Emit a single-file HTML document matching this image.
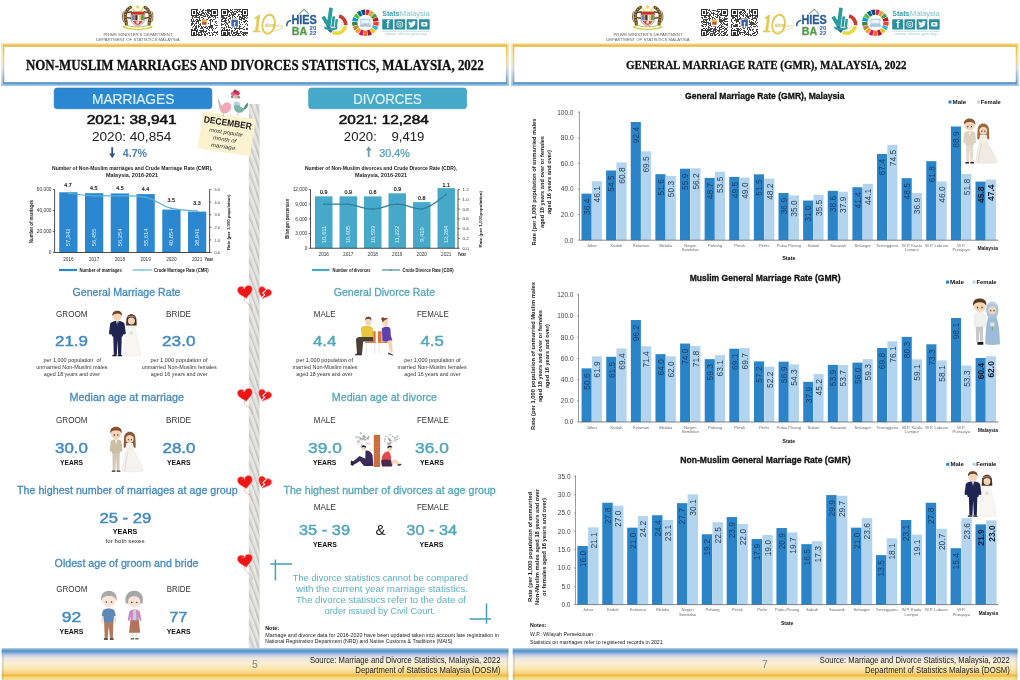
<!DOCTYPE html>
<html lang="en">
<head>
<meta charset="utf-8">
<title>Non-Muslim Marriages and Divorces Statistics, Malaysia, 2022</title>
<style>
html,body{margin:0;padding:0;background:#fff;}
body{width:1020px;height:680px;overflow:hidden;font-family:"Liberation Sans","DejaVu Sans",sans-serif;}
svg{display:block;}
svg text{font-family:"Liberation Sans","DejaVu Sans",sans-serif;white-space:pre;}
svg text.sf{font-family:"Liberation Serif","DejaVu Serif",serif;}
</style>
</head>
<body>
<svg width="1020" height="680" viewBox="0 0 1020 680">
<rect width="1020" height="680" fill="#fff"/>
<g transform="translate(0,0)"><path d="M132.8,6.2 c0.4,3.4 2.2,5 4.9,5 c2.7,0 4.5,-1.6 4.9,-5 c1.2,4.6 -1.2,7.4 -4.9,7.4 c-3.7,0 -6.1,-2.8 -4.9,-7.4z" fill="#EDD460"/><path d="M137.7,4.6 l0.7,1.5 l1.6,0.2 l-1.2,1.1 l0.3,1.6 l-1.4,-0.8 l-1.4,0.8 l0.3,-1.6 l-1.2,-1.1 l1.6,-0.2z" fill="#EDD460"/><path d="M130.4,7.4 C126.6,9.2 124.4,13.8 125.3,18.4 C125.7,20.4 126.6,22.3 126.3,24.2" stroke="#5A3F1E" stroke-width="3.1" fill="none" stroke-linecap="round"/><path d="M130.4,7.4 C126.6,9.2 124.4,13.8 125.3,18.4 C125.7,20.4 126.6,22.3 126.3,24.2" stroke="#D9A43C" stroke-width="1.5" fill="none" stroke-dasharray="1.3 1.5"/><path d="M127.2,12.6 L131.2,11.8 M127,17.6 L131,18.3" stroke="#5A3F1E" stroke-width="1.4" fill="none" stroke-linecap="round"/><path d="M124.3,22.5 C121.8,19.5 122.2,14.5 123.6,11.5" stroke="#5A3F1E" stroke-width="0.8" fill="none"/><g transform="translate(275.4,0) scale(-1,1)"><path d="M130.4,7.4 C126.6,9.2 124.4,13.8 125.3,18.4 C125.7,20.4 126.6,22.3 126.3,24.2" stroke="#5A3F1E" stroke-width="3.1" fill="none" stroke-linecap="round"/><path d="M130.4,7.4 C126.6,9.2 124.4,13.8 125.3,18.4 C125.7,20.4 126.6,22.3 126.3,24.2" stroke="#D9A43C" stroke-width="1.5" fill="none" stroke-dasharray="1.3 1.5"/><path d="M127.2,12.6 L131.2,11.8 M127,17.6 L131,18.3" stroke="#5A3F1E" stroke-width="1.4" fill="none" stroke-linecap="round"/><path d="M124.3,22.5 C121.8,19.5 122.2,14.5 123.6,11.5" stroke="#5A3F1E" stroke-width="0.8" fill="none"/></g><path d="M131,12 h13.4 v7.5 c0,3.4 -3.2,5.6 -6.7,6.5 c-3.5,-0.9 -6.7,-3.1 -6.7,-6.5z" fill="#fff" stroke="#9A2C24" stroke-width="0.5"/><rect x="131" y="12" width="13.4" height="2.7" fill="#C8302A"/><rect x="131.6" y="15.1" width="2.6" height="5.3" fill="#4D8CC0"/><rect x="134.5" y="15.1" width="1.6" height="5.3" fill="#C8302A"/><rect x="136.1" y="15.1" width="1.6" height="5.3" fill="#222"/><rect x="137.7" y="15.1" width="1.5" height="5.3" fill="#F4F4F0"/><rect x="139.2" y="15.1" width="1.6" height="5.3" fill="#E6C23C"/><rect x="141.1" y="15.1" width="2.7" height="5.3" fill="#4A9A50"/><path d="M132.7,20.9 h10 c-1,2.3 -3,3.5 -5,4.1 c-2,-0.6 -4,-1.8 -5,-4.1z" fill="#D9463C"/><circle cx="137.7" cy="22.4" r="1.4" fill="#fff" opacity="0.85"/><path d="M123.8,25.4 C128,29.7 147.4,29.7 151.6,25.4 L152.8,27 C148,31 127.4,31 122.6,27z" fill="#D6CC42"/><path d="M126,24.6 C130,27.6 145.4,27.6 149.4,24.6" fill="none" stroke="#A8BC4A" stroke-width="0.9"/></g><text x="103.5" y="36" font-size="3.9" fill="#666" textLength="69" lengthAdjust="spacingAndGlyphs">PRIME MINISTER'S DEPARTMENT</text>
<text x="96.3" y="40.5" font-size="3.9" fill="#666" textLength="83.2" lengthAdjust="spacingAndGlyphs">DEPARTMENT OF STATISTICS MALAYSIA</text>
<g shape-rendering="crispEdges"><rect x="190.8" y="9.2" width="27.2" height="27.2" fill="#fff" />
<path d="M197.37,9.2h0.94v0.94h-0.94zM200.18,9.2h0.94v0.94h-0.94zM202.99,9.2h0.94v0.94h-0.94zM206.74,9.2h0.94v0.94h-0.94zM207.68,9.2h0.94v0.94h-0.94zM208.62,9.2h0.94v0.94h-0.94zM197.37,10.14h0.94v0.94h-0.94zM202.06,10.14h0.94v0.94h-0.94zM202.99,10.14h0.94v0.94h-0.94zM204.87,10.14h0.94v0.94h-0.94zM205.81,10.14h0.94v0.94h-0.94zM206.74,10.14h0.94v0.94h-0.94zM207.68,10.14h0.94v0.94h-0.94zM208.62,10.14h0.94v0.94h-0.94zM209.56,10.14h0.94v0.94h-0.94zM199.24,11.08h0.94v0.94h-0.94zM201.12,11.08h0.94v0.94h-0.94zM202.06,11.08h0.94v0.94h-0.94zM206.74,11.08h0.94v0.94h-0.94zM207.68,11.08h0.94v0.94h-0.94zM208.62,11.08h0.94v0.94h-0.94zM209.56,11.08h0.94v0.94h-0.94zM197.37,12.01h0.94v0.94h-0.94zM199.24,12.01h0.94v0.94h-0.94zM202.06,12.01h0.94v0.94h-0.94zM202.99,12.01h0.94v0.94h-0.94zM204.87,12.01h0.94v0.94h-0.94zM206.74,12.01h0.94v0.94h-0.94zM207.68,12.01h0.94v0.94h-0.94zM210.5,12.01h0.94v0.94h-0.94zM197.37,12.95h0.94v0.94h-0.94zM198.3,12.95h0.94v0.94h-0.94zM201.12,12.95h0.94v0.94h-0.94zM202.06,12.95h0.94v0.94h-0.94zM202.99,12.95h0.94v0.94h-0.94zM203.93,12.95h0.94v0.94h-0.94zM205.81,12.95h0.94v0.94h-0.94zM207.68,12.95h0.94v0.94h-0.94zM208.62,12.95h0.94v0.94h-0.94zM210.5,12.95h0.94v0.94h-0.94zM198.3,13.89h0.94v0.94h-0.94zM199.24,13.89h0.94v0.94h-0.94zM200.18,13.89h0.94v0.94h-0.94zM201.12,13.89h0.94v0.94h-0.94zM203.93,13.89h0.94v0.94h-0.94zM205.81,13.89h0.94v0.94h-0.94zM206.74,13.89h0.94v0.94h-0.94zM209.56,13.89h0.94v0.94h-0.94zM197.37,14.83h0.94v0.94h-0.94zM198.3,14.83h0.94v0.94h-0.94zM200.18,14.83h0.94v0.94h-0.94zM201.12,14.83h0.94v0.94h-0.94zM202.06,14.83h0.94v0.94h-0.94zM202.99,14.83h0.94v0.94h-0.94zM204.87,14.83h0.94v0.94h-0.94zM206.74,14.83h0.94v0.94h-0.94zM207.68,14.83h0.94v0.94h-0.94zM209.56,14.83h0.94v0.94h-0.94zM191.74,15.77h0.94v0.94h-0.94zM192.68,15.77h0.94v0.94h-0.94zM195.49,15.77h0.94v0.94h-0.94zM196.43,15.77h0.94v0.94h-0.94zM199.24,15.77h0.94v0.94h-0.94zM202.99,15.77h0.94v0.94h-0.94zM203.93,15.77h0.94v0.94h-0.94zM204.87,15.77h0.94v0.94h-0.94zM206.74,15.77h0.94v0.94h-0.94zM208.62,15.77h0.94v0.94h-0.94zM211.43,15.77h0.94v0.94h-0.94zM212.37,15.77h0.94v0.94h-0.94zM214.25,15.77h0.94v0.94h-0.94zM215.19,15.77h0.94v0.94h-0.94zM191.74,16.7h0.94v0.94h-0.94zM193.61,16.7h0.94v0.94h-0.94zM194.55,16.7h0.94v0.94h-0.94zM195.49,16.7h0.94v0.94h-0.94zM196.43,16.7h0.94v0.94h-0.94zM197.37,16.7h0.94v0.94h-0.94zM198.3,16.7h0.94v0.94h-0.94zM199.24,16.7h0.94v0.94h-0.94zM201.12,16.7h0.94v0.94h-0.94zM202.06,16.7h0.94v0.94h-0.94zM207.68,16.7h0.94v0.94h-0.94zM208.62,16.7h0.94v0.94h-0.94zM209.56,16.7h0.94v0.94h-0.94zM213.31,16.7h0.94v0.94h-0.94zM215.19,16.7h0.94v0.94h-0.94zM217.06,16.7h0.94v0.94h-0.94zM191.74,17.64h0.94v0.94h-0.94zM199.24,17.64h0.94v0.94h-0.94zM202.99,17.64h0.94v0.94h-0.94zM207.68,17.64h0.94v0.94h-0.94zM210.5,17.64h0.94v0.94h-0.94zM215.19,17.64h0.94v0.94h-0.94zM190.8,18.58h0.94v0.94h-0.94zM192.68,18.58h0.94v0.94h-0.94zM194.55,18.58h0.94v0.94h-0.94zM196.43,18.58h0.94v0.94h-0.94zM197.37,18.58h0.94v0.94h-0.94zM199.24,18.58h0.94v0.94h-0.94zM202.06,18.58h0.94v0.94h-0.94zM202.99,18.58h0.94v0.94h-0.94zM203.93,18.58h0.94v0.94h-0.94zM205.81,18.58h0.94v0.94h-0.94zM206.74,18.58h0.94v0.94h-0.94zM209.56,18.58h0.94v0.94h-0.94zM211.43,18.58h0.94v0.94h-0.94zM213.31,18.58h0.94v0.94h-0.94zM214.25,18.58h0.94v0.94h-0.94zM190.8,19.52h0.94v0.94h-0.94zM192.68,19.52h0.94v0.94h-0.94zM193.61,19.52h0.94v0.94h-0.94zM194.55,19.52h0.94v0.94h-0.94zM199.24,19.52h0.94v0.94h-0.94zM200.18,19.52h0.94v0.94h-0.94zM207.68,19.52h0.94v0.94h-0.94zM208.62,19.52h0.94v0.94h-0.94zM209.56,19.52h0.94v0.94h-0.94zM210.5,19.52h0.94v0.94h-0.94zM212.37,19.52h0.94v0.94h-0.94zM213.31,19.52h0.94v0.94h-0.94zM216.12,19.52h0.94v0.94h-0.94zM217.06,19.52h0.94v0.94h-0.94zM190.8,20.46h0.94v0.94h-0.94zM192.68,20.46h0.94v0.94h-0.94zM195.49,20.46h0.94v0.94h-0.94zM197.37,20.46h0.94v0.94h-0.94zM198.3,20.46h0.94v0.94h-0.94zM199.24,20.46h0.94v0.94h-0.94zM200.18,20.46h0.94v0.94h-0.94zM208.62,20.46h0.94v0.94h-0.94zM209.56,20.46h0.94v0.94h-0.94zM210.5,20.46h0.94v0.94h-0.94zM212.37,20.46h0.94v0.94h-0.94zM190.8,21.39h0.94v0.94h-0.94zM191.74,21.39h0.94v0.94h-0.94zM192.68,21.39h0.94v0.94h-0.94zM193.61,21.39h0.94v0.94h-0.94zM194.55,21.39h0.94v0.94h-0.94zM196.43,21.39h0.94v0.94h-0.94zM197.37,21.39h0.94v0.94h-0.94zM198.3,21.39h0.94v0.94h-0.94zM209.56,21.39h0.94v0.94h-0.94zM212.37,21.39h0.94v0.94h-0.94zM215.19,21.39h0.94v0.94h-0.94zM216.12,21.39h0.94v0.94h-0.94zM191.74,22.33h0.94v0.94h-0.94zM196.43,22.33h0.94v0.94h-0.94zM198.3,22.33h0.94v0.94h-0.94zM209.56,22.33h0.94v0.94h-0.94zM215.19,22.33h0.94v0.94h-0.94zM190.8,23.27h0.94v0.94h-0.94zM191.74,23.27h0.94v0.94h-0.94zM192.68,23.27h0.94v0.94h-0.94zM195.49,23.27h0.94v0.94h-0.94zM196.43,23.27h0.94v0.94h-0.94zM198.3,23.27h0.94v0.94h-0.94zM200.18,23.27h0.94v0.94h-0.94zM207.68,23.27h0.94v0.94h-0.94zM209.56,23.27h0.94v0.94h-0.94zM210.5,23.27h0.94v0.94h-0.94zM216.12,23.27h0.94v0.94h-0.94zM190.8,24.21h0.94v0.94h-0.94zM191.74,24.21h0.94v0.94h-0.94zM193.61,24.21h0.94v0.94h-0.94zM199.24,24.21h0.94v0.94h-0.94zM200.18,24.21h0.94v0.94h-0.94zM209.56,24.21h0.94v0.94h-0.94zM214.25,24.21h0.94v0.94h-0.94zM190.8,25.14h0.94v0.94h-0.94zM193.61,25.14h0.94v0.94h-0.94zM196.43,25.14h0.94v0.94h-0.94zM198.3,25.14h0.94v0.94h-0.94zM200.18,25.14h0.94v0.94h-0.94zM209.56,25.14h0.94v0.94h-0.94zM210.5,25.14h0.94v0.94h-0.94zM211.43,25.14h0.94v0.94h-0.94zM212.37,25.14h0.94v0.94h-0.94zM215.19,25.14h0.94v0.94h-0.94zM216.12,25.14h0.94v0.94h-0.94zM217.06,25.14h0.94v0.94h-0.94zM192.68,26.08h0.94v0.94h-0.94zM194.55,26.08h0.94v0.94h-0.94zM195.49,26.08h0.94v0.94h-0.94zM196.43,26.08h0.94v0.94h-0.94zM198.3,26.08h0.94v0.94h-0.94zM199.24,26.08h0.94v0.94h-0.94zM201.12,26.08h0.94v0.94h-0.94zM202.99,26.08h0.94v0.94h-0.94zM204.87,26.08h0.94v0.94h-0.94zM205.81,26.08h0.94v0.94h-0.94zM207.68,26.08h0.94v0.94h-0.94zM208.62,26.08h0.94v0.94h-0.94zM209.56,26.08h0.94v0.94h-0.94zM211.43,26.08h0.94v0.94h-0.94zM212.37,26.08h0.94v0.94h-0.94zM191.74,27.02h0.94v0.94h-0.94zM195.49,27.02h0.94v0.94h-0.94zM196.43,27.02h0.94v0.94h-0.94zM198.3,27.02h0.94v0.94h-0.94zM201.12,27.02h0.94v0.94h-0.94zM202.06,27.02h0.94v0.94h-0.94zM203.93,27.02h0.94v0.94h-0.94zM204.87,27.02h0.94v0.94h-0.94zM206.74,27.02h0.94v0.94h-0.94zM208.62,27.02h0.94v0.94h-0.94zM209.56,27.02h0.94v0.94h-0.94zM211.43,27.02h0.94v0.94h-0.94zM212.37,27.02h0.94v0.94h-0.94zM216.12,27.02h0.94v0.94h-0.94zM193.61,27.96h0.94v0.94h-0.94zM194.55,27.96h0.94v0.94h-0.94zM195.49,27.96h0.94v0.94h-0.94zM196.43,27.96h0.94v0.94h-0.94zM200.18,27.96h0.94v0.94h-0.94zM201.12,27.96h0.94v0.94h-0.94zM202.06,27.96h0.94v0.94h-0.94zM205.81,27.96h0.94v0.94h-0.94zM206.74,27.96h0.94v0.94h-0.94zM208.62,27.96h0.94v0.94h-0.94zM210.5,27.96h0.94v0.94h-0.94zM211.43,27.96h0.94v0.94h-0.94zM213.31,27.96h0.94v0.94h-0.94zM215.19,27.96h0.94v0.94h-0.94zM190.8,28.9h0.94v0.94h-0.94zM191.74,28.9h0.94v0.94h-0.94zM193.61,28.9h0.94v0.94h-0.94zM194.55,28.9h0.94v0.94h-0.94zM195.49,28.9h0.94v0.94h-0.94zM197.37,28.9h0.94v0.94h-0.94zM202.99,28.9h0.94v0.94h-0.94zM207.68,28.9h0.94v0.94h-0.94zM212.37,28.9h0.94v0.94h-0.94zM197.37,29.83h0.94v0.94h-0.94zM199.24,29.83h0.94v0.94h-0.94zM200.18,29.83h0.94v0.94h-0.94zM201.12,29.83h0.94v0.94h-0.94zM202.06,29.83h0.94v0.94h-0.94zM202.99,29.83h0.94v0.94h-0.94zM205.81,29.83h0.94v0.94h-0.94zM208.62,29.83h0.94v0.94h-0.94zM212.37,29.83h0.94v0.94h-0.94zM197.37,30.77h0.94v0.94h-0.94zM200.18,30.77h0.94v0.94h-0.94zM201.12,30.77h0.94v0.94h-0.94zM202.06,30.77h0.94v0.94h-0.94zM202.99,30.77h0.94v0.94h-0.94zM203.93,30.77h0.94v0.94h-0.94zM204.87,30.77h0.94v0.94h-0.94zM205.81,30.77h0.94v0.94h-0.94zM214.25,30.77h0.94v0.94h-0.94zM217.06,30.77h0.94v0.94h-0.94zM198.3,31.71h0.94v0.94h-0.94zM199.24,31.71h0.94v0.94h-0.94zM200.18,31.71h0.94v0.94h-0.94zM201.12,31.71h0.94v0.94h-0.94zM202.99,31.71h0.94v0.94h-0.94zM204.87,31.71h0.94v0.94h-0.94zM207.68,31.71h0.94v0.94h-0.94zM208.62,31.71h0.94v0.94h-0.94zM211.43,31.71h0.94v0.94h-0.94zM213.31,31.71h0.94v0.94h-0.94zM214.25,31.71h0.94v0.94h-0.94zM215.19,31.71h0.94v0.94h-0.94zM216.12,31.71h0.94v0.94h-0.94zM217.06,31.71h0.94v0.94h-0.94zM198.3,32.65h0.94v0.94h-0.94zM201.12,32.65h0.94v0.94h-0.94zM203.93,32.65h0.94v0.94h-0.94zM205.81,32.65h0.94v0.94h-0.94zM206.74,32.65h0.94v0.94h-0.94zM208.62,32.65h0.94v0.94h-0.94zM212.37,32.65h0.94v0.94h-0.94zM216.12,32.65h0.94v0.94h-0.94zM197.37,33.59h0.94v0.94h-0.94zM198.3,33.59h0.94v0.94h-0.94zM199.24,33.59h0.94v0.94h-0.94zM201.12,33.59h0.94v0.94h-0.94zM202.06,33.59h0.94v0.94h-0.94zM203.93,33.59h0.94v0.94h-0.94zM204.87,33.59h0.94v0.94h-0.94zM206.74,33.59h0.94v0.94h-0.94zM212.37,33.59h0.94v0.94h-0.94zM213.31,33.59h0.94v0.94h-0.94zM217.06,33.59h0.94v0.94h-0.94zM197.37,34.52h0.94v0.94h-0.94zM202.99,34.52h0.94v0.94h-0.94zM203.93,34.52h0.94v0.94h-0.94zM207.68,34.52h0.94v0.94h-0.94zM208.62,34.52h0.94v0.94h-0.94zM209.56,34.52h0.94v0.94h-0.94zM210.5,34.52h0.94v0.94h-0.94zM212.37,34.52h0.94v0.94h-0.94zM214.25,34.52h0.94v0.94h-0.94zM215.19,34.52h0.94v0.94h-0.94zM198.3,35.46h0.94v0.94h-0.94zM199.24,35.46h0.94v0.94h-0.94zM200.18,35.46h0.94v0.94h-0.94zM201.12,35.46h0.94v0.94h-0.94zM203.93,35.46h0.94v0.94h-0.94zM204.87,35.46h0.94v0.94h-0.94zM208.62,35.46h0.94v0.94h-0.94zM209.56,35.46h0.94v0.94h-0.94zM210.5,35.46h0.94v0.94h-0.94zM212.37,35.46h0.94v0.94h-0.94zM215.19,35.46h0.94v0.94h-0.94z" fill="#444"/><rect x="190.8" y="9.2" width="6.57" height="6.57" fill="#333" />
<rect x="191.74" y="10.14" width="4.69" height="4.69" fill="#fff" />
<rect x="192.68" y="11.08" width="2.81" height="2.81" fill="#333" />
<rect x="211.43" y="9.2" width="6.57" height="6.57" fill="#333" />
<rect x="212.37" y="10.14" width="4.69" height="4.69" fill="#fff" />
<rect x="213.31" y="11.08" width="2.81" height="2.81" fill="#333" />
<rect x="190.8" y="29.83" width="6.57" height="6.57" fill="#333" />
<rect x="191.74" y="30.77" width="4.69" height="4.69" fill="#fff" />
<rect x="192.68" y="31.71" width="2.81" height="2.81" fill="#333" />
</g><g shape-rendering="crispEdges"><rect x="221" y="9.2" width="27.2" height="27.2" fill="#fff" />
<path d="M230.38,9.2h0.94v0.94h-0.94zM232.26,9.2h0.94v0.94h-0.94zM234.13,9.2h0.94v0.94h-0.94zM235.07,9.2h0.94v0.94h-0.94zM236.01,9.2h0.94v0.94h-0.94zM236.94,9.2h0.94v0.94h-0.94zM237.88,9.2h0.94v0.94h-0.94zM238.82,9.2h0.94v0.94h-0.94zM239.76,9.2h0.94v0.94h-0.94zM227.57,10.14h0.94v0.94h-0.94zM230.38,10.14h0.94v0.94h-0.94zM231.32,10.14h0.94v0.94h-0.94zM236.94,10.14h0.94v0.94h-0.94zM238.82,10.14h0.94v0.94h-0.94zM227.57,11.08h0.94v0.94h-0.94zM228.5,11.08h0.94v0.94h-0.94zM229.44,11.08h0.94v0.94h-0.94zM232.26,11.08h0.94v0.94h-0.94zM234.13,11.08h0.94v0.94h-0.94zM235.07,11.08h0.94v0.94h-0.94zM236.01,11.08h0.94v0.94h-0.94zM237.88,11.08h0.94v0.94h-0.94zM238.82,11.08h0.94v0.94h-0.94zM239.76,11.08h0.94v0.94h-0.94zM240.7,11.08h0.94v0.94h-0.94zM227.57,12.01h0.94v0.94h-0.94zM230.38,12.01h0.94v0.94h-0.94zM231.32,12.01h0.94v0.94h-0.94zM232.26,12.01h0.94v0.94h-0.94zM233.19,12.01h0.94v0.94h-0.94zM236.01,12.01h0.94v0.94h-0.94zM236.94,12.01h0.94v0.94h-0.94zM240.7,12.01h0.94v0.94h-0.94zM231.32,12.95h0.94v0.94h-0.94zM233.19,12.95h0.94v0.94h-0.94zM234.13,12.95h0.94v0.94h-0.94zM235.07,12.95h0.94v0.94h-0.94zM229.44,13.89h0.94v0.94h-0.94zM231.32,13.89h0.94v0.94h-0.94zM232.26,13.89h0.94v0.94h-0.94zM233.19,13.89h0.94v0.94h-0.94zM234.13,13.89h0.94v0.94h-0.94zM235.07,13.89h0.94v0.94h-0.94zM237.88,13.89h0.94v0.94h-0.94zM238.82,13.89h0.94v0.94h-0.94zM240.7,13.89h0.94v0.94h-0.94zM229.44,14.83h0.94v0.94h-0.94zM230.38,14.83h0.94v0.94h-0.94zM232.26,14.83h0.94v0.94h-0.94zM233.19,14.83h0.94v0.94h-0.94zM237.88,14.83h0.94v0.94h-0.94zM221,15.77h0.94v0.94h-0.94zM221.94,15.77h0.94v0.94h-0.94zM222.88,15.77h0.94v0.94h-0.94zM227.57,15.77h0.94v0.94h-0.94zM229.44,15.77h0.94v0.94h-0.94zM232.26,15.77h0.94v0.94h-0.94zM234.13,15.77h0.94v0.94h-0.94zM236.94,15.77h0.94v0.94h-0.94zM238.82,15.77h0.94v0.94h-0.94zM239.76,15.77h0.94v0.94h-0.94zM241.63,15.77h0.94v0.94h-0.94zM242.57,15.77h0.94v0.94h-0.94zM244.45,15.77h0.94v0.94h-0.94zM246.32,15.77h0.94v0.94h-0.94zM221,16.7h0.94v0.94h-0.94zM221.94,16.7h0.94v0.94h-0.94zM222.88,16.7h0.94v0.94h-0.94zM223.81,16.7h0.94v0.94h-0.94zM225.69,16.7h0.94v0.94h-0.94zM230.38,16.7h0.94v0.94h-0.94zM232.26,16.7h0.94v0.94h-0.94zM235.07,16.7h0.94v0.94h-0.94zM238.82,16.7h0.94v0.94h-0.94zM239.76,16.7h0.94v0.94h-0.94zM240.7,16.7h0.94v0.94h-0.94zM241.63,16.7h0.94v0.94h-0.94zM243.51,16.7h0.94v0.94h-0.94zM244.45,16.7h0.94v0.94h-0.94zM245.39,16.7h0.94v0.94h-0.94zM247.26,16.7h0.94v0.94h-0.94zM221.94,17.64h0.94v0.94h-0.94zM222.88,17.64h0.94v0.94h-0.94zM223.81,17.64h0.94v0.94h-0.94zM224.75,17.64h0.94v0.94h-0.94zM225.69,17.64h0.94v0.94h-0.94zM228.5,17.64h0.94v0.94h-0.94zM229.44,17.64h0.94v0.94h-0.94zM230.38,17.64h0.94v0.94h-0.94zM232.26,17.64h0.94v0.94h-0.94zM234.13,17.64h0.94v0.94h-0.94zM236.01,17.64h0.94v0.94h-0.94zM238.82,17.64h0.94v0.94h-0.94zM240.7,17.64h0.94v0.94h-0.94zM241.63,17.64h0.94v0.94h-0.94zM242.57,17.64h0.94v0.94h-0.94zM244.45,17.64h0.94v0.94h-0.94zM246.32,17.64h0.94v0.94h-0.94zM221,18.58h0.94v0.94h-0.94zM221.94,18.58h0.94v0.94h-0.94zM224.75,18.58h0.94v0.94h-0.94zM227.57,18.58h0.94v0.94h-0.94zM228.5,18.58h0.94v0.94h-0.94zM230.38,18.58h0.94v0.94h-0.94zM232.26,18.58h0.94v0.94h-0.94zM238.82,18.58h0.94v0.94h-0.94zM239.76,18.58h0.94v0.94h-0.94zM240.7,18.58h0.94v0.94h-0.94zM242.57,18.58h0.94v0.94h-0.94zM243.51,18.58h0.94v0.94h-0.94zM244.45,18.58h0.94v0.94h-0.94zM221,19.52h0.94v0.94h-0.94zM221.94,19.52h0.94v0.94h-0.94zM225.69,19.52h0.94v0.94h-0.94zM229.44,19.52h0.94v0.94h-0.94zM230.38,19.52h0.94v0.94h-0.94zM239.76,19.52h0.94v0.94h-0.94zM240.7,19.52h0.94v0.94h-0.94zM244.45,19.52h0.94v0.94h-0.94zM245.39,19.52h0.94v0.94h-0.94zM246.32,19.52h0.94v0.94h-0.94zM247.26,19.52h0.94v0.94h-0.94zM221,20.46h0.94v0.94h-0.94zM223.81,20.46h0.94v0.94h-0.94zM224.75,20.46h0.94v0.94h-0.94zM225.69,20.46h0.94v0.94h-0.94zM227.57,20.46h0.94v0.94h-0.94zM228.5,20.46h0.94v0.94h-0.94zM240.7,20.46h0.94v0.94h-0.94zM245.39,20.46h0.94v0.94h-0.94zM246.32,20.46h0.94v0.94h-0.94zM221,21.39h0.94v0.94h-0.94zM221.94,21.39h0.94v0.94h-0.94zM222.88,21.39h0.94v0.94h-0.94zM223.81,21.39h0.94v0.94h-0.94zM224.75,21.39h0.94v0.94h-0.94zM229.44,21.39h0.94v0.94h-0.94zM230.38,21.39h0.94v0.94h-0.94zM238.82,21.39h0.94v0.94h-0.94zM242.57,21.39h0.94v0.94h-0.94zM243.51,21.39h0.94v0.94h-0.94zM244.45,21.39h0.94v0.94h-0.94zM245.39,21.39h0.94v0.94h-0.94zM247.26,21.39h0.94v0.94h-0.94zM224.75,22.33h0.94v0.94h-0.94zM225.69,22.33h0.94v0.94h-0.94zM227.57,22.33h0.94v0.94h-0.94zM228.5,22.33h0.94v0.94h-0.94zM229.44,22.33h0.94v0.94h-0.94zM238.82,22.33h0.94v0.94h-0.94zM240.7,22.33h0.94v0.94h-0.94zM244.45,22.33h0.94v0.94h-0.94zM221,23.27h0.94v0.94h-0.94zM223.81,23.27h0.94v0.94h-0.94zM225.69,23.27h0.94v0.94h-0.94zM226.63,23.27h0.94v0.94h-0.94zM238.82,23.27h0.94v0.94h-0.94zM243.51,23.27h0.94v0.94h-0.94zM246.32,23.27h0.94v0.94h-0.94zM221,24.21h0.94v0.94h-0.94zM221.94,24.21h0.94v0.94h-0.94zM222.88,24.21h0.94v0.94h-0.94zM224.75,24.21h0.94v0.94h-0.94zM226.63,24.21h0.94v0.94h-0.94zM239.76,24.21h0.94v0.94h-0.94zM241.63,24.21h0.94v0.94h-0.94zM245.39,24.21h0.94v0.94h-0.94zM247.26,24.21h0.94v0.94h-0.94zM221,25.14h0.94v0.94h-0.94zM224.75,25.14h0.94v0.94h-0.94zM227.57,25.14h0.94v0.94h-0.94zM228.5,25.14h0.94v0.94h-0.94zM238.82,25.14h0.94v0.94h-0.94zM247.26,25.14h0.94v0.94h-0.94zM225.69,26.08h0.94v0.94h-0.94zM227.57,26.08h0.94v0.94h-0.94zM228.5,26.08h0.94v0.94h-0.94zM232.26,26.08h0.94v0.94h-0.94zM233.19,26.08h0.94v0.94h-0.94zM234.13,26.08h0.94v0.94h-0.94zM236.01,26.08h0.94v0.94h-0.94zM236.94,26.08h0.94v0.94h-0.94zM238.82,26.08h0.94v0.94h-0.94zM239.76,26.08h0.94v0.94h-0.94zM244.45,26.08h0.94v0.94h-0.94zM221,27.02h0.94v0.94h-0.94zM221.94,27.02h0.94v0.94h-0.94zM223.81,27.02h0.94v0.94h-0.94zM225.69,27.02h0.94v0.94h-0.94zM227.57,27.02h0.94v0.94h-0.94zM228.5,27.02h0.94v0.94h-0.94zM229.44,27.02h0.94v0.94h-0.94zM230.38,27.02h0.94v0.94h-0.94zM232.26,27.02h0.94v0.94h-0.94zM234.13,27.02h0.94v0.94h-0.94zM236.01,27.02h0.94v0.94h-0.94zM238.82,27.02h0.94v0.94h-0.94zM242.57,27.02h0.94v0.94h-0.94zM222.88,27.96h0.94v0.94h-0.94zM223.81,27.96h0.94v0.94h-0.94zM231.32,27.96h0.94v0.94h-0.94zM234.13,27.96h0.94v0.94h-0.94zM235.07,27.96h0.94v0.94h-0.94zM236.01,27.96h0.94v0.94h-0.94zM236.94,27.96h0.94v0.94h-0.94zM237.88,27.96h0.94v0.94h-0.94zM238.82,27.96h0.94v0.94h-0.94zM239.76,27.96h0.94v0.94h-0.94zM240.7,27.96h0.94v0.94h-0.94zM241.63,27.96h0.94v0.94h-0.94zM246.32,27.96h0.94v0.94h-0.94zM247.26,27.96h0.94v0.94h-0.94zM221.94,28.9h0.94v0.94h-0.94zM223.81,28.9h0.94v0.94h-0.94zM225.69,28.9h0.94v0.94h-0.94zM226.63,28.9h0.94v0.94h-0.94zM229.44,28.9h0.94v0.94h-0.94zM235.07,28.9h0.94v0.94h-0.94zM238.82,28.9h0.94v0.94h-0.94zM242.57,28.9h0.94v0.94h-0.94zM243.51,28.9h0.94v0.94h-0.94zM244.45,28.9h0.94v0.94h-0.94zM246.32,28.9h0.94v0.94h-0.94zM247.26,28.9h0.94v0.94h-0.94zM227.57,29.83h0.94v0.94h-0.94zM228.5,29.83h0.94v0.94h-0.94zM229.44,29.83h0.94v0.94h-0.94zM231.32,29.83h0.94v0.94h-0.94zM232.26,29.83h0.94v0.94h-0.94zM234.13,29.83h0.94v0.94h-0.94zM236.94,29.83h0.94v0.94h-0.94zM243.51,29.83h0.94v0.94h-0.94zM231.32,30.77h0.94v0.94h-0.94zM232.26,30.77h0.94v0.94h-0.94zM236.01,30.77h0.94v0.94h-0.94zM236.94,30.77h0.94v0.94h-0.94zM239.76,30.77h0.94v0.94h-0.94zM240.7,30.77h0.94v0.94h-0.94zM243.51,30.77h0.94v0.94h-0.94zM227.57,31.71h0.94v0.94h-0.94zM229.44,31.71h0.94v0.94h-0.94zM231.32,31.71h0.94v0.94h-0.94zM233.19,31.71h0.94v0.94h-0.94zM234.13,31.71h0.94v0.94h-0.94zM235.07,31.71h0.94v0.94h-0.94zM236.01,31.71h0.94v0.94h-0.94zM236.94,31.71h0.94v0.94h-0.94zM239.76,31.71h0.94v0.94h-0.94zM241.63,31.71h0.94v0.94h-0.94zM242.57,31.71h0.94v0.94h-0.94zM244.45,31.71h0.94v0.94h-0.94zM245.39,31.71h0.94v0.94h-0.94zM246.32,31.71h0.94v0.94h-0.94zM247.26,31.71h0.94v0.94h-0.94zM227.57,32.65h0.94v0.94h-0.94zM229.44,32.65h0.94v0.94h-0.94zM231.32,32.65h0.94v0.94h-0.94zM233.19,32.65h0.94v0.94h-0.94zM234.13,32.65h0.94v0.94h-0.94zM236.01,32.65h0.94v0.94h-0.94zM236.94,32.65h0.94v0.94h-0.94zM237.88,32.65h0.94v0.94h-0.94zM238.82,32.65h0.94v0.94h-0.94zM240.7,32.65h0.94v0.94h-0.94zM242.57,32.65h0.94v0.94h-0.94zM244.45,32.65h0.94v0.94h-0.94zM245.39,32.65h0.94v0.94h-0.94zM246.32,32.65h0.94v0.94h-0.94zM247.26,32.65h0.94v0.94h-0.94zM227.57,33.59h0.94v0.94h-0.94zM228.5,33.59h0.94v0.94h-0.94zM229.44,33.59h0.94v0.94h-0.94zM232.26,33.59h0.94v0.94h-0.94zM235.07,33.59h0.94v0.94h-0.94zM236.01,33.59h0.94v0.94h-0.94zM237.88,33.59h0.94v0.94h-0.94zM241.63,33.59h0.94v0.94h-0.94zM242.57,33.59h0.94v0.94h-0.94zM243.51,33.59h0.94v0.94h-0.94zM245.39,33.59h0.94v0.94h-0.94zM232.26,34.52h0.94v0.94h-0.94zM233.19,34.52h0.94v0.94h-0.94zM236.94,34.52h0.94v0.94h-0.94zM239.76,34.52h0.94v0.94h-0.94zM241.63,34.52h0.94v0.94h-0.94zM242.57,34.52h0.94v0.94h-0.94zM244.45,34.52h0.94v0.94h-0.94zM246.32,34.52h0.94v0.94h-0.94zM229.44,35.46h0.94v0.94h-0.94zM230.38,35.46h0.94v0.94h-0.94zM232.26,35.46h0.94v0.94h-0.94zM233.19,35.46h0.94v0.94h-0.94zM234.13,35.46h0.94v0.94h-0.94zM235.07,35.46h0.94v0.94h-0.94zM236.94,35.46h0.94v0.94h-0.94zM237.88,35.46h0.94v0.94h-0.94zM238.82,35.46h0.94v0.94h-0.94zM239.76,35.46h0.94v0.94h-0.94zM242.57,35.46h0.94v0.94h-0.94zM244.45,35.46h0.94v0.94h-0.94zM246.32,35.46h0.94v0.94h-0.94z" fill="#444"/><rect x="221" y="9.2" width="6.57" height="6.57" fill="#333" />
<rect x="221.94" y="10.14" width="4.69" height="4.69" fill="#fff" />
<rect x="222.88" y="11.08" width="2.81" height="2.81" fill="#333" />
<rect x="241.63" y="9.2" width="6.57" height="6.57" fill="#333" />
<rect x="242.57" y="10.14" width="4.69" height="4.69" fill="#fff" />
<rect x="243.51" y="11.08" width="2.81" height="2.81" fill="#333" />
<rect x="221" y="29.83" width="6.57" height="6.57" fill="#333" />
<rect x="221.94" y="30.77" width="4.69" height="4.69" fill="#fff" />
<rect x="222.88" y="31.71" width="2.81" height="2.81" fill="#333" />
</g><circle cx="204.4" cy="22.8" r="3.6" fill="#fff"/><path d="M201.6,22 a2.8,2.8 0 0 1 5.6,0z" fill="#E8B83A"/><rect x="202.2" y="22" width="4.4" height="2.8" fill="#C85040"/><rect x="231.3" y="19.6" width="6.6" height="6.6" fill="#3F66A8" rx="0.8" />
<rect x="230.6" y="18.9" width="8" height="8" fill="none" rx="1" stroke="#fff" stroke-width="0.9"/>
<text x="234.6" y="25.5" font-size="6.2" fill="#fff" font-weight="bold" text-anchor="middle">f</text>
<text x="252.6" y="31.6" font-size="26" fill="#E2CA5C" font-weight="bold" textLength="9.6" lengthAdjust="spacingAndGlyphs" class="sf" font-style="italic" stroke="#E2CA5C" stroke-width="0.4">1</text>
<ellipse cx="268.6" cy="24.2" rx="6.2" ry="9.6" fill="none" stroke="#E2CA5C" stroke-width="1.9" transform="rotate(10 268.6 24.2)"/><text x="264.8" y="26.8" font-size="4.6" fill="#D6BE50" font-weight="bold" textLength="10.4" lengthAdjust="spacingAndGlyphs">ulang</text>
<text x="275.6" y="26.8" font-size="4" fill="#DCC866" textLength="7.8" lengthAdjust="spacingAndGlyphs">tahun</text>
<path d="M262,31.6 c7,1.4 14,-0.5 21,-4" fill="none" stroke="#E2CA5C" stroke-width="0.7" opacity="0.8"/><path d="M299.5,13.8 l4.6,-4.6 l4.6,4.6" fill="none" stroke="#7D9F7C" stroke-width="1.1"/><path d="M286.8,26.2 c-0.4,-3.2 1.6,-5.4 4.4,-6" fill="none" stroke="#2F6A80" stroke-width="1.6"/><text x="291.4" y="24.4" font-size="11.9" fill="#2C5C96" font-weight="bold" textLength="25.4" lengthAdjust="spacingAndGlyphs" stroke="#2C5C96" stroke-width="0.35">HIES</text>
<text x="291.8" y="34.6" font-size="10.8" fill="#4F9A48" font-weight="bold" textLength="15.5" lengthAdjust="spacingAndGlyphs" stroke="#4F9A48" stroke-width="0.3">BA</text>
<text x="309.6" y="30.4" font-size="5.2" fill="#2C5C96" font-weight="bold" textLength="6.8" lengthAdjust="spacingAndGlyphs">20</text>
<text x="309.6" y="35" font-size="5.2" fill="#2C5C96" font-weight="bold" textLength="6.8" lengthAdjust="spacingAndGlyphs">22</text>
<path d="M339.08,15.9 A8.8,8.8 0 0 1 345.57,25.17" fill="none" stroke="#C83C32" stroke-width="3.6"/><path d="M345.41,26.23 A8.8,8.8 0 0 1 332.67,32.17" fill="none" stroke="#E6DA3C" stroke-width="3.6"/><path d="M331.88,31.7 A8.8,8.8 0 0 1 328.82,20.68" fill="none" stroke="#2F5FA8" stroke-width="3.4"/><path d="M340.78,21.06 A5.2,5.2 0 0 1 338.58,29.29" fill="none" stroke="#F0ECD8" stroke-width="1.4"/><path d="M321.4,17.6 l3.2,-1.8 l4.2,6.6 l-2.2,3.8z" fill="#2B9C9C"/><path d="M326.6,26.4 l2.6,-18.8 l3.6,0.5 l-2.4,19.3z" fill="#2B9C9C"/><path d="M331.2,26.8 l1.3,-10.6 l2.6,0.3 l-1.3,10.6z M334.6,27 l1,-8 l2.4,0.3 l-1,8z" fill="#2B9C9C"/><path d="M324.5,26 c1,2.4 8,3 13.2,0.8 l-0.4,2.2 c-4,2 -10.5,1.6 -13.2,-0.8z" fill="#2B9C9C"/><path d="M365.7,12.1 A10.6,10.6 0 0 1 368.95,12.71" fill="none" stroke="#E5243B" stroke-width="5.4"/><path d="M369.5,12.93 A10.6,10.6 0 0 1 372.32,14.67" fill="none" stroke="#DDA63A" stroke-width="5.4"/><path d="M372.76,15.07 A10.6,10.6 0 0 1 374.75,17.71" fill="none" stroke="#4C9F38" stroke-width="5.4"/><path d="M375.02,18.24 A10.6,10.6 0 0 1 375.92,21.43" fill="none" stroke="#C5192D" stroke-width="5.4"/><path d="M375.98,22.02 A10.6,10.6 0 0 1 375.67,25.32" fill="none" stroke="#FF3A21" stroke-width="5.4"/><path d="M375.51,25.88 A10.6,10.6 0 0 1 374.03,28.85" fill="none" stroke="#26BDE2" stroke-width="5.4"/><path d="M373.68,29.32 A10.6,10.6 0 0 1 371.23,31.55" fill="none" stroke="#FCC30B" stroke-width="5.4"/><path d="M370.73,31.86 A10.6,10.6 0 0 1 367.64,33.06" fill="none" stroke="#A21942" stroke-width="5.4"/><path d="M367.06,33.17 A10.6,10.6 0 0 1 363.74,33.17" fill="none" stroke="#FD6925" stroke-width="5.4"/><path d="M363.16,33.06 A10.6,10.6 0 0 1 360.07,31.86" fill="none" stroke="#DD1367" stroke-width="5.4"/><path d="M359.57,31.55 A10.6,10.6 0 0 1 357.12,29.32" fill="none" stroke="#FD9D24" stroke-width="5.4"/><path d="M356.77,28.85 A10.6,10.6 0 0 1 355.29,25.88" fill="none" stroke="#BF8B2E" stroke-width="5.4"/><path d="M355.13,25.32 A10.6,10.6 0 0 1 354.82,22.02" fill="none" stroke="#3F7E44" stroke-width="5.4"/><path d="M354.88,21.43 A10.6,10.6 0 0 1 355.78,18.24" fill="none" stroke="#0A97D9" stroke-width="5.4"/><path d="M356.05,17.71 A10.6,10.6 0 0 1 358.04,15.07" fill="none" stroke="#56C02B" stroke-width="5.4"/><path d="M358.48,14.67 A10.6,10.6 0 0 1 361.3,12.93" fill="none" stroke="#00689D" stroke-width="5.4"/><path d="M361.85,12.71 A10.6,10.6 0 0 1 365.1,12.1" fill="none" stroke="#19486A" stroke-width="5.4"/><rect x="360.4" y="18.8" width="10" height="6.4" fill="#A9CCE4" rx="0.6" />
<rect x="361.4" y="19.8" width="8" height="3.6" fill="#EEF5FA" />
<rect x="359.8" y="25.4" width="11.2" height="1.1" fill="#7FA6C8" />
<text x="382.3" y="15.8" font-size="6.6" fill="#3D9BA6" font-weight="bold" textLength="17.2" lengthAdjust="spacingAndGlyphs">Stats</text>
<text x="399.8" y="15.8" font-size="6.6" fill="#7FC0C6" textLength="30" lengthAdjust="spacingAndGlyphs">Malaysia</text>
<rect x="382.2" y="19.2" width="10.8" height="10.2" fill="#2F8E9C" rx="0.5" />
<rect x="394.4" y="19.2" width="10.8" height="10.2" fill="#2F8E9C" rx="0.5" />
<rect x="406.6" y="19.2" width="10.8" height="10.2" fill="#2F8E9C" rx="0.5" />
<rect x="418.9" y="19.2" width="10.8" height="10.2" fill="#2F8E9C" rx="0.5" />
<text x="387.8" y="28" font-size="10" fill="#E8F4F6" font-weight="bold" text-anchor="middle">f</text>
<rect x="397" y="21.5" width="5.6" height="5.6" rx="1.5" fill="none" stroke="#E8F4F6" stroke-width="0.9"/><circle cx="399.8" cy="24.3" r="1.3" fill="none" stroke="#E8F4F6" stroke-width="0.8"/><path d="M408.6,27.2 c4.5,1.2 7,-2 6.6,-4.8 l0.9,-1 l-1.1,0.2 c-0.9,-1.3 -3,-0.8 -2.9,1 c-1.5,0 -2.6,-0.8 -3.4,-1.7 c-0.5,1.2 0,2.2 0.7,2.8 l-0.9,-0.2 c0.1,1.1 0.8,1.8 1.7,2.1 c-0.5,0.9 -1,1.3 -1.6,1.6z" fill="#E8F4F6"/><rect x="421.2" y="21.9" width="6.2" height="4.7" rx="1.2" fill="#E8F4F6"/><path d="M423.5,23 l2.2,1.25 l-2.2,1.25z" fill="#2F8E9C"/><line x1="382.2" y1="31.3" x2="429.8" y2="31.3" stroke="#8EC4CA" stroke-width="0.5" />
<text x="385" y="35" font-size="3.7" fill="#9CCBD0" textLength="42" lengthAdjust="spacingAndGlyphs" font-style="italic">www. dosm.gov.my</text>
<g transform="translate(510,0)"><path d="M132.8,6.2 c0.4,3.4 2.2,5 4.9,5 c2.7,0 4.5,-1.6 4.9,-5 c1.2,4.6 -1.2,7.4 -4.9,7.4 c-3.7,0 -6.1,-2.8 -4.9,-7.4z" fill="#EDD460"/><path d="M137.7,4.6 l0.7,1.5 l1.6,0.2 l-1.2,1.1 l0.3,1.6 l-1.4,-0.8 l-1.4,0.8 l0.3,-1.6 l-1.2,-1.1 l1.6,-0.2z" fill="#EDD460"/><path d="M130.4,7.4 C126.6,9.2 124.4,13.8 125.3,18.4 C125.7,20.4 126.6,22.3 126.3,24.2" stroke="#5A3F1E" stroke-width="3.1" fill="none" stroke-linecap="round"/><path d="M130.4,7.4 C126.6,9.2 124.4,13.8 125.3,18.4 C125.7,20.4 126.6,22.3 126.3,24.2" stroke="#D9A43C" stroke-width="1.5" fill="none" stroke-dasharray="1.3 1.5"/><path d="M127.2,12.6 L131.2,11.8 M127,17.6 L131,18.3" stroke="#5A3F1E" stroke-width="1.4" fill="none" stroke-linecap="round"/><path d="M124.3,22.5 C121.8,19.5 122.2,14.5 123.6,11.5" stroke="#5A3F1E" stroke-width="0.8" fill="none"/><g transform="translate(275.4,0) scale(-1,1)"><path d="M130.4,7.4 C126.6,9.2 124.4,13.8 125.3,18.4 C125.7,20.4 126.6,22.3 126.3,24.2" stroke="#5A3F1E" stroke-width="3.1" fill="none" stroke-linecap="round"/><path d="M130.4,7.4 C126.6,9.2 124.4,13.8 125.3,18.4 C125.7,20.4 126.6,22.3 126.3,24.2" stroke="#D9A43C" stroke-width="1.5" fill="none" stroke-dasharray="1.3 1.5"/><path d="M127.2,12.6 L131.2,11.8 M127,17.6 L131,18.3" stroke="#5A3F1E" stroke-width="1.4" fill="none" stroke-linecap="round"/><path d="M124.3,22.5 C121.8,19.5 122.2,14.5 123.6,11.5" stroke="#5A3F1E" stroke-width="0.8" fill="none"/></g><path d="M131,12 h13.4 v7.5 c0,3.4 -3.2,5.6 -6.7,6.5 c-3.5,-0.9 -6.7,-3.1 -6.7,-6.5z" fill="#fff" stroke="#9A2C24" stroke-width="0.5"/><rect x="131" y="12" width="13.4" height="2.7" fill="#C8302A"/><rect x="131.6" y="15.1" width="2.6" height="5.3" fill="#4D8CC0"/><rect x="134.5" y="15.1" width="1.6" height="5.3" fill="#C8302A"/><rect x="136.1" y="15.1" width="1.6" height="5.3" fill="#222"/><rect x="137.7" y="15.1" width="1.5" height="5.3" fill="#F4F4F0"/><rect x="139.2" y="15.1" width="1.6" height="5.3" fill="#E6C23C"/><rect x="141.1" y="15.1" width="2.7" height="5.3" fill="#4A9A50"/><path d="M132.7,20.9 h10 c-1,2.3 -3,3.5 -5,4.1 c-2,-0.6 -4,-1.8 -5,-4.1z" fill="#D9463C"/><circle cx="137.7" cy="22.4" r="1.4" fill="#fff" opacity="0.85"/><path d="M123.8,25.4 C128,29.7 147.4,29.7 151.6,25.4 L152.8,27 C148,31 127.4,31 122.6,27z" fill="#D6CC42"/><path d="M126,24.6 C130,27.6 145.4,27.6 149.4,24.6" fill="none" stroke="#A8BC4A" stroke-width="0.9"/></g><text x="613.5" y="36" font-size="3.9" fill="#666" textLength="69" lengthAdjust="spacingAndGlyphs">PRIME MINISTER'S DEPARTMENT</text>
<text x="606.3" y="40.5" font-size="3.9" fill="#666" textLength="83.2" lengthAdjust="spacingAndGlyphs">DEPARTMENT OF STATISTICS MALAYSIA</text>
<g shape-rendering="crispEdges"><rect x="700.8" y="9.2" width="27.2" height="27.2" fill="#fff" />
<path d="M707.37,9.2h0.94v0.94h-0.94zM709.24,9.2h0.94v0.94h-0.94zM716.74,9.2h0.94v0.94h-0.94zM717.68,9.2h0.94v0.94h-0.94zM718.62,9.2h0.94v0.94h-0.94zM719.56,9.2h0.94v0.94h-0.94zM720.5,9.2h0.94v0.94h-0.94zM708.3,10.14h0.94v0.94h-0.94zM709.24,10.14h0.94v0.94h-0.94zM712.06,10.14h0.94v0.94h-0.94zM712.99,10.14h0.94v0.94h-0.94zM713.93,10.14h0.94v0.94h-0.94zM714.87,10.14h0.94v0.94h-0.94zM716.74,10.14h0.94v0.94h-0.94zM720.5,10.14h0.94v0.94h-0.94zM710.18,11.08h0.94v0.94h-0.94zM715.81,11.08h0.94v0.94h-0.94zM716.74,11.08h0.94v0.94h-0.94zM717.68,11.08h0.94v0.94h-0.94zM718.62,11.08h0.94v0.94h-0.94zM707.37,12.01h0.94v0.94h-0.94zM708.3,12.01h0.94v0.94h-0.94zM711.12,12.01h0.94v0.94h-0.94zM712.99,12.01h0.94v0.94h-0.94zM717.68,12.01h0.94v0.94h-0.94zM707.37,12.95h0.94v0.94h-0.94zM709.24,12.95h0.94v0.94h-0.94zM711.12,12.95h0.94v0.94h-0.94zM712.06,12.95h0.94v0.94h-0.94zM712.99,12.95h0.94v0.94h-0.94zM713.93,12.95h0.94v0.94h-0.94zM716.74,12.95h0.94v0.94h-0.94zM719.56,12.95h0.94v0.94h-0.94zM709.24,13.89h0.94v0.94h-0.94zM710.18,13.89h0.94v0.94h-0.94zM712.99,13.89h0.94v0.94h-0.94zM714.87,13.89h0.94v0.94h-0.94zM715.81,13.89h0.94v0.94h-0.94zM716.74,13.89h0.94v0.94h-0.94zM718.62,13.89h0.94v0.94h-0.94zM719.56,13.89h0.94v0.94h-0.94zM707.37,14.83h0.94v0.94h-0.94zM708.3,14.83h0.94v0.94h-0.94zM709.24,14.83h0.94v0.94h-0.94zM710.18,14.83h0.94v0.94h-0.94zM712.99,14.83h0.94v0.94h-0.94zM716.74,14.83h0.94v0.94h-0.94zM717.68,14.83h0.94v0.94h-0.94zM719.56,14.83h0.94v0.94h-0.94zM720.5,14.83h0.94v0.94h-0.94zM703.61,15.77h0.94v0.94h-0.94zM705.49,15.77h0.94v0.94h-0.94zM708.3,15.77h0.94v0.94h-0.94zM709.24,15.77h0.94v0.94h-0.94zM711.12,15.77h0.94v0.94h-0.94zM714.87,15.77h0.94v0.94h-0.94zM716.74,15.77h0.94v0.94h-0.94zM718.62,15.77h0.94v0.94h-0.94zM725.19,15.77h0.94v0.94h-0.94zM726.12,15.77h0.94v0.94h-0.94zM700.8,16.7h0.94v0.94h-0.94zM701.74,16.7h0.94v0.94h-0.94zM703.61,16.7h0.94v0.94h-0.94zM704.55,16.7h0.94v0.94h-0.94zM705.49,16.7h0.94v0.94h-0.94zM706.43,16.7h0.94v0.94h-0.94zM709.24,16.7h0.94v0.94h-0.94zM712.06,16.7h0.94v0.94h-0.94zM712.99,16.7h0.94v0.94h-0.94zM715.81,16.7h0.94v0.94h-0.94zM716.74,16.7h0.94v0.94h-0.94zM718.62,16.7h0.94v0.94h-0.94zM719.56,16.7h0.94v0.94h-0.94zM720.5,16.7h0.94v0.94h-0.94zM724.25,16.7h0.94v0.94h-0.94zM701.74,17.64h0.94v0.94h-0.94zM704.55,17.64h0.94v0.94h-0.94zM708.3,17.64h0.94v0.94h-0.94zM709.24,17.64h0.94v0.94h-0.94zM710.18,17.64h0.94v0.94h-0.94zM712.06,17.64h0.94v0.94h-0.94zM713.93,17.64h0.94v0.94h-0.94zM718.62,17.64h0.94v0.94h-0.94zM722.37,17.64h0.94v0.94h-0.94zM724.25,17.64h0.94v0.94h-0.94zM725.19,17.64h0.94v0.94h-0.94zM726.12,17.64h0.94v0.94h-0.94zM727.06,17.64h0.94v0.94h-0.94zM702.68,18.58h0.94v0.94h-0.94zM703.61,18.58h0.94v0.94h-0.94zM704.55,18.58h0.94v0.94h-0.94zM705.49,18.58h0.94v0.94h-0.94zM706.43,18.58h0.94v0.94h-0.94zM707.37,18.58h0.94v0.94h-0.94zM709.24,18.58h0.94v0.94h-0.94zM712.06,18.58h0.94v0.94h-0.94zM713.93,18.58h0.94v0.94h-0.94zM714.87,18.58h0.94v0.94h-0.94zM718.62,18.58h0.94v0.94h-0.94zM719.56,18.58h0.94v0.94h-0.94zM721.43,18.58h0.94v0.94h-0.94zM723.31,18.58h0.94v0.94h-0.94zM724.25,18.58h0.94v0.94h-0.94zM725.19,18.58h0.94v0.94h-0.94zM726.12,18.58h0.94v0.94h-0.94zM700.8,19.52h0.94v0.94h-0.94zM701.74,19.52h0.94v0.94h-0.94zM703.61,19.52h0.94v0.94h-0.94zM708.3,19.52h0.94v0.94h-0.94zM709.24,19.52h0.94v0.94h-0.94zM710.18,19.52h0.94v0.94h-0.94zM717.68,19.52h0.94v0.94h-0.94zM718.62,19.52h0.94v0.94h-0.94zM719.56,19.52h0.94v0.94h-0.94zM722.37,19.52h0.94v0.94h-0.94zM726.12,19.52h0.94v0.94h-0.94zM727.06,19.52h0.94v0.94h-0.94zM702.68,20.46h0.94v0.94h-0.94zM705.49,20.46h0.94v0.94h-0.94zM706.43,20.46h0.94v0.94h-0.94zM709.24,20.46h0.94v0.94h-0.94zM718.62,20.46h0.94v0.94h-0.94zM719.56,20.46h0.94v0.94h-0.94zM721.43,20.46h0.94v0.94h-0.94zM722.37,20.46h0.94v0.94h-0.94zM723.31,20.46h0.94v0.94h-0.94zM724.25,20.46h0.94v0.94h-0.94zM700.8,21.39h0.94v0.94h-0.94zM701.74,21.39h0.94v0.94h-0.94zM702.68,21.39h0.94v0.94h-0.94zM703.61,21.39h0.94v0.94h-0.94zM706.43,21.39h0.94v0.94h-0.94zM718.62,21.39h0.94v0.94h-0.94zM719.56,21.39h0.94v0.94h-0.94zM721.43,21.39h0.94v0.94h-0.94zM722.37,21.39h0.94v0.94h-0.94zM724.25,21.39h0.94v0.94h-0.94zM725.19,21.39h0.94v0.94h-0.94zM726.12,21.39h0.94v0.94h-0.94zM727.06,21.39h0.94v0.94h-0.94zM700.8,22.33h0.94v0.94h-0.94zM702.68,22.33h0.94v0.94h-0.94zM703.61,22.33h0.94v0.94h-0.94zM704.55,22.33h0.94v0.94h-0.94zM705.49,22.33h0.94v0.94h-0.94zM706.43,22.33h0.94v0.94h-0.94zM707.37,22.33h0.94v0.94h-0.94zM708.3,22.33h0.94v0.94h-0.94zM710.18,22.33h0.94v0.94h-0.94zM719.56,22.33h0.94v0.94h-0.94zM721.43,22.33h0.94v0.94h-0.94zM723.31,22.33h0.94v0.94h-0.94zM701.74,23.27h0.94v0.94h-0.94zM706.43,23.27h0.94v0.94h-0.94zM708.3,23.27h0.94v0.94h-0.94zM709.24,23.27h0.94v0.94h-0.94zM710.18,23.27h0.94v0.94h-0.94zM720.5,23.27h0.94v0.94h-0.94zM721.43,23.27h0.94v0.94h-0.94zM723.31,23.27h0.94v0.94h-0.94zM724.25,23.27h0.94v0.94h-0.94zM727.06,23.27h0.94v0.94h-0.94zM702.68,24.21h0.94v0.94h-0.94zM703.61,24.21h0.94v0.94h-0.94zM705.49,24.21h0.94v0.94h-0.94zM706.43,24.21h0.94v0.94h-0.94zM708.3,24.21h0.94v0.94h-0.94zM710.18,24.21h0.94v0.94h-0.94zM719.56,24.21h0.94v0.94h-0.94zM722.37,24.21h0.94v0.94h-0.94zM724.25,24.21h0.94v0.94h-0.94zM725.19,24.21h0.94v0.94h-0.94zM726.12,24.21h0.94v0.94h-0.94zM727.06,24.21h0.94v0.94h-0.94zM700.8,25.14h0.94v0.94h-0.94zM701.74,25.14h0.94v0.94h-0.94zM704.55,25.14h0.94v0.94h-0.94zM706.43,25.14h0.94v0.94h-0.94zM709.24,25.14h0.94v0.94h-0.94zM710.18,25.14h0.94v0.94h-0.94zM718.62,25.14h0.94v0.94h-0.94zM721.43,25.14h0.94v0.94h-0.94zM726.12,25.14h0.94v0.94h-0.94zM727.06,25.14h0.94v0.94h-0.94zM701.74,26.08h0.94v0.94h-0.94zM702.68,26.08h0.94v0.94h-0.94zM704.55,26.08h0.94v0.94h-0.94zM705.49,26.08h0.94v0.94h-0.94zM708.3,26.08h0.94v0.94h-0.94zM711.12,26.08h0.94v0.94h-0.94zM712.99,26.08h0.94v0.94h-0.94zM713.93,26.08h0.94v0.94h-0.94zM714.87,26.08h0.94v0.94h-0.94zM717.68,26.08h0.94v0.94h-0.94zM720.5,26.08h0.94v0.94h-0.94zM721.43,26.08h0.94v0.94h-0.94zM722.37,26.08h0.94v0.94h-0.94zM723.31,26.08h0.94v0.94h-0.94zM704.55,27.02h0.94v0.94h-0.94zM708.3,27.02h0.94v0.94h-0.94zM709.24,27.02h0.94v0.94h-0.94zM714.87,27.02h0.94v0.94h-0.94zM716.74,27.02h0.94v0.94h-0.94zM718.62,27.02h0.94v0.94h-0.94zM719.56,27.02h0.94v0.94h-0.94zM720.5,27.02h0.94v0.94h-0.94zM721.43,27.02h0.94v0.94h-0.94zM724.25,27.02h0.94v0.94h-0.94zM727.06,27.02h0.94v0.94h-0.94zM702.68,27.96h0.94v0.94h-0.94zM703.61,27.96h0.94v0.94h-0.94zM706.43,27.96h0.94v0.94h-0.94zM708.3,27.96h0.94v0.94h-0.94zM710.18,27.96h0.94v0.94h-0.94zM711.12,27.96h0.94v0.94h-0.94zM712.06,27.96h0.94v0.94h-0.94zM713.93,27.96h0.94v0.94h-0.94zM714.87,27.96h0.94v0.94h-0.94zM718.62,27.96h0.94v0.94h-0.94zM722.37,27.96h0.94v0.94h-0.94zM723.31,27.96h0.94v0.94h-0.94zM725.19,27.96h0.94v0.94h-0.94zM726.12,27.96h0.94v0.94h-0.94zM700.8,28.9h0.94v0.94h-0.94zM701.74,28.9h0.94v0.94h-0.94zM705.49,28.9h0.94v0.94h-0.94zM707.37,28.9h0.94v0.94h-0.94zM708.3,28.9h0.94v0.94h-0.94zM709.24,28.9h0.94v0.94h-0.94zM710.18,28.9h0.94v0.94h-0.94zM711.12,28.9h0.94v0.94h-0.94zM712.99,28.9h0.94v0.94h-0.94zM713.93,28.9h0.94v0.94h-0.94zM714.87,28.9h0.94v0.94h-0.94zM715.81,28.9h0.94v0.94h-0.94zM718.62,28.9h0.94v0.94h-0.94zM719.56,28.9h0.94v0.94h-0.94zM720.5,28.9h0.94v0.94h-0.94zM721.43,28.9h0.94v0.94h-0.94zM724.25,28.9h0.94v0.94h-0.94zM725.19,28.9h0.94v0.94h-0.94zM726.12,28.9h0.94v0.94h-0.94zM707.37,29.83h0.94v0.94h-0.94zM708.3,29.83h0.94v0.94h-0.94zM709.24,29.83h0.94v0.94h-0.94zM710.18,29.83h0.94v0.94h-0.94zM712.99,29.83h0.94v0.94h-0.94zM713.93,29.83h0.94v0.94h-0.94zM714.87,29.83h0.94v0.94h-0.94zM716.74,29.83h0.94v0.94h-0.94zM717.68,29.83h0.94v0.94h-0.94zM718.62,29.83h0.94v0.94h-0.94zM724.25,29.83h0.94v0.94h-0.94zM727.06,29.83h0.94v0.94h-0.94zM707.37,30.77h0.94v0.94h-0.94zM708.3,30.77h0.94v0.94h-0.94zM710.18,30.77h0.94v0.94h-0.94zM711.12,30.77h0.94v0.94h-0.94zM712.06,30.77h0.94v0.94h-0.94zM712.99,30.77h0.94v0.94h-0.94zM714.87,30.77h0.94v0.94h-0.94zM715.81,30.77h0.94v0.94h-0.94zM717.68,30.77h0.94v0.94h-0.94zM718.62,30.77h0.94v0.94h-0.94zM720.5,30.77h0.94v0.94h-0.94zM721.43,30.77h0.94v0.94h-0.94zM722.37,30.77h0.94v0.94h-0.94zM723.31,30.77h0.94v0.94h-0.94zM726.12,30.77h0.94v0.94h-0.94zM707.37,31.71h0.94v0.94h-0.94zM709.24,31.71h0.94v0.94h-0.94zM712.99,31.71h0.94v0.94h-0.94zM713.93,31.71h0.94v0.94h-0.94zM714.87,31.71h0.94v0.94h-0.94zM718.62,31.71h0.94v0.94h-0.94zM720.5,31.71h0.94v0.94h-0.94zM721.43,31.71h0.94v0.94h-0.94zM724.25,31.71h0.94v0.94h-0.94zM725.19,31.71h0.94v0.94h-0.94zM726.12,31.71h0.94v0.94h-0.94zM708.3,32.65h0.94v0.94h-0.94zM710.18,32.65h0.94v0.94h-0.94zM711.12,32.65h0.94v0.94h-0.94zM712.06,32.65h0.94v0.94h-0.94zM712.99,32.65h0.94v0.94h-0.94zM713.93,32.65h0.94v0.94h-0.94zM716.74,32.65h0.94v0.94h-0.94zM717.68,32.65h0.94v0.94h-0.94zM719.56,32.65h0.94v0.94h-0.94zM723.31,32.65h0.94v0.94h-0.94zM724.25,32.65h0.94v0.94h-0.94zM725.19,32.65h0.94v0.94h-0.94zM707.37,33.59h0.94v0.94h-0.94zM708.3,33.59h0.94v0.94h-0.94zM710.18,33.59h0.94v0.94h-0.94zM712.06,33.59h0.94v0.94h-0.94zM713.93,33.59h0.94v0.94h-0.94zM714.87,33.59h0.94v0.94h-0.94zM715.81,33.59h0.94v0.94h-0.94zM718.62,33.59h0.94v0.94h-0.94zM720.5,33.59h0.94v0.94h-0.94zM721.43,33.59h0.94v0.94h-0.94zM724.25,33.59h0.94v0.94h-0.94zM725.19,33.59h0.94v0.94h-0.94zM727.06,33.59h0.94v0.94h-0.94zM707.37,34.52h0.94v0.94h-0.94zM712.06,34.52h0.94v0.94h-0.94zM716.74,34.52h0.94v0.94h-0.94zM717.68,34.52h0.94v0.94h-0.94zM719.56,34.52h0.94v0.94h-0.94zM720.5,34.52h0.94v0.94h-0.94zM721.43,34.52h0.94v0.94h-0.94zM723.31,34.52h0.94v0.94h-0.94zM710.18,35.46h0.94v0.94h-0.94zM711.12,35.46h0.94v0.94h-0.94zM712.06,35.46h0.94v0.94h-0.94zM713.93,35.46h0.94v0.94h-0.94zM714.87,35.46h0.94v0.94h-0.94zM717.68,35.46h0.94v0.94h-0.94zM718.62,35.46h0.94v0.94h-0.94zM721.43,35.46h0.94v0.94h-0.94zM722.37,35.46h0.94v0.94h-0.94zM723.31,35.46h0.94v0.94h-0.94zM724.25,35.46h0.94v0.94h-0.94zM726.12,35.46h0.94v0.94h-0.94zM727.06,35.46h0.94v0.94h-0.94z" fill="#444"/><rect x="700.8" y="9.2" width="6.57" height="6.57" fill="#333" />
<rect x="701.74" y="10.14" width="4.69" height="4.69" fill="#fff" />
<rect x="702.68" y="11.08" width="2.81" height="2.81" fill="#333" />
<rect x="721.43" y="9.2" width="6.57" height="6.57" fill="#333" />
<rect x="722.37" y="10.14" width="4.69" height="4.69" fill="#fff" />
<rect x="723.31" y="11.08" width="2.81" height="2.81" fill="#333" />
<rect x="700.8" y="29.83" width="6.57" height="6.57" fill="#333" />
<rect x="701.74" y="30.77" width="4.69" height="4.69" fill="#fff" />
<rect x="702.68" y="31.71" width="2.81" height="2.81" fill="#333" />
</g><g shape-rendering="crispEdges"><rect x="731" y="9.2" width="27.2" height="27.2" fill="#fff" />
<path d="M737.57,9.2h0.94v0.94h-0.94zM739.44,9.2h0.94v0.94h-0.94zM740.38,9.2h0.94v0.94h-0.94zM741.32,9.2h0.94v0.94h-0.94zM742.26,9.2h0.94v0.94h-0.94zM743.19,9.2h0.94v0.94h-0.94zM744.13,9.2h0.94v0.94h-0.94zM746.94,9.2h0.94v0.94h-0.94zM748.82,9.2h0.94v0.94h-0.94zM750.7,9.2h0.94v0.94h-0.94zM738.5,10.14h0.94v0.94h-0.94zM742.26,10.14h0.94v0.94h-0.94zM743.19,10.14h0.94v0.94h-0.94zM744.13,10.14h0.94v0.94h-0.94zM748.82,10.14h0.94v0.94h-0.94zM750.7,10.14h0.94v0.94h-0.94zM738.5,11.08h0.94v0.94h-0.94zM740.38,11.08h0.94v0.94h-0.94zM741.32,11.08h0.94v0.94h-0.94zM744.13,11.08h0.94v0.94h-0.94zM745.07,11.08h0.94v0.94h-0.94zM748.82,11.08h0.94v0.94h-0.94zM749.76,11.08h0.94v0.94h-0.94zM750.7,11.08h0.94v0.94h-0.94zM738.5,12.01h0.94v0.94h-0.94zM739.44,12.01h0.94v0.94h-0.94zM740.38,12.01h0.94v0.94h-0.94zM741.32,12.01h0.94v0.94h-0.94zM743.19,12.01h0.94v0.94h-0.94zM745.07,12.01h0.94v0.94h-0.94zM748.82,12.01h0.94v0.94h-0.94zM750.7,12.01h0.94v0.94h-0.94zM739.44,12.95h0.94v0.94h-0.94zM740.38,12.95h0.94v0.94h-0.94zM742.26,12.95h0.94v0.94h-0.94zM744.13,12.95h0.94v0.94h-0.94zM746.94,12.95h0.94v0.94h-0.94zM748.82,12.95h0.94v0.94h-0.94zM738.5,13.89h0.94v0.94h-0.94zM740.38,13.89h0.94v0.94h-0.94zM741.32,13.89h0.94v0.94h-0.94zM743.19,13.89h0.94v0.94h-0.94zM745.07,13.89h0.94v0.94h-0.94zM746.94,13.89h0.94v0.94h-0.94zM749.76,13.89h0.94v0.94h-0.94zM739.44,14.83h0.94v0.94h-0.94zM742.26,14.83h0.94v0.94h-0.94zM743.19,14.83h0.94v0.94h-0.94zM745.07,14.83h0.94v0.94h-0.94zM746.01,14.83h0.94v0.94h-0.94zM746.94,14.83h0.94v0.94h-0.94zM748.82,14.83h0.94v0.94h-0.94zM749.76,14.83h0.94v0.94h-0.94zM750.7,14.83h0.94v0.94h-0.94zM731,15.77h0.94v0.94h-0.94zM731.94,15.77h0.94v0.94h-0.94zM732.88,15.77h0.94v0.94h-0.94zM734.75,15.77h0.94v0.94h-0.94zM735.69,15.77h0.94v0.94h-0.94zM736.63,15.77h0.94v0.94h-0.94zM739.44,15.77h0.94v0.94h-0.94zM743.19,15.77h0.94v0.94h-0.94zM746.01,15.77h0.94v0.94h-0.94zM746.94,15.77h0.94v0.94h-0.94zM747.88,15.77h0.94v0.94h-0.94zM748.82,15.77h0.94v0.94h-0.94zM749.76,15.77h0.94v0.94h-0.94zM751.63,15.77h0.94v0.94h-0.94zM755.39,15.77h0.94v0.94h-0.94zM756.32,15.77h0.94v0.94h-0.94zM757.26,15.77h0.94v0.94h-0.94zM731.94,16.7h0.94v0.94h-0.94zM732.88,16.7h0.94v0.94h-0.94zM733.81,16.7h0.94v0.94h-0.94zM736.63,16.7h0.94v0.94h-0.94zM740.38,16.7h0.94v0.94h-0.94zM745.07,16.7h0.94v0.94h-0.94zM746.94,16.7h0.94v0.94h-0.94zM747.88,16.7h0.94v0.94h-0.94zM751.63,16.7h0.94v0.94h-0.94zM753.51,16.7h0.94v0.94h-0.94zM754.45,16.7h0.94v0.94h-0.94zM755.39,16.7h0.94v0.94h-0.94zM757.26,16.7h0.94v0.94h-0.94zM731.94,17.64h0.94v0.94h-0.94zM732.88,17.64h0.94v0.94h-0.94zM734.75,17.64h0.94v0.94h-0.94zM736.63,17.64h0.94v0.94h-0.94zM739.44,17.64h0.94v0.94h-0.94zM740.38,17.64h0.94v0.94h-0.94zM741.32,17.64h0.94v0.94h-0.94zM742.26,17.64h0.94v0.94h-0.94zM743.19,17.64h0.94v0.94h-0.94zM744.13,17.64h0.94v0.94h-0.94zM745.07,17.64h0.94v0.94h-0.94zM746.01,17.64h0.94v0.94h-0.94zM747.88,17.64h0.94v0.94h-0.94zM748.82,17.64h0.94v0.94h-0.94zM751.63,17.64h0.94v0.94h-0.94zM752.57,17.64h0.94v0.94h-0.94zM753.51,17.64h0.94v0.94h-0.94zM754.45,17.64h0.94v0.94h-0.94zM755.39,17.64h0.94v0.94h-0.94zM756.32,17.64h0.94v0.94h-0.94zM731,18.58h0.94v0.94h-0.94zM734.75,18.58h0.94v0.94h-0.94zM735.69,18.58h0.94v0.94h-0.94zM736.63,18.58h0.94v0.94h-0.94zM737.57,18.58h0.94v0.94h-0.94zM739.44,18.58h0.94v0.94h-0.94zM740.38,18.58h0.94v0.94h-0.94zM741.32,18.58h0.94v0.94h-0.94zM744.13,18.58h0.94v0.94h-0.94zM745.07,18.58h0.94v0.94h-0.94zM746.01,18.58h0.94v0.94h-0.94zM746.94,18.58h0.94v0.94h-0.94zM750.7,18.58h0.94v0.94h-0.94zM751.63,18.58h0.94v0.94h-0.94zM753.51,18.58h0.94v0.94h-0.94zM756.32,18.58h0.94v0.94h-0.94zM731.94,19.52h0.94v0.94h-0.94zM732.88,19.52h0.94v0.94h-0.94zM733.81,19.52h0.94v0.94h-0.94zM735.69,19.52h0.94v0.94h-0.94zM736.63,19.52h0.94v0.94h-0.94zM739.44,19.52h0.94v0.94h-0.94zM747.88,19.52h0.94v0.94h-0.94zM748.82,19.52h0.94v0.94h-0.94zM750.7,19.52h0.94v0.94h-0.94zM753.51,19.52h0.94v0.94h-0.94zM755.39,19.52h0.94v0.94h-0.94zM731,20.46h0.94v0.94h-0.94zM733.81,20.46h0.94v0.94h-0.94zM734.75,20.46h0.94v0.94h-0.94zM735.69,20.46h0.94v0.94h-0.94zM736.63,20.46h0.94v0.94h-0.94zM737.57,20.46h0.94v0.94h-0.94zM740.38,20.46h0.94v0.94h-0.94zM748.82,20.46h0.94v0.94h-0.94zM752.57,20.46h0.94v0.94h-0.94zM756.32,20.46h0.94v0.94h-0.94zM731,21.39h0.94v0.94h-0.94zM735.69,21.39h0.94v0.94h-0.94zM736.63,21.39h0.94v0.94h-0.94zM737.57,21.39h0.94v0.94h-0.94zM738.5,21.39h0.94v0.94h-0.94zM740.38,21.39h0.94v0.94h-0.94zM747.88,21.39h0.94v0.94h-0.94zM748.82,21.39h0.94v0.94h-0.94zM750.7,21.39h0.94v0.94h-0.94zM753.51,21.39h0.94v0.94h-0.94zM755.39,21.39h0.94v0.94h-0.94zM731.94,22.33h0.94v0.94h-0.94zM735.69,22.33h0.94v0.94h-0.94zM738.5,22.33h0.94v0.94h-0.94zM739.44,22.33h0.94v0.94h-0.94zM740.38,22.33h0.94v0.94h-0.94zM748.82,22.33h0.94v0.94h-0.94zM749.76,22.33h0.94v0.94h-0.94zM750.7,22.33h0.94v0.94h-0.94zM751.63,22.33h0.94v0.94h-0.94zM752.57,22.33h0.94v0.94h-0.94zM753.51,22.33h0.94v0.94h-0.94zM755.39,22.33h0.94v0.94h-0.94zM757.26,22.33h0.94v0.94h-0.94zM732.88,23.27h0.94v0.94h-0.94zM739.44,23.27h0.94v0.94h-0.94zM740.38,23.27h0.94v0.94h-0.94zM749.76,23.27h0.94v0.94h-0.94zM750.7,23.27h0.94v0.94h-0.94zM751.63,23.27h0.94v0.94h-0.94zM752.57,23.27h0.94v0.94h-0.94zM754.45,23.27h0.94v0.94h-0.94zM756.32,23.27h0.94v0.94h-0.94zM731,24.21h0.94v0.94h-0.94zM731.94,24.21h0.94v0.94h-0.94zM734.75,24.21h0.94v0.94h-0.94zM735.69,24.21h0.94v0.94h-0.94zM736.63,24.21h0.94v0.94h-0.94zM738.5,24.21h0.94v0.94h-0.94zM740.38,24.21h0.94v0.94h-0.94zM747.88,24.21h0.94v0.94h-0.94zM748.82,24.21h0.94v0.94h-0.94zM749.76,24.21h0.94v0.94h-0.94zM750.7,24.21h0.94v0.94h-0.94zM751.63,24.21h0.94v0.94h-0.94zM752.57,24.21h0.94v0.94h-0.94zM754.45,24.21h0.94v0.94h-0.94zM755.39,24.21h0.94v0.94h-0.94zM731,25.14h0.94v0.94h-0.94zM732.88,25.14h0.94v0.94h-0.94zM733.81,25.14h0.94v0.94h-0.94zM734.75,25.14h0.94v0.94h-0.94zM735.69,25.14h0.94v0.94h-0.94zM736.63,25.14h0.94v0.94h-0.94zM738.5,25.14h0.94v0.94h-0.94zM740.38,25.14h0.94v0.94h-0.94zM750.7,25.14h0.94v0.94h-0.94zM753.51,25.14h0.94v0.94h-0.94zM756.32,25.14h0.94v0.94h-0.94zM731,26.08h0.94v0.94h-0.94zM732.88,26.08h0.94v0.94h-0.94zM733.81,26.08h0.94v0.94h-0.94zM734.75,26.08h0.94v0.94h-0.94zM735.69,26.08h0.94v0.94h-0.94zM736.63,26.08h0.94v0.94h-0.94zM739.44,26.08h0.94v0.94h-0.94zM740.38,26.08h0.94v0.94h-0.94zM742.26,26.08h0.94v0.94h-0.94zM743.19,26.08h0.94v0.94h-0.94zM745.07,26.08h0.94v0.94h-0.94zM746.94,26.08h0.94v0.94h-0.94zM749.76,26.08h0.94v0.94h-0.94zM752.57,26.08h0.94v0.94h-0.94zM753.51,26.08h0.94v0.94h-0.94zM754.45,26.08h0.94v0.94h-0.94zM755.39,26.08h0.94v0.94h-0.94zM757.26,26.08h0.94v0.94h-0.94zM731,27.02h0.94v0.94h-0.94zM742.26,27.02h0.94v0.94h-0.94zM743.19,27.02h0.94v0.94h-0.94zM745.07,27.02h0.94v0.94h-0.94zM746.94,27.02h0.94v0.94h-0.94zM747.88,27.02h0.94v0.94h-0.94zM748.82,27.02h0.94v0.94h-0.94zM750.7,27.02h0.94v0.94h-0.94zM753.51,27.02h0.94v0.94h-0.94zM731.94,27.96h0.94v0.94h-0.94zM735.69,27.96h0.94v0.94h-0.94zM736.63,27.96h0.94v0.94h-0.94zM737.57,27.96h0.94v0.94h-0.94zM740.38,27.96h0.94v0.94h-0.94zM743.19,27.96h0.94v0.94h-0.94zM744.13,27.96h0.94v0.94h-0.94zM746.94,27.96h0.94v0.94h-0.94zM748.82,27.96h0.94v0.94h-0.94zM731,28.9h0.94v0.94h-0.94zM733.81,28.9h0.94v0.94h-0.94zM736.63,28.9h0.94v0.94h-0.94zM737.57,28.9h0.94v0.94h-0.94zM739.44,28.9h0.94v0.94h-0.94zM741.32,28.9h0.94v0.94h-0.94zM746.94,28.9h0.94v0.94h-0.94zM748.82,28.9h0.94v0.94h-0.94zM749.76,28.9h0.94v0.94h-0.94zM751.63,28.9h0.94v0.94h-0.94zM752.57,28.9h0.94v0.94h-0.94zM756.32,28.9h0.94v0.94h-0.94zM757.26,28.9h0.94v0.94h-0.94zM737.57,29.83h0.94v0.94h-0.94zM738.5,29.83h0.94v0.94h-0.94zM740.38,29.83h0.94v0.94h-0.94zM743.19,29.83h0.94v0.94h-0.94zM744.13,29.83h0.94v0.94h-0.94zM747.88,29.83h0.94v0.94h-0.94zM749.76,29.83h0.94v0.94h-0.94zM751.63,29.83h0.94v0.94h-0.94zM756.32,29.83h0.94v0.94h-0.94zM737.57,30.77h0.94v0.94h-0.94zM739.44,30.77h0.94v0.94h-0.94zM744.13,30.77h0.94v0.94h-0.94zM745.07,30.77h0.94v0.94h-0.94zM747.88,30.77h0.94v0.94h-0.94zM752.57,30.77h0.94v0.94h-0.94zM756.32,30.77h0.94v0.94h-0.94zM757.26,30.77h0.94v0.94h-0.94zM739.44,31.71h0.94v0.94h-0.94zM740.38,31.71h0.94v0.94h-0.94zM741.32,31.71h0.94v0.94h-0.94zM742.26,31.71h0.94v0.94h-0.94zM743.19,31.71h0.94v0.94h-0.94zM744.13,31.71h0.94v0.94h-0.94zM745.07,31.71h0.94v0.94h-0.94zM746.94,31.71h0.94v0.94h-0.94zM747.88,31.71h0.94v0.94h-0.94zM753.51,31.71h0.94v0.94h-0.94zM754.45,31.71h0.94v0.94h-0.94zM755.39,31.71h0.94v0.94h-0.94zM757.26,31.71h0.94v0.94h-0.94zM738.5,32.65h0.94v0.94h-0.94zM739.44,32.65h0.94v0.94h-0.94zM740.38,32.65h0.94v0.94h-0.94zM744.13,32.65h0.94v0.94h-0.94zM746.01,32.65h0.94v0.94h-0.94zM747.88,32.65h0.94v0.94h-0.94zM751.63,32.65h0.94v0.94h-0.94zM752.57,32.65h0.94v0.94h-0.94zM753.51,32.65h0.94v0.94h-0.94zM754.45,32.65h0.94v0.94h-0.94zM757.26,32.65h0.94v0.94h-0.94zM737.57,33.59h0.94v0.94h-0.94zM740.38,33.59h0.94v0.94h-0.94zM742.26,33.59h0.94v0.94h-0.94zM745.07,33.59h0.94v0.94h-0.94zM746.01,33.59h0.94v0.94h-0.94zM746.94,33.59h0.94v0.94h-0.94zM747.88,33.59h0.94v0.94h-0.94zM748.82,33.59h0.94v0.94h-0.94zM749.76,33.59h0.94v0.94h-0.94zM751.63,33.59h0.94v0.94h-0.94zM756.32,33.59h0.94v0.94h-0.94zM739.44,34.52h0.94v0.94h-0.94zM740.38,34.52h0.94v0.94h-0.94zM742.26,34.52h0.94v0.94h-0.94zM744.13,34.52h0.94v0.94h-0.94zM748.82,34.52h0.94v0.94h-0.94zM749.76,34.52h0.94v0.94h-0.94zM751.63,34.52h0.94v0.94h-0.94zM752.57,34.52h0.94v0.94h-0.94zM753.51,34.52h0.94v0.94h-0.94zM757.26,34.52h0.94v0.94h-0.94zM737.57,35.46h0.94v0.94h-0.94zM738.5,35.46h0.94v0.94h-0.94zM744.13,35.46h0.94v0.94h-0.94zM747.88,35.46h0.94v0.94h-0.94zM749.76,35.46h0.94v0.94h-0.94zM750.7,35.46h0.94v0.94h-0.94zM752.57,35.46h0.94v0.94h-0.94zM753.51,35.46h0.94v0.94h-0.94zM754.45,35.46h0.94v0.94h-0.94zM755.39,35.46h0.94v0.94h-0.94z" fill="#444"/><rect x="731" y="9.2" width="6.57" height="6.57" fill="#333" />
<rect x="731.94" y="10.14" width="4.69" height="4.69" fill="#fff" />
<rect x="732.88" y="11.08" width="2.81" height="2.81" fill="#333" />
<rect x="751.63" y="9.2" width="6.57" height="6.57" fill="#333" />
<rect x="752.57" y="10.14" width="4.69" height="4.69" fill="#fff" />
<rect x="753.51" y="11.08" width="2.81" height="2.81" fill="#333" />
<rect x="731" y="29.83" width="6.57" height="6.57" fill="#333" />
<rect x="731.94" y="30.77" width="4.69" height="4.69" fill="#fff" />
<rect x="732.88" y="31.71" width="2.81" height="2.81" fill="#333" />
</g><circle cx="714.4" cy="22.8" r="3.6" fill="#fff"/><path d="M711.6,22 a2.8,2.8 0 0 1 5.6,0z" fill="#E8B83A"/><rect x="712.2" y="22" width="4.4" height="2.8" fill="#C85040"/><rect x="741.3" y="19.6" width="6.6" height="6.6" fill="#3F66A8" rx="0.8" />
<rect x="740.6" y="18.9" width="8" height="8" fill="none" rx="1" stroke="#fff" stroke-width="0.9"/>
<text x="744.6" y="25.5" font-size="6.2" fill="#fff" font-weight="bold" text-anchor="middle">f</text>
<text x="762.6" y="31.6" font-size="26" fill="#E2CA5C" font-weight="bold" textLength="9.6" lengthAdjust="spacingAndGlyphs" class="sf" font-style="italic" stroke="#E2CA5C" stroke-width="0.4">1</text>
<ellipse cx="778.6" cy="24.2" rx="6.2" ry="9.6" fill="none" stroke="#E2CA5C" stroke-width="1.9" transform="rotate(10 778.6 24.2)"/><text x="774.8" y="26.8" font-size="4.6" fill="#D6BE50" font-weight="bold" textLength="10.4" lengthAdjust="spacingAndGlyphs">ulang</text>
<text x="785.6" y="26.8" font-size="4" fill="#DCC866" textLength="7.8" lengthAdjust="spacingAndGlyphs">tahun</text>
<path d="M772,31.6 c7,1.4 14,-0.5 21,-4" fill="none" stroke="#E2CA5C" stroke-width="0.7" opacity="0.8"/><path d="M809.5,13.8 l4.6,-4.6 l4.6,4.6" fill="none" stroke="#7D9F7C" stroke-width="1.1"/><path d="M796.8,26.2 c-0.4,-3.2 1.6,-5.4 4.4,-6" fill="none" stroke="#2F6A80" stroke-width="1.6"/><text x="801.4" y="24.4" font-size="11.9" fill="#2C5C96" font-weight="bold" textLength="25.4" lengthAdjust="spacingAndGlyphs" stroke="#2C5C96" stroke-width="0.35">HIES</text>
<text x="801.8" y="34.6" font-size="10.8" fill="#4F9A48" font-weight="bold" textLength="15.5" lengthAdjust="spacingAndGlyphs" stroke="#4F9A48" stroke-width="0.3">BA</text>
<text x="819.6" y="30.4" font-size="5.2" fill="#2C5C96" font-weight="bold" textLength="6.8" lengthAdjust="spacingAndGlyphs">20</text>
<text x="819.6" y="35" font-size="5.2" fill="#2C5C96" font-weight="bold" textLength="6.8" lengthAdjust="spacingAndGlyphs">22</text>
<path d="M849.08,15.9 A8.8,8.8 0 0 1 855.57,25.17" fill="none" stroke="#C83C32" stroke-width="3.6"/><path d="M855.41,26.23 A8.8,8.8 0 0 1 842.67,32.17" fill="none" stroke="#E6DA3C" stroke-width="3.6"/><path d="M841.88,31.7 A8.8,8.8 0 0 1 838.82,20.68" fill="none" stroke="#2F5FA8" stroke-width="3.4"/><path d="M850.78,21.06 A5.2,5.2 0 0 1 848.58,29.29" fill="none" stroke="#F0ECD8" stroke-width="1.4"/><path d="M831.4,17.6 l3.2,-1.8 l4.2,6.6 l-2.2,3.8z" fill="#2B9C9C"/><path d="M836.6,26.4 l2.6,-18.8 l3.6,0.5 l-2.4,19.3z" fill="#2B9C9C"/><path d="M841.2,26.8 l1.3,-10.6 l2.6,0.3 l-1.3,10.6z M844.6,27 l1,-8 l2.4,0.3 l-1,8z" fill="#2B9C9C"/><path d="M834.5,26 c1,2.4 8,3 13.2,0.8 l-0.4,2.2 c-4,2 -10.5,1.6 -13.2,-0.8z" fill="#2B9C9C"/><path d="M875.7,12.1 A10.6,10.6 0 0 1 878.95,12.71" fill="none" stroke="#E5243B" stroke-width="5.4"/><path d="M879.5,12.93 A10.6,10.6 0 0 1 882.32,14.67" fill="none" stroke="#DDA63A" stroke-width="5.4"/><path d="M882.76,15.07 A10.6,10.6 0 0 1 884.75,17.71" fill="none" stroke="#4C9F38" stroke-width="5.4"/><path d="M885.02,18.24 A10.6,10.6 0 0 1 885.92,21.43" fill="none" stroke="#C5192D" stroke-width="5.4"/><path d="M885.98,22.02 A10.6,10.6 0 0 1 885.67,25.32" fill="none" stroke="#FF3A21" stroke-width="5.4"/><path d="M885.51,25.88 A10.6,10.6 0 0 1 884.03,28.85" fill="none" stroke="#26BDE2" stroke-width="5.4"/><path d="M883.68,29.32 A10.6,10.6 0 0 1 881.23,31.55" fill="none" stroke="#FCC30B" stroke-width="5.4"/><path d="M880.73,31.86 A10.6,10.6 0 0 1 877.64,33.06" fill="none" stroke="#A21942" stroke-width="5.4"/><path d="M877.06,33.17 A10.6,10.6 0 0 1 873.74,33.17" fill="none" stroke="#FD6925" stroke-width="5.4"/><path d="M873.16,33.06 A10.6,10.6 0 0 1 870.07,31.86" fill="none" stroke="#DD1367" stroke-width="5.4"/><path d="M869.57,31.55 A10.6,10.6 0 0 1 867.12,29.32" fill="none" stroke="#FD9D24" stroke-width="5.4"/><path d="M866.77,28.85 A10.6,10.6 0 0 1 865.29,25.88" fill="none" stroke="#BF8B2E" stroke-width="5.4"/><path d="M865.13,25.32 A10.6,10.6 0 0 1 864.82,22.02" fill="none" stroke="#3F7E44" stroke-width="5.4"/><path d="M864.88,21.43 A10.6,10.6 0 0 1 865.78,18.24" fill="none" stroke="#0A97D9" stroke-width="5.4"/><path d="M866.05,17.71 A10.6,10.6 0 0 1 868.04,15.07" fill="none" stroke="#56C02B" stroke-width="5.4"/><path d="M868.48,14.67 A10.6,10.6 0 0 1 871.3,12.93" fill="none" stroke="#00689D" stroke-width="5.4"/><path d="M871.85,12.71 A10.6,10.6 0 0 1 875.1,12.1" fill="none" stroke="#19486A" stroke-width="5.4"/><rect x="870.4" y="18.8" width="10" height="6.4" fill="#A9CCE4" rx="0.6" />
<rect x="871.4" y="19.8" width="8" height="3.6" fill="#EEF5FA" />
<rect x="869.8" y="25.4" width="11.2" height="1.1" fill="#7FA6C8" />
<text x="892.3" y="15.8" font-size="6.6" fill="#3D9BA6" font-weight="bold" textLength="17.2" lengthAdjust="spacingAndGlyphs">Stats</text>
<text x="909.8" y="15.8" font-size="6.6" fill="#7FC0C6" textLength="30" lengthAdjust="spacingAndGlyphs">Malaysia</text>
<rect x="892.2" y="19.2" width="10.8" height="10.2" fill="#2F8E9C" rx="0.5" />
<rect x="904.4" y="19.2" width="10.8" height="10.2" fill="#2F8E9C" rx="0.5" />
<rect x="916.6" y="19.2" width="10.8" height="10.2" fill="#2F8E9C" rx="0.5" />
<rect x="928.9" y="19.2" width="10.8" height="10.2" fill="#2F8E9C" rx="0.5" />
<text x="897.8" y="28" font-size="10" fill="#E8F4F6" font-weight="bold" text-anchor="middle">f</text>
<rect x="907" y="21.5" width="5.6" height="5.6" rx="1.5" fill="none" stroke="#E8F4F6" stroke-width="0.9"/><circle cx="909.8" cy="24.3" r="1.3" fill="none" stroke="#E8F4F6" stroke-width="0.8"/><path d="M918.6,27.2 c4.5,1.2 7,-2 6.6,-4.8 l0.9,-1 l-1.1,0.2 c-0.9,-1.3 -3,-0.8 -2.9,1 c-1.5,0 -2.6,-0.8 -3.4,-1.7 c-0.5,1.2 0,2.2 0.7,2.8 l-0.9,-0.2 c0.1,1.1 0.8,1.8 1.7,2.1 c-0.5,0.9 -1,1.3 -1.6,1.6z" fill="#E8F4F6"/><rect x="931.2" y="21.9" width="6.2" height="4.7" rx="1.2" fill="#E8F4F6"/><path d="M933.5,23 l2.2,1.25 l-2.2,1.25z" fill="#2F8E9C"/><line x1="892.2" y1="31.3" x2="939.8" y2="31.3" stroke="#8EC4CA" stroke-width="0.5" />
<text x="895" y="35" font-size="3.7" fill="#9CCBD0" textLength="42" lengthAdjust="spacingAndGlyphs" font-style="italic">www. dosm.gov.my</text>
<defs><linearGradient id="tb0a" x1="0" y1="0" x2="0" y2="1"><stop offset="0" stop-color="#F7E3A4"/><stop offset="0.4" stop-color="#F6EBC4"/><stop offset="0.62" stop-color="#DCE2E6"/><stop offset="1" stop-color="#9DC3E2"/></linearGradient><linearGradient id="tb0b" x1="0" y1="0" x2="0" y2="1"><stop offset="0" stop-color="#E8B942"/><stop offset="0.35" stop-color="#EDD27C"/><stop offset="0.6" stop-color="#CFD3D4"/><stop offset="0.85" stop-color="#86AED4"/><stop offset="1" stop-color="#5791C4"/></linearGradient><filter id="tb0f" x="-5%" y="-20%" width="110%" height="140%"><feGaussianBlur stdDeviation="0.7"/></filter></defs><rect x="1.1" y="43.1" width="508" height="43" fill="url(#tb0a)" opacity="0.8" filter="url(#tb0f)"/><rect x="1.6" y="43.5" width="507" height="42.2" fill="url(#tb0a)"/><rect x="2.9000000000000004" y="44.6" width="504.4" height="39.7" fill="url(#tb0b)"/><rect x="4.300000000000001" y="46.8" width="501.6" height="35.3" fill="#fff"/><text x="26" y="69.82" font-size="14.6" fill="#111" font-weight="bold" textLength="457.7" lengthAdjust="spacingAndGlyphs" class="sf" stroke="#111" stroke-width="0.3">NON-MUSLIM MARRIAGES AND DIVORCES STATISTICS, MALAYSIA, 2022</text>
<defs><linearGradient id="tb510a" x1="0" y1="0" x2="0" y2="1"><stop offset="0" stop-color="#F7E3A4"/><stop offset="0.4" stop-color="#F6EBC4"/><stop offset="0.62" stop-color="#DCE2E6"/><stop offset="1" stop-color="#9DC3E2"/></linearGradient><linearGradient id="tb510b" x1="0" y1="0" x2="0" y2="1"><stop offset="0" stop-color="#E8B942"/><stop offset="0.35" stop-color="#EDD27C"/><stop offset="0.6" stop-color="#CFD3D4"/><stop offset="0.85" stop-color="#86AED4"/><stop offset="1" stop-color="#5791C4"/></linearGradient><filter id="tb510f" x="-5%" y="-20%" width="110%" height="140%"><feGaussianBlur stdDeviation="0.7"/></filter></defs><rect x="511.1" y="43.1" width="507.79999999999995" height="43" fill="url(#tb510a)" opacity="0.8" filter="url(#tb510f)"/><rect x="511.6" y="43.5" width="506.79999999999995" height="42.2" fill="url(#tb510a)"/><rect x="512.9" y="44.6" width="504.19999999999993" height="39.7" fill="url(#tb510b)"/><rect x="514.3000000000001" y="46.8" width="501.4" height="35.3" fill="#fff"/><text x="626" y="69.06" font-size="12.3" fill="#111" font-weight="bold" textLength="280.5" lengthAdjust="spacingAndGlyphs" class="sf" stroke="#111" stroke-width="0.3">GENERAL MARRIAGE RATE (GMR), MALAYSIA, 2022</text>
<defs><linearGradient id="ropeg" x1="0" y1="0" x2="1" y2="0"><stop offset="0" stop-color="#E0E1DD"/><stop offset="0.12" stop-color="#D4D5D1"/><stop offset="0.5" stop-color="#DDDEDA"/><stop offset="0.88" stop-color="#CACBC7"/><stop offset="1" stop-color="#D8D9D5"/></linearGradient><clipPath id="ropec"><rect x="248.8" y="104" width="10.800000000000011" height="544.6"/></clipPath></defs><rect x="248.8" y="104" width="10.800000000000011" height="544.6" fill="url(#ropeg)"/><g clip-path="url(#ropec)"><path d="M247.8,70 C252.58,78 255.82,90 260.6,104 M247.8,84.5 C252.58,92.5 255.82,104.5 260.6,118.5 M247.8,99 C252.58,107 255.82,119 260.6,133 M247.8,113.5 C252.58,121.5 255.82,133.5 260.6,147.5 M247.8,128 C252.58,136 255.82,148 260.6,162 M247.8,142.5 C252.58,150.5 255.82,162.5 260.6,176.5 M247.8,157 C252.58,165 255.82,177 260.6,191 M247.8,171.5 C252.58,179.5 255.82,191.5 260.6,205.5 M247.8,186 C252.58,194 255.82,206 260.6,220 M247.8,200.5 C252.58,208.5 255.82,220.5 260.6,234.5 M247.8,215 C252.58,223 255.82,235 260.6,249 M247.8,229.5 C252.58,237.5 255.82,249.5 260.6,263.5 M247.8,244 C252.58,252 255.82,264 260.6,278 M247.8,258.5 C252.58,266.5 255.82,278.5 260.6,292.5 M247.8,273 C252.58,281 255.82,293 260.6,307 M247.8,287.5 C252.58,295.5 255.82,307.5 260.6,321.5 M247.8,302 C252.58,310 255.82,322 260.6,336 M247.8,316.5 C252.58,324.5 255.82,336.5 260.6,350.5 M247.8,331 C252.58,339 255.82,351 260.6,365 M247.8,345.5 C252.58,353.5 255.82,365.5 260.6,379.5 M247.8,360 C252.58,368 255.82,380 260.6,394 M247.8,374.5 C252.58,382.5 255.82,394.5 260.6,408.5 M247.8,389 C252.58,397 255.82,409 260.6,423 M247.8,403.5 C252.58,411.5 255.82,423.5 260.6,437.5 M247.8,418 C252.58,426 255.82,438 260.6,452 M247.8,432.5 C252.58,440.5 255.82,452.5 260.6,466.5 M247.8,447 C252.58,455 255.82,467 260.6,481 M247.8,461.5 C252.58,469.5 255.82,481.5 260.6,495.5 M247.8,476 C252.58,484 255.82,496 260.6,510 M247.8,490.5 C252.58,498.5 255.82,510.5 260.6,524.5 M247.8,505 C252.58,513 255.82,525 260.6,539 M247.8,519.5 C252.58,527.5 255.82,539.5 260.6,553.5 M247.8,534 C252.58,542 255.82,554 260.6,568 M247.8,548.5 C252.58,556.5 255.82,568.5 260.6,582.5 M247.8,563 C252.58,571 255.82,583 260.6,597 M247.8,577.5 C252.58,585.5 255.82,597.5 260.6,611.5 M247.8,592 C252.58,600 255.82,612 260.6,626 M247.8,606.5 C252.58,614.5 255.82,626.5 260.6,640.5 M247.8,621 C252.58,629 255.82,641 260.6,655 M247.8,635.5 C252.58,643.5 255.82,655.5 260.6,669.5 M247.8,650 C252.58,658 255.82,670 260.6,684 " fill="none" stroke="#9EA09C" stroke-width="0.9" opacity="0.4"/><path d="M247.8,75.5 C252.58,83.5 255.82,95.5 260.6,109.5 M247.8,90 C252.58,98 255.82,110 260.6,124 M247.8,104.5 C252.58,112.5 255.82,124.5 260.6,138.5 M247.8,119 C252.58,127 255.82,139 260.6,153 M247.8,133.5 C252.58,141.5 255.82,153.5 260.6,167.5 M247.8,148 C252.58,156 255.82,168 260.6,182 M247.8,162.5 C252.58,170.5 255.82,182.5 260.6,196.5 M247.8,177 C252.58,185 255.82,197 260.6,211 M247.8,191.5 C252.58,199.5 255.82,211.5 260.6,225.5 M247.8,206 C252.58,214 255.82,226 260.6,240 M247.8,220.5 C252.58,228.5 255.82,240.5 260.6,254.5 M247.8,235 C252.58,243 255.82,255 260.6,269 M247.8,249.5 C252.58,257.5 255.82,269.5 260.6,283.5 M247.8,264 C252.58,272 255.82,284 260.6,298 M247.8,278.5 C252.58,286.5 255.82,298.5 260.6,312.5 M247.8,293 C252.58,301 255.82,313 260.6,327 M247.8,307.5 C252.58,315.5 255.82,327.5 260.6,341.5 M247.8,322 C252.58,330 255.82,342 260.6,356 M247.8,336.5 C252.58,344.5 255.82,356.5 260.6,370.5 M247.8,351 C252.58,359 255.82,371 260.6,385 M247.8,365.5 C252.58,373.5 255.82,385.5 260.6,399.5 M247.8,380 C252.58,388 255.82,400 260.6,414 M247.8,394.5 C252.58,402.5 255.82,414.5 260.6,428.5 M247.8,409 C252.58,417 255.82,429 260.6,443 M247.8,423.5 C252.58,431.5 255.82,443.5 260.6,457.5 M247.8,438 C252.58,446 255.82,458 260.6,472 M247.8,452.5 C252.58,460.5 255.82,472.5 260.6,486.5 M247.8,467 C252.58,475 255.82,487 260.6,501 M247.8,481.5 C252.58,489.5 255.82,501.5 260.6,515.5 M247.8,496 C252.58,504 255.82,516 260.6,530 M247.8,510.5 C252.58,518.5 255.82,530.5 260.6,544.5 M247.8,525 C252.58,533 255.82,545 260.6,559 M247.8,539.5 C252.58,547.5 255.82,559.5 260.6,573.5 M247.8,554 C252.58,562 255.82,574 260.6,588 M247.8,568.5 C252.58,576.5 255.82,588.5 260.6,602.5 M247.8,583 C252.58,591 255.82,603 260.6,617 M247.8,597.5 C252.58,605.5 255.82,617.5 260.6,631.5 M247.8,612 C252.58,620 255.82,632 260.6,646 M247.8,626.5 C252.58,634.5 255.82,646.5 260.6,660.5 M247.8,641 C252.58,649 255.82,661 260.6,675 M247.8,655.5 C252.58,663.5 255.82,675.5 260.6,689.5 " fill="none" stroke="#F0F1ED" stroke-width="2.6" opacity="0.6"/></g><g><g transform="rotate(8.8 203.3 111.2)"><rect x="203.3" y="111.2" width="53" height="37.5" fill="#FBF2D0" />
<text x="229.4" y="122" font-size="9.2" fill="#1a1a1a" font-weight="bold" text-anchor="middle" textLength="48.5" lengthAdjust="spacingAndGlyphs">DECEMBER</text>
<text x="229" y="130.4" font-size="5.6" fill="#333" text-anchor="middle" textLength="34" lengthAdjust="spacingAndGlyphs" font-style="italic">most popular</text>
<text x="228.6" y="137.6" font-size="5.6" fill="#333" text-anchor="middle" textLength="23.5" lengthAdjust="spacingAndGlyphs" font-style="italic">month of</text>
<text x="228.2" y="144.9" font-size="5.6" fill="#333" text-anchor="middle" textLength="24.5" lengthAdjust="spacingAndGlyphs" font-style="italic">marriage</text>
</g><path d="M217.8,98.5 c1.8,1.5 2.2,5.5 4.2,7.5 c1.5,-3.5 5.5,-4.8 8,-2.6 c2,1.8 1.8,5.4 -0.6,7.8 c-2.8,2.8 -7,3 -8.6,0.6 c-2,-3 -2,-8 -3,-13.3z" fill="#EFA9B6"/><path d="M217.8,98.5 c1.8,1.5 2.2,5.5 4.2,7.5 c-0.6,1.8 -0.6,3.6 0,5 c-2.4,-2.4 -3.2,-7.5 -4.2,-12.5z" fill="#CDBBBB"/><ellipse cx="236.7" cy="105" rx="3.4" ry="3.8" fill="#BCD3DE"/><path d="M234,106.5 c1,-1.5 4,-2 5.8,-0.5 c1.5,1.5 3.2,2.5 5.5,2 c-0.5,2.8 -3,4.8 -6,4.8 c-3,0 -5.5,-2.5 -5.3,-6.3z" fill="#7DB4A8"/><path d="M243.5,108.5 c1.2,-2.2 2,-4.2 4.6,-6 c0.3,2.6 -0.6,5 -2.6,6.8z" fill="#4F8A84"/><path d="M223.5,113.5 v3 M238.2,112.8 v3" stroke="#B8A090" stroke-width="0.6"/><circle cx="233.2" cy="93.8" r="2.3" fill="#E8657F"/><circle cx="237.2" cy="93.2" r="2.5" fill="#C93A5C"/><circle cx="235.2" cy="91.3" r="1.8" fill="#B02E50"/><circle cx="235.8" cy="96.6" r="2.2" fill="#F2A6B6"/><circle cx="232.2" cy="97" r="1.3" fill="#6E9A6A"/><circle cx="238.8" cy="97.2" r="1.3" fill="#6E9A6A"/></g><rect x="54.2" y="88" width="157.7" height="20.8" fill="#2A88D2" rx="3" stroke="#2374B8" stroke-width="0.6"/>
<text x="92" y="103.66" font-size="14.4" fill="#DCF1FD" textLength="82.3" lengthAdjust="spacingAndGlyphs" stroke="#DCF1FD" stroke-width="0.2">MARRIAGES</text>
<rect x="308.6" y="88" width="158" height="20.8" fill="#45A9C9" rx="3" stroke="#3A93B2" stroke-width="0.6"/>
<text x="353.2" y="103.66" font-size="14.4" fill="#E0F4F9" textLength="68.6" lengthAdjust="spacingAndGlyphs" stroke="#E0F4F9" stroke-width="0.2">DIVORCES</text>
<text x="86.7" y="123.85" font-size="13" fill="#111" textLength="90" lengthAdjust="spacingAndGlyphs" stroke="#111" stroke-width="0.55">2021: 38,941</text>
<text x="92" y="140.71" font-size="12.6" fill="#222" textLength="79.3" lengthAdjust="spacingAndGlyphs">2020: 40,854</text>
<text x="338.8" y="123.85" font-size="13" fill="#111" textLength="90" lengthAdjust="spacingAndGlyphs" stroke="#111" stroke-width="0.55">2021: 12,284</text>
<text x="343.8" y="140.71" font-size="12.6" fill="#222" textLength="33" lengthAdjust="spacingAndGlyphs">2020:</text>
<text x="391.5" y="140.71" font-size="12.6" fill="#222" textLength="32.8" lengthAdjust="spacingAndGlyphs">9,419</text>
<path d="M111.3,147.2 h1.8 v6.4 h2.2 l-3.1,4.6 l-3.1,-4.6 h2.2z" fill="#2C5588"/><text x="122.8" y="156.75" font-size="10.2" fill="#4A82AC" font-weight="bold" textLength="24.2" lengthAdjust="spacingAndGlyphs">4.7%</text>
<path d="M367.8,157 h1.7 v-6.6 h2 l-2.85,-4.2 l-2.85,4.2 h2z" fill="#6E9C9E"/><text x="379.3" y="156.75" font-size="10.2" fill="#56A2AE" textLength="30.7" lengthAdjust="spacingAndGlyphs" stroke="#56A2AE" stroke-width="0.25">30.4%</text>
<text x="52" y="170.09" font-size="5" fill="#222" font-weight="bold" textLength="160.5" lengthAdjust="spacingAndGlyphs">Number of Non-Muslim marriages and Crude Marriage Rate (CMR),</text>
<text x="106" y="176.99" font-size="5" fill="#222" font-weight="bold" textLength="52" lengthAdjust="spacingAndGlyphs">Malaysia, 2016-2021</text>
<rect x="59.25" y="192.29" width="18.25" height="60.21" fill="#2B87CF" />
<text x="70.38" y="237.4" font-size="5.8" fill="#E4F3FC" text-anchor="middle" textLength="17.5" lengthAdjust="spacingAndGlyphs" transform="rotate(-90 70.38 237.4)">57,342</text>
<text x="68" y="187.4" font-size="5.3" fill="#222" text-anchor="middle" stroke="#222" stroke-width="0.2">4.7</text>
<text x="68.38" y="260.7" font-size="4.7" fill="#333" text-anchor="middle">2016</text>
<rect x="85" y="193.22" width="18.25" height="59.28" fill="#2B87CF" />
<text x="96.12" y="237.4" font-size="5.8" fill="#E4F3FC" text-anchor="middle" textLength="17.5" lengthAdjust="spacingAndGlyphs" transform="rotate(-90 96.12 237.4)">56,455</text>
<text x="93.75" y="189.9" font-size="5.3" fill="#222" text-anchor="middle" stroke="#222" stroke-width="0.2">4.5</text>
<text x="94.12" y="260.7" font-size="4.7" fill="#333" text-anchor="middle">2017</text>
<rect x="110.75" y="193.43" width="18.25" height="59.07" fill="#2B87CF" />
<text x="121.88" y="237.4" font-size="5.8" fill="#E4F3FC" text-anchor="middle" textLength="17.5" lengthAdjust="spacingAndGlyphs" transform="rotate(-90 121.88 237.4)">56,254</text>
<text x="120" y="189.9" font-size="5.3" fill="#222" text-anchor="middle" stroke="#222" stroke-width="0.2">4.5</text>
<text x="119.88" y="260.7" font-size="4.7" fill="#333" text-anchor="middle">2018</text>
<rect x="136.5" y="194.11" width="18.25" height="58.39" fill="#2B87CF" />
<text x="147.62" y="237.4" font-size="5.8" fill="#E4F3FC" text-anchor="middle" textLength="17.5" lengthAdjust="spacingAndGlyphs" transform="rotate(-90 147.62 237.4)">55,614</text>
<text x="145.5" y="190.7" font-size="5.3" fill="#222" text-anchor="middle" stroke="#222" stroke-width="0.2">4.4</text>
<text x="145.62" y="260.7" font-size="4.7" fill="#333" text-anchor="middle">2019</text>
<rect x="162.25" y="209.6" width="18.25" height="42.9" fill="#2B87CF" />
<text x="173.38" y="237.4" font-size="5.8" fill="#E4F3FC" text-anchor="middle" textLength="17.5" lengthAdjust="spacingAndGlyphs" transform="rotate(-90 173.38 237.4)">40,854</text>
<text x="171.3" y="202.4" font-size="5.3" fill="#222" text-anchor="middle" stroke="#222" stroke-width="0.2">3.5</text>
<text x="171.38" y="260.7" font-size="4.7" fill="#333" text-anchor="middle">2020</text>
<rect x="188" y="211.61" width="18.25" height="40.89" fill="#2B87CF" />
<text x="199.12" y="237.4" font-size="5.8" fill="#E4F3FC" text-anchor="middle" textLength="17.5" lengthAdjust="spacingAndGlyphs" transform="rotate(-90 199.12 237.4)">38,941</text>
<text x="197" y="204.9" font-size="5.3" fill="#222" text-anchor="middle" stroke="#222" stroke-width="0.2">3.3</text>
<text x="197.12" y="260.7" font-size="4.7" fill="#333" text-anchor="middle">2021</text>
<line x1="54.6" y1="189.5" x2="54.6" y2="252.5" stroke="#222" stroke-width="0.8" />
<line x1="54.2" y1="252.5" x2="210" y2="252.5" stroke="#222" stroke-width="0.8" />
<line x1="209.6" y1="189.5" x2="209.6" y2="252.5" stroke="#222" stroke-width="0.8" />
<line x1="52.8" y1="252.5" x2="54.6" y2="252.5" stroke="#222" stroke-width="0.6" />
<text x="51.5" y="254.2" font-size="4.8" fill="#333" text-anchor="end">0</text>
<line x1="52.8" y1="231.5" x2="54.6" y2="231.5" stroke="#222" stroke-width="0.6" />
<text x="51.5" y="233.2" font-size="4.8" fill="#333" text-anchor="end">20,000</text>
<line x1="52.8" y1="210.5" x2="54.6" y2="210.5" stroke="#222" stroke-width="0.6" />
<text x="51.5" y="212.2" font-size="4.8" fill="#333" text-anchor="end">40,000</text>
<line x1="52.8" y1="189.5" x2="54.6" y2="189.5" stroke="#222" stroke-width="0.6" />
<text x="51.5" y="191.2" font-size="4.8" fill="#333" text-anchor="end">60,000</text>
<line x1="209.6" y1="252.5" x2="211.4" y2="252.5" stroke="#222" stroke-width="0.6" />
<text x="214.5" y="254.1" font-size="4.4" fill="#333" textLength="5.5" lengthAdjust="spacingAndGlyphs">0.0</text>
<line x1="209.6" y1="239.9" x2="211.4" y2="239.9" stroke="#222" stroke-width="0.6" />
<text x="214.5" y="241.5" font-size="4.4" fill="#333" textLength="5.5" lengthAdjust="spacingAndGlyphs">1.0</text>
<line x1="209.6" y1="227.3" x2="211.4" y2="227.3" stroke="#222" stroke-width="0.6" />
<text x="214.5" y="228.9" font-size="4.4" fill="#333" textLength="5.5" lengthAdjust="spacingAndGlyphs">2.0</text>
<line x1="209.6" y1="214.7" x2="211.4" y2="214.7" stroke="#222" stroke-width="0.6" />
<text x="214.5" y="216.3" font-size="4.4" fill="#333" textLength="5.5" lengthAdjust="spacingAndGlyphs">3.0</text>
<line x1="209.6" y1="202.1" x2="211.4" y2="202.1" stroke="#222" stroke-width="0.6" />
<text x="214.5" y="203.7" font-size="4.4" fill="#333" textLength="5.5" lengthAdjust="spacingAndGlyphs">4.0</text>
<line x1="209.6" y1="189.5" x2="211.4" y2="189.5" stroke="#222" stroke-width="0.6" />
<text x="214.5" y="191.1" font-size="4.4" fill="#333" textLength="5.5" lengthAdjust="spacingAndGlyphs">5.0</text>
<path d="M68.38,193.28 C74.81,193.91 81.25,195.17 94.12,195.8 C107,195.8 107,195.8 119.88,195.8 C132.75,196.12 132.75,195.8 145.62,197.06 C158.5,200.21 158.5,204.94 171.38,208.4 C184.25,210.92 190.69,210.29 197.12,210.92" fill="none" stroke="#5AB0D8" stroke-width="1.2"/><circle cx="68.38" cy="193.28" r="0.8" fill="#5AB0D8"/><circle cx="94.12" cy="195.8" r="0.8" fill="#5AB0D8"/><circle cx="119.88" cy="195.8" r="0.8" fill="#5AB0D8"/><circle cx="145.62" cy="197.06" r="0.8" fill="#5AB0D8"/><circle cx="171.38" cy="208.4" r="0.8" fill="#5AB0D8"/><circle cx="197.12" cy="210.92" r="0.8" fill="#5AB0D8"/><text x="32.8" y="243" font-size="4.6" fill="#222" font-weight="bold" textLength="43" lengthAdjust="spacingAndGlyphs" transform="rotate(-90 32.8 243)">Number of marriages</text>
<text x="230" y="250.05" font-size="4.4" fill="#222" font-weight="bold" textLength="55.5" lengthAdjust="spacingAndGlyphs" transform="rotate(-90 230 250.05)">Rate (per 1,000 population)</text>
<text x="204.5" y="260.65" font-size="4.6" fill="#222" font-weight="bold" textLength="8.5" lengthAdjust="spacingAndGlyphs">Year</text>
<line x1="59" y1="270" x2="77" y2="270" stroke="#2B87CF" stroke-width="2.2" />
<text x="79.5" y="271.61" font-size="4.5" fill="#222" font-weight="bold" textLength="42.25" lengthAdjust="spacingAndGlyphs">Number of marriages</text>
<line x1="132.5" y1="270" x2="152" y2="270" stroke="#5AB0D8" stroke-width="1.1" />
<circle cx="142.25" cy="270" r="0.8" fill="#5AB0D8"/><text x="154" y="271.61" font-size="4.5" fill="#222" font-weight="bold" textLength="54.75" lengthAdjust="spacingAndGlyphs">Crude Marriage Rate (CMR)</text>
<text x="305" y="170.09" font-size="5" fill="#222" font-weight="bold" textLength="152" lengthAdjust="spacingAndGlyphs">Number of Non-Muslim divorces and Crude Divorce Rate (CDR),</text>
<text x="355" y="176.99" font-size="5" fill="#222" font-weight="bold" textLength="52" lengthAdjust="spacingAndGlyphs">Malaysia, 2016-2021</text>
<rect x="315" y="196.3" width="17.5" height="51.95" fill="#47A9C9" />
<text x="325.75" y="234.5" font-size="5.8" fill="#E4F3FC" text-anchor="middle" textLength="17.5" lengthAdjust="spacingAndGlyphs" transform="rotate(-90 325.75 234.5)">10,611</text>
<text x="323.75" y="194.4" font-size="5.3" fill="#222" text-anchor="middle" stroke="#222" stroke-width="0.2">0.9</text>
<text x="323.75" y="256.2" font-size="4.7" fill="#333" text-anchor="middle">2016</text>
<rect x="339.5" y="196.33" width="17.5" height="51.92" fill="#47A9C9" />
<text x="350.25" y="234.5" font-size="5.8" fill="#E4F3FC" text-anchor="middle" textLength="17.5" lengthAdjust="spacingAndGlyphs" transform="rotate(-90 350.25 234.5)">10,605</text>
<text x="348.25" y="194.4" font-size="5.3" fill="#222" text-anchor="middle" stroke="#222" stroke-width="0.2">0.9</text>
<text x="348.25" y="256.2" font-size="4.7" fill="#333" text-anchor="middle">2017</text>
<rect x="364" y="196.39" width="17.5" height="51.86" fill="#47A9C9" />
<text x="374.75" y="234.5" font-size="5.8" fill="#E4F3FC" text-anchor="middle" textLength="17.5" lengthAdjust="spacingAndGlyphs" transform="rotate(-90 374.75 234.5)">10,593</text>
<text x="372.75" y="194.4" font-size="5.3" fill="#222" text-anchor="middle" stroke="#222" stroke-width="0.2">0.8</text>
<text x="372.75" y="256.2" font-size="4.7" fill="#333" text-anchor="middle">2018</text>
<rect x="388.5" y="193.31" width="17.5" height="54.94" fill="#47A9C9" />
<text x="399.25" y="234.5" font-size="5.8" fill="#E4F3FC" text-anchor="middle" textLength="17.5" lengthAdjust="spacingAndGlyphs" transform="rotate(-90 399.25 234.5)">11,222</text>
<text x="397.5" y="191.2" font-size="5.3" fill="#222" text-anchor="middle" stroke="#222" stroke-width="0.2">0.9</text>
<text x="397.25" y="256.2" font-size="4.7" fill="#333" text-anchor="middle">2019</text>
<rect x="413" y="202.14" width="17.5" height="46.11" fill="#47A9C9" />
<text x="423.75" y="234.5" font-size="5.8" fill="#E4F3FC" text-anchor="middle" textLength="14.6" lengthAdjust="spacingAndGlyphs" transform="rotate(-90 423.75 234.5)">9,419</text>
<text x="421.75" y="199.9" font-size="5.3" fill="#222" text-anchor="middle" stroke="#222" stroke-width="0.2">0.8</text>
<text x="421.75" y="256.2" font-size="4.7" fill="#333" text-anchor="middle">2020</text>
<rect x="437.5" y="188.11" width="17.5" height="60.14" fill="#47A9C9" />
<text x="448.25" y="234.5" font-size="5.8" fill="#E4F3FC" text-anchor="middle" textLength="17.5" lengthAdjust="spacingAndGlyphs" transform="rotate(-90 448.25 234.5)">12,284</text>
<text x="446.25" y="186.9" font-size="5.3" fill="#222" text-anchor="middle" stroke="#222" stroke-width="0.2">1.1</text>
<text x="446.25" y="256.2" font-size="4.7" fill="#333" text-anchor="middle">2021</text>
<line x1="310.5" y1="189.5" x2="310.5" y2="248.25" stroke="#222" stroke-width="0.8" />
<line x1="310.1" y1="248.25" x2="458.4" y2="248.25" stroke="#222" stroke-width="0.8" />
<line x1="458" y1="189.5" x2="458" y2="248.25" stroke="#222" stroke-width="0.8" />
<line x1="308.7" y1="248.25" x2="310.5" y2="248.25" stroke="#222" stroke-width="0.6" />
<text x="307.3" y="249.95" font-size="4.8" fill="#333" text-anchor="end">0</text>
<line x1="308.7" y1="233.56" x2="310.5" y2="233.56" stroke="#222" stroke-width="0.6" />
<text x="307.3" y="235.26" font-size="4.8" fill="#333" text-anchor="end">3,000</text>
<line x1="308.7" y1="218.88" x2="310.5" y2="218.88" stroke="#222" stroke-width="0.6" />
<text x="307.3" y="220.57" font-size="4.8" fill="#333" text-anchor="end">6,000</text>
<line x1="308.7" y1="204.19" x2="310.5" y2="204.19" stroke="#222" stroke-width="0.6" />
<text x="307.3" y="205.89" font-size="4.8" fill="#333" text-anchor="end">9,000</text>
<line x1="308.7" y1="189.5" x2="310.5" y2="189.5" stroke="#222" stroke-width="0.6" />
<text x="307.3" y="191.2" font-size="4.8" fill="#333" text-anchor="end">12,000</text>
<line x1="458" y1="248.25" x2="459.8" y2="248.25" stroke="#222" stroke-width="0.6" />
<text x="462.5" y="249.85" font-size="4.4" fill="#333" textLength="6.25" lengthAdjust="spacingAndGlyphs">0.0</text>
<line x1="458" y1="238.46" x2="459.8" y2="238.46" stroke="#222" stroke-width="0.6" />
<text x="462.5" y="240.06" font-size="4.4" fill="#333" textLength="6.25" lengthAdjust="spacingAndGlyphs">0.2</text>
<line x1="458" y1="228.67" x2="459.8" y2="228.67" stroke="#222" stroke-width="0.6" />
<text x="462.5" y="230.27" font-size="4.4" fill="#333" textLength="6.25" lengthAdjust="spacingAndGlyphs">0.4</text>
<line x1="458" y1="218.88" x2="459.8" y2="218.88" stroke="#222" stroke-width="0.6" />
<text x="462.5" y="220.47" font-size="4.4" fill="#333" textLength="6.25" lengthAdjust="spacingAndGlyphs">0.6</text>
<line x1="458" y1="209.08" x2="459.8" y2="209.08" stroke="#222" stroke-width="0.6" />
<text x="462.5" y="210.68" font-size="4.4" fill="#333" textLength="6.25" lengthAdjust="spacingAndGlyphs">0.8</text>
<line x1="458" y1="199.29" x2="459.8" y2="199.29" stroke="#222" stroke-width="0.6" />
<text x="462.5" y="200.89" font-size="4.4" fill="#333" textLength="6.25" lengthAdjust="spacingAndGlyphs">1.0</text>
<line x1="458" y1="189.5" x2="459.8" y2="189.5" stroke="#222" stroke-width="0.6" />
<text x="462.5" y="191.1" font-size="4.4" fill="#333" textLength="6.25" lengthAdjust="spacingAndGlyphs">1.2</text>
<path d="M323.75,204.19 C329.88,204.19 336,204.19 348.25,204.19 C360.5,205.41 360.5,209.08 372.75,209.08 C385,209.08 385,204.19 397.25,204.19 C409.5,204.19 409.5,209.08 421.75,209.08 C434,206.64 440.12,198.07 446.25,194.4" fill="none" stroke="#2F8099" stroke-width="1.2"/><circle cx="323.75" cy="204.19" r="0.8" fill="#2F8099"/><circle cx="348.25" cy="204.19" r="0.8" fill="#2F8099"/><circle cx="372.75" cy="209.08" r="0.8" fill="#2F8099"/><circle cx="397.25" cy="204.19" r="0.8" fill="#2F8099"/><circle cx="421.75" cy="209.08" r="0.8" fill="#2F8099"/><circle cx="446.25" cy="194.4" r="0.8" fill="#2F8099"/><text x="288.8" y="238.8" font-size="4.6" fill="#222" font-weight="bold" textLength="40" lengthAdjust="spacingAndGlyphs" transform="rotate(-90 288.8 238.8)">Bilangan perceraian</text>
<text x="481.8" y="247.55" font-size="4.4" fill="#222" font-weight="bold" textLength="56.5" lengthAdjust="spacingAndGlyphs" transform="rotate(-90 481.8 247.55)">Rate (per 1,000population)</text>
<text x="457.5" y="256.15" font-size="4.6" fill="#222" font-weight="bold" textLength="8.5" lengthAdjust="spacingAndGlyphs">Year</text>
<line x1="312" y1="270" x2="329.5" y2="270" stroke="#47A9C9" stroke-width="2.2" />
<text x="332.5" y="271.61" font-size="4.5" fill="#222" font-weight="bold" textLength="38" lengthAdjust="spacingAndGlyphs">Number of divorces</text>
<line x1="382" y1="270" x2="400" y2="270" stroke="#2F8099" stroke-width="1.1" />
<circle cx="391" cy="270" r="0.8" fill="#2F8099"/><text x="402.5" y="271.61" font-size="4.5" fill="#222" font-weight="bold" textLength="51.25" lengthAdjust="spacingAndGlyphs">Crude Divorce Rate (CDR)</text>
<text x="72.5" y="296.42" font-size="11.8" fill="#4289C0" textLength="108" lengthAdjust="spacingAndGlyphs" stroke="#4289C0" stroke-width="0.3">General Marriage Rate</text>
<text x="333.8" y="296.42" font-size="11.8" fill="#52A6BA" textLength="101.2" lengthAdjust="spacingAndGlyphs" stroke="#52A6BA" stroke-width="0.3">General Divorce Rate</text>
<text x="56" y="317.37" font-size="9.4" fill="#333" textLength="31.5" lengthAdjust="spacingAndGlyphs">GROOM</text>
<text x="166" y="317.37" font-size="9.4" fill="#333" textLength="25" lengthAdjust="spacingAndGlyphs">BRIDE</text>
<text x="313.8" y="317.37" font-size="9.4" fill="#333" textLength="21.7" lengthAdjust="spacingAndGlyphs">MALE</text>
<text x="417" y="317.37" font-size="9.4" fill="#333" textLength="31.8" lengthAdjust="spacingAndGlyphs">FEMALE</text>
<text x="55" y="345.78" font-size="15.3" fill="#4289C0" textLength="33" lengthAdjust="spacingAndGlyphs" stroke="#4289C0" stroke-width="0.45">21.9</text>
<text x="162" y="345.78" font-size="15.3" fill="#4289C0" textLength="33.5" lengthAdjust="spacingAndGlyphs" stroke="#4289C0" stroke-width="0.45">23.0</text>
<text x="313" y="345.78" font-size="15.3" fill="#52A6BA" textLength="23.3" lengthAdjust="spacingAndGlyphs" stroke="#52A6BA" stroke-width="0.45">4.4</text>
<text x="420.5" y="345.78" font-size="15.3" fill="#52A6BA" textLength="23.3" lengthAdjust="spacingAndGlyphs" stroke="#52A6BA" stroke-width="0.45">4.5</text>
<g transform="translate(0,0)"><path d="M113.2,335 h8.6 l-0.6,20 h-3 l-0.6,-15 l-0.8,15 h-3z" fill="#1F2550"/><path d="M112.6,355 h4 v1.3 h-4.6z M117.6,355 h4 l0.6,1.3 h-4.6z" fill="#15151f"/><path d="M110.2,323.5 c1.5,-1.8 4,-2.4 7,-2.4 c3,0 5.8,0.6 7.3,2.4 l1.3,9.5 c0,1.5 -1.5,2 -2.3,1 l-0.9,2.5 h-10.4 l-0.9,-2.5 c-0.8,1 -2.3,0.5 -2.3,-1z" fill="#1F2550"/><path d="M116.1,321.2 l1.3,4.5 l1.3,-4.5z" fill="#fff"/><rect x="117" y="322" width="0.8" height="3.6" fill="#2a3a6a"/><ellipse cx="117.1" cy="316.6" rx="4.3" ry="4.5" fill="#F5D5B8"/><path d="M112.5,316 c-0.6,-3.6 1.8,-5.2 4.8,-5.2 c3,0 5.2,1.6 4.5,5.2 c-0.8,-1.8 -2,-2.6 -3.8,-2.6 c-2.2,0 -4.3,0.6 -5.5,2.6z" fill="#6E4526"/><path d="M128.2,326.5 c1.8,-0.8 4.6,-0.8 6.4,0 l1.4,6 c2.5,7 4,15 4.6,22.8 c-5,1.2 -13,1.2 -17.2,0 c0.5,-8 1.6,-16 3.6,-22.8z" fill="#F8F6F2" stroke="#E9E6DF" stroke-width="0.4"/><circle cx="131.3" cy="333" r="1.9" fill="#DCE6D2"/><path d="M126.3,320.5 c0,-4.2 2.4,-6.2 5.1,-6.2 c2.8,0 5.1,2 5.1,6.2 c0,2 0.3,3.8 0.2,4.9 h-10.6 c-0.1,-1.1 0.2,-2.9 0.2,-4.9z" fill="#4B2E20"/><ellipse cx="131.4" cy="320.6" rx="3.5" ry="3.9" fill="#F5D5B8"/><path d="M127.6,319.6 c0.4,-2.8 2,-4 3.8,-4 c1.8,0 3.4,1.2 3.8,4 c-1.2,-1.5 -2.4,-2 -3.8,-2 c-1.4,0 -2.6,0.5 -3.8,2z" fill="#4B2E20"/><path d="M127.5,317.2 c2,-1.4 5.8,-1.4 7.8,0" fill="none" stroke="#E8C8C8" stroke-width="0.7"/></g><g><path d="M372.8,331.3 h2.8 v11.7 h-2.8z M378,331.3 h3.6 v11.7 h-3.6z" fill="#E0703A"/><path d="M365,341.5 h10.6 v1.5 h-10.6z M378,341.5 h12 v1.5 h-12z" fill="#E8854A"/><path d="M366.5,343 v10.5 M374.8,343 v10.5 M379,343 v10.5 M389.5,343 v10.5" stroke="#E4E0DC" stroke-width="0.8"/><path d="M360.8,328 c1,-1.8 3.5,-2.4 6.5,-2.2 c3,0.2 5.4,1.2 5.9,3.2 l0.5,8.8 h-11.8z" fill="#E8C53E"/><path d="M356,340 c0,-2 1.5,-3 3.5,-3 h13.5 v4.5 h-9.8 l-1.2,12.5 h-5z" fill="#4A4038"/><path d="M355.6,353.8 h6.2 v1.5 h-7z" fill="#3a2a3a"/><ellipse cx="368.2" cy="321.8" rx="3.1" ry="3.7" fill="#F5D5B8"/><path d="M365.2,320.5 c-0.2,-2.8 1.5,-3.8 3.2,-3.8 c1.8,0 3.5,1.2 2.9,4 c-0.6,-1.6 -1.4,-2 -2.9,-2 c-1.4,0 -2.4,0.4 -3.2,1.8z" fill="#5A3A26"/><path d="M381.8,328.5 c1.2,-1.5 3.5,-2 5.5,-1.8 c2,0.2 3,1.2 3.2,2.8 l0.3,6 l1.6,5 c-3,1.5 -7,1.5 -10,0.5z" fill="#5E40AC"/><path d="M387.2,341 l4.2,-1 l1.5,12 l-1.8,0.8z" fill="#F5D5B8"/><path d="M388,352.5 l4.5,1.8 l1,1.5 l-5.5,-1.8z" fill="#3a3a4a"/><ellipse cx="385.4" cy="322.6" rx="3" ry="3.5" fill="#F5D5B8"/><path d="M382.4,322.5 c-0.8,-3 0.8,-4.6 3,-4.6 c1.5,0 2.6,0.6 3,1.6 c-1.5,-0.4 -3,0 -4,1 c-0.8,0.8 -1.4,1.4 -2,2z" fill="#8A3A22"/><circle cx="382.8" cy="318.8" r="1.5" fill="#8A3A22"/></g><text x="43.5" y="362.13" font-size="5.1" fill="#333" textLength="57.5" lengthAdjust="spacingAndGlyphs">per 1,000 population  of</text>
<text x="36.3" y="369.13" font-size="5.1" fill="#333" textLength="71.2" lengthAdjust="spacingAndGlyphs">unmarried Non-Muslim males</text>
<text x="43.8" y="376.13" font-size="5.1" fill="#333" textLength="56.2" lengthAdjust="spacingAndGlyphs">aged 18 years and over</text>
<text x="150.5" y="362.13" font-size="5.1" fill="#333" textLength="57" lengthAdjust="spacingAndGlyphs">per 1,000 population of</text>
<text x="141.8" y="369.13" font-size="5.1" fill="#333" textLength="75" lengthAdjust="spacingAndGlyphs">unmarried Non-Muslim females</text>
<text x="150.8" y="376.13" font-size="5.1" fill="#333" textLength="56.7" lengthAdjust="spacingAndGlyphs">aged 16 years and over</text>
<text x="296.3" y="362.13" font-size="5.1" fill="#333" textLength="56.7" lengthAdjust="spacingAndGlyphs">per 1,000 population of</text>
<text x="292.5" y="369.13" font-size="5.1" fill="#333" textLength="65" lengthAdjust="spacingAndGlyphs">married Non-Muslim males</text>
<text x="296.3" y="376.13" font-size="5.1" fill="#333" textLength="56.2" lengthAdjust="spacingAndGlyphs">aged 18 years and over</text>
<text x="404.3" y="362.13" font-size="5.1" fill="#333" textLength="56.2" lengthAdjust="spacingAndGlyphs">per 1,000 population of</text>
<text x="397.5" y="369.13" font-size="5.1" fill="#333" textLength="69.3" lengthAdjust="spacingAndGlyphs">married Non-Muslim females</text>
<text x="404.3" y="376.13" font-size="5.1" fill="#333" textLength="56.2" lengthAdjust="spacingAndGlyphs">aged 16 years and over</text>
<text x="69.5" y="401.02" font-size="11.8" fill="#4289C0" textLength="114.5" lengthAdjust="spacingAndGlyphs" stroke="#4289C0" stroke-width="0.3">Median age at marriage</text>
<text x="331.8" y="401.02" font-size="11.8" fill="#52A6BA" textLength="105.2" lengthAdjust="spacingAndGlyphs" stroke="#52A6BA" stroke-width="0.3">Median age at divorce</text>
<text x="56" y="423.37" font-size="9.4" fill="#333" textLength="31.5" lengthAdjust="spacingAndGlyphs">GROOM</text>
<text x="166" y="423.37" font-size="9.4" fill="#333" textLength="25" lengthAdjust="spacingAndGlyphs">BRIDE</text>
<text x="313.8" y="423.37" font-size="9.4" fill="#333" textLength="21.7" lengthAdjust="spacingAndGlyphs">MALE</text>
<text x="417" y="423.37" font-size="9.4" fill="#333" textLength="31.8" lengthAdjust="spacingAndGlyphs">FEMALE</text>
<text x="55" y="452.98" font-size="15.3" fill="#4289C0" textLength="33" lengthAdjust="spacingAndGlyphs" stroke="#4289C0" stroke-width="0.45">30.0</text>
<text x="162.5" y="452.98" font-size="15.3" fill="#4289C0" textLength="33" lengthAdjust="spacingAndGlyphs" stroke="#4289C0" stroke-width="0.45">28.0</text>
<text x="308" y="452.98" font-size="15.3" fill="#52A6BA" textLength="33.8" lengthAdjust="spacingAndGlyphs" stroke="#52A6BA" stroke-width="0.45">39.0</text>
<text x="415" y="452.98" font-size="15.3" fill="#52A6BA" textLength="33.8" lengthAdjust="spacingAndGlyphs" stroke="#52A6BA" stroke-width="0.45">36.0</text>
<text x="60" y="464.58" font-size="7.2" fill="#111" font-weight="bold" textLength="23" lengthAdjust="spacingAndGlyphs">YEARS</text>
<text x="167" y="464.58" font-size="7.2" fill="#111" font-weight="bold" textLength="23.5" lengthAdjust="spacingAndGlyphs">YEARS</text>
<text x="313" y="464.58" font-size="7.2" fill="#111" font-weight="bold" textLength="23.3" lengthAdjust="spacingAndGlyphs">YEARS</text>
<text x="420" y="464.58" font-size="7.2" fill="#111" font-weight="bold" textLength="23.8" lengthAdjust="spacingAndGlyphs">YEARS</text>
<g transform="translate(0,0)"><path d="M112.4,452 h7.4 l-0.4,18.6 h-2.6 l-0.7,-14 l-0.7,14 h-2.6z" fill="#D2C6B6"/><path d="M112,470.5 h3.4 v1.3 h-3.8z M116.7,470.5 h3.4 l0.4,1.3 h-3.8z" fill="#222"/><path d="M110.6,441.5 c1.2,-1.5 3,-2 5.5,-2 c2.5,0 4.3,0.5 5.5,2 l0.8,9 c0,1.2 -1.2,1.5 -1.8,0.8 l-0.5,2 h-8 l-0.5,-2 c-0.6,0.7 -1.8,0.4 -1.8,-0.8z" fill="#CDBDA4"/><path d="M114.8,439.8 l1.3,5 l1.3,-5z" fill="#F4EEE4"/><ellipse cx="116" cy="433.8" rx="5" ry="5.2" fill="#F5D5B8"/><path d="M110.4,433.5 c-0.8,-4.5 2,-6.7 5.6,-6.7 c3.6,0 6.4,2.2 5.6,6.7 c-0.8,-2.2 -2.5,-3.2 -5.6,-3.2 c-3.1,0 -4.8,1 -5.6,3.2z" fill="#8A4A2A"/><path d="M127,445 c1.5,-0.8 4,-0.8 5.5,0 l1.2,5.5 c3,5 7.5,13 9.8,20.5 c-6,1.2 -16,1.2 -21.8,0.2 c1,-7 2.5,-14.5 4.3,-20.5z" fill="#F5F3F0" stroke="#E4E2DE" stroke-width="0.4"/><path d="M128,452 c-1.5,6 -2.6,12 -3,18.5" fill="none" stroke="#D5D8D2" stroke-width="0.9"/><path d="M124,438.5 c0,-4.6 2.7,-6.7 5.7,-6.7 c3,0 5.7,2.1 5.7,6.7 c0,2.5 0.5,6.5 0.2,9 c-0.8,0.4 -1.6,0.2 -2,-0.4 l-0.6,-4 h-6.6 l-0.6,4 c-0.4,0.6 -1.2,0.8 -2,0.4 c-0.3,-2.5 0.2,-6.5 0.2,-9z" fill="#8B5A3C"/><ellipse cx="129.7" cy="438.8" rx="3.9" ry="4.2" fill="#F5D5B8"/><path d="M125.6,437.5 c0.3,-3 2,-4.4 4.1,-4.4 c2.1,0 3.8,1.4 4.1,4.4 c-1.3,-1.6 -2.5,-2.2 -4.1,-2.2 c-1.6,0 -2.8,0.6 -4.1,2.2z" fill="#8B5A3C"/><circle cx="129.7" cy="448.5" r="2" fill="#F6F0DC"/><ellipse cx="114.2" cy="435" rx="0.55" ry="0.9" fill="#3a2a22"/><ellipse cx="117.9" cy="435" rx="0.55" ry="0.9" fill="#3a2a22"/><ellipse cx="128.3" cy="439.6" rx="0.5" ry="0.85" fill="#3a2a22"/><ellipse cx="131.3" cy="439.6" rx="0.5" ry="0.85" fill="#3a2a22"/></g><g><rect x="373.8" y="434.9" width="6.3" height="32" fill="#C8683A" />
<path d="M373.8,437 h6.3 M373.8,439.1 h6.3 M373.8,441.2 h6.3 M373.8,443.3 h6.3 M373.8,445.4 h6.3 M373.8,447.5 h6.3 M373.8,449.6 h6.3 M373.8,451.7 h6.3 M373.8,453.8 h6.3 M373.8,455.9 h6.3 M373.8,458 h6.3 M373.8,460.1 h6.3 M373.8,462.2 h6.3 M373.8,464.3 h6.3 " stroke="#E0956A" stroke-width="0.35" fill="none"/><path d="M359.36,436.33 c2.36,3.54 1.92,3.38 -2.83,-0.21 M367.73,437.89 c3.21,-3.09 -0.25,-2.03 0.26,0.44 M365.67,439.36 c-1.76,3.33 2.13,-2.72 1.78,-2.17 M361.72,438.17 c-3.99,2.97 -2.32,-2.28 2.89,2.23 M361.6,444.09 c0.31,1.42 -2.36,3.53 1.14,2.8 M365.5,437.8 c-1.11,-2.67 -2.83,-3.48 -1.19,0.62 M368.2,439.28 c-1.3,-1.52 2.55,-0.15 -1.11,-0.11 M362.74,438.01 c3.8,-3.82 2,2.76 -2.89,1.73 M360.23,441.76 c-3.93,-3.63 -2.55,3.64 -1.82,1.53 M369.02,437.07 c-1.24,-1.16 0.2,2.2 -2.35,1.49 M364.94,434.79 c-3.71,3.57 -3.27,-1.27 0.66,2.51 M359.81,443.33 c0.36,-1.5 -1.47,-2.58 -2.53,-2.11 M360.67,434.39 c-2.71,-3.61 3.89,0.27 -0.56,-1.58 M358.37,436.72 c-0.35,-0.63 -3.55,3.33 -2.8,-0.04 M364.26,437.88 c1.85,3.6 1.04,2.3 -2.36,-0.39 M366.7,442.87 c-1.64,-0.37 3.99,2.82 2.86,-0.28 " fill="none" stroke="#7A7A7A" stroke-width="0.55" opacity="0.85"/><path d="M385.43,439.51 c-0.17,-1.67 -0.77,-2.83 -0.74,2.93 M395.27,438.28 c-0.01,-1.29 -3.29,-1.82 1.69,2.2 M387.1,442.49 c2.2,1.56 1.31,2.08 -0.82,1.23 M389.94,442.18 c2.16,1.53 -1.65,3.56 0.9,0.48 M394.98,439.44 c-1.99,1.37 -0.3,2.53 0.88,1.79 M387.93,442.23 c1.9,2.63 -1.2,2.74 2.22,1.13 M397.15,438.43 c0.15,0.23 -2.67,2.69 2.62,-0.14 M388.81,435.45 c1.84,-2.63 2.24,0.65 0.99,-0.48 M386.75,436.22 c1.09,1.76 -3.78,-2.72 -0.35,0.9 M391.68,443.01 c1.05,-3.67 -0.23,-2.19 -2.68,-2.2 M389.76,440.81 c-2.45,-3.71 -0.28,-0.96 0.67,0.54 M391.18,443.98 c-3.99,-0.76 -1.77,-0.72 -2.31,1.99 M389.65,440.02 c0.91,-3.24 0.36,-1.29 0.49,2.75 M392.19,436.69 c2.5,1.14 -1.04,-2.86 0.58,0.38 M397.04,437.84 c0.87,-1.19 3.15,-3.99 -2.35,0.39 M389.15,438.15 c1.04,3.13 -0.99,-0.55 -1.64,-1.25 " fill="none" stroke="#7A7A7A" stroke-width="0.55" opacity="0.85"/><path d="M365.5,450.5 c3,-0.5 5.8,1.5 7,4.5 l0.8,11 h-9 c-0.5,-2 -0.5,-5 1,-7z" fill="#3B2B5A"/><path d="M366,459 l-6.5,-3 l-7.5,6.5 l1.5,2.5 l6.5,-4 l4,5 h5z" fill="#3B2B5A"/><path d="M351,460.5 l2.8,1.2 l-0.8,4.3 l-2.4,-1.2z" fill="#2a2030"/><ellipse cx="363.8" cy="448.3" rx="2.3" ry="2.4" fill="#F5D5B8"/><path d="M361.4,447.5 c0.2,-1.8 1.5,-2.3 2.8,-2.1 c1.3,0.2 2.2,1.2 1.9,2.6 c-1.2,-1.2 -3,-1.5 -4.7,-0.5z" fill="#2a2228"/><path d="M389,451.5 c-3,-0.5 -5.8,1.5 -7,5 l-0.6,5 h9.5 c0.6,-3 0.2,-7 -1.9,-10z" fill="#E04A4A"/><path d="M381.3,460.5 c2,-1.5 8,-1.5 10.5,0.5 c1,2 0.8,4 0,5.5 h-9.5 c-1,-1.8 -1.3,-4 -1,-6z" fill="#4A2A48"/><path d="M391,460.5 l4.5,-1.2 l5.5,5 l-1,1.5 l-5,-2.8 l-3,2z" fill="#F5D5B8"/><path d="M397.5,464.5 l3.5,-0.8 l0.4,1.4 l-3.5,1z" fill="#3a3040"/><ellipse cx="389.8" cy="448.8" rx="2.3" ry="2.4" fill="#F5D5B8"/><path d="M387.4,448.5 c-0.4,-2 0.8,-3 2.3,-3 c1.5,0 2.7,0.8 2.5,2.2 c-1.6,-0.6 -3.4,-0.4 -4.8,0.8z" fill="#3a2228"/></g><text x="17" y="494.08" font-size="11.4" fill="#4289C0" textLength="220.7" lengthAdjust="spacingAndGlyphs" stroke="#4289C0" stroke-width="0.3">The highest number of marriages at age group</text>
<text x="283.4" y="494.08" font-size="11.4" fill="#52A6BA" textLength="212.4" lengthAdjust="spacingAndGlyphs" stroke="#52A6BA" stroke-width="0.3">The highest number of divorces at age group</text>
<text x="99.4" y="522.54" font-size="15.2" fill="#4289C0" textLength="51.9" lengthAdjust="spacingAndGlyphs" stroke="#4289C0" stroke-width="0.45">25 - 29</text>
<text x="112.7" y="533.58" font-size="7.2" fill="#111" font-weight="bold" textLength="24.7" lengthAdjust="spacingAndGlyphs">YEARS</text>
<text x="105.6" y="542.56" font-size="5.2" fill="#333" textLength="38.9" lengthAdjust="spacingAndGlyphs">for both sexes</text>
<text x="313.7" y="510.37" font-size="9.4" fill="#333" textLength="22.2" lengthAdjust="spacingAndGlyphs">MALE</text>
<text x="417" y="510.37" font-size="9.4" fill="#333" textLength="31.9" lengthAdjust="spacingAndGlyphs">FEMALE</text>
<text x="299" y="535.24" font-size="15.2" fill="#52A6BA" textLength="51" lengthAdjust="spacingAndGlyphs" stroke="#52A6BA" stroke-width="0.45">35 - 39</text>
<text x="406.3" y="535.24" font-size="15.2" fill="#52A6BA" textLength="50.9" lengthAdjust="spacingAndGlyphs" stroke="#52A6BA" stroke-width="0.45">30 - 34</text>
<text x="375.4" y="535.24" font-size="15.2" fill="#222" textLength="9.9" lengthAdjust="spacingAndGlyphs">&amp;</text>
<text x="313" y="547.28" font-size="7.2" fill="#111" font-weight="bold" textLength="23.8" lengthAdjust="spacingAndGlyphs">YEARS</text>
<text x="419.6" y="547.28" font-size="7.2" fill="#111" font-weight="bold" textLength="23.7" lengthAdjust="spacingAndGlyphs">YEARS</text>
<text x="54.6" y="566.68" font-size="11.4" fill="#4289C0" textLength="143.9" lengthAdjust="spacingAndGlyphs" stroke="#4289C0" stroke-width="0.3">Oldest age of groom and bride</text>
<text x="56.2" y="592.27" font-size="9.4" fill="#333" textLength="31.2" lengthAdjust="spacingAndGlyphs">GROOM</text>
<text x="166.7" y="592.27" font-size="9.4" fill="#333" textLength="24.1" lengthAdjust="spacingAndGlyphs">BRIDE</text>
<text x="61.7" y="621.68" font-size="15.3" fill="#4289C0" textLength="19.5" lengthAdjust="spacingAndGlyphs" stroke="#4289C0" stroke-width="0.45">92</text>
<text x="169.2" y="621.68" font-size="15.3" fill="#4289C0" textLength="18.2" lengthAdjust="spacingAndGlyphs" stroke="#4289C0" stroke-width="0.45">77</text>
<text x="59.6" y="634.08" font-size="7.2" fill="#111" font-weight="bold" textLength="23.8" lengthAdjust="spacingAndGlyphs">YEARS</text>
<text x="166.7" y="634.08" font-size="7.2" fill="#111" font-weight="bold" textLength="23.8" lengthAdjust="spacingAndGlyphs">YEARS</text>
<g><path d="M104.1,622 h9.3 l-0.5,16 h-3 l-1.1,-12 l-1.1,12 h-3z" fill="#B27C5C"/><path d="M104.2,638 h3.6 v1.9 h-4z M109.8,638 h3.6 l0.4,1.9 h-4z" fill="#555"/><path d="M103,610.5 c1.5,-1.4 3.5,-1.9 5.7,-1.9 c2.2,0 4.2,0.5 5.7,1.9 l1.4,5 l-1.8,1 l-0.6,5.8 h-9.4 l-0.6,-5.8 l-1.8,-1z" fill="#5B88B6"/><path d="M101.8,616.5 l1.5,0.6 l-0.4,6 l-1.4,-0.2z M115.7,616.5 l-1.5,0.6 l0.4,6 l1.4,-0.2z" fill="#F5D5B8"/><ellipse cx="108.9" cy="600.8" rx="6.6" ry="6.4" fill="#FAE4D6"/><path d="M101.2,601.5 c-1.2,-7 2.8,-10.8 7.7,-10.8 c4.9,0 8.9,3.8 7.7,10.8 c-0.9,-3.5 -2.6,-5.5 -7.7,-5.5 c-5.1,0 -6.8,2 -7.7,5.5z" fill="#A9A9A9"/><circle cx="106.3" cy="602" r="0.8" fill="#5a3a3a"/><circle cx="111.5" cy="602" r="0.8" fill="#5a3a3a"/><path d="M131.5,632 h2.3 v6 h-2.3z M135.4,632 h2.3 v6 h-2.3z" fill="#F4EEDC"/><path d="M130.8,638 h3.3 v1.6 h-3.6z M135.2,638 h3.3 l0.3,1.6 h-3.6z" fill="#666"/><path d="M130.5,619.5 h8.2 l1.5,13.2 h-11.2z" fill="#B3735A"/><path d="M129.3,611.5 c1.5,-1.4 3.3,-1.9 5.3,-1.9 c2,0 3.8,0.5 5.3,1.9 l1.6,9 l-1.6,0.4 l-1.2,-4.5 l-0.2,4.2 h-7.8 l-0.2,-4.2 l-1.2,4.5 l-1.6,-0.4z" fill="#C88AC2"/><path d="M133.2,610 h2.8 l0.4,10 h-3.6z" fill="#C9CDD6"/><ellipse cx="134.2" cy="601.2" rx="6.4" ry="6.2" fill="#FAE4D6"/><path d="M125.8,603 c-1.8,-8 2.8,-12.3 8.4,-12.3 c5.6,0 10.2,4.3 8.4,12.3 c-1,1 -1.8,1 -2.4,0.2 c0.4,-4.5 -1.6,-7 -6,-7 c-4.4,0 -6.4,2.5 -6,7 c-0.6,0.8 -1.4,0.8 -2.4,-0.2z" fill="#A6A6A6"/><circle cx="131.6" cy="602.5" r="0.8" fill="#5a3a3a"/><circle cx="136.8" cy="602.5" r="0.8" fill="#5a3a3a"/></g><line x1="275.4" y1="559.5" x2="275.4" y2="580.5" stroke="#45A0B6" stroke-width="1.5" />
<line x1="270.4" y1="564" x2="292" y2="564" stroke="#45A0B6" stroke-width="1.5" />
<line x1="486.5" y1="603.4" x2="486.5" y2="623.7" stroke="#45A0B6" stroke-width="1.5" />
<line x1="469.6" y1="619" x2="491" y2="619" stroke="#45A0B6" stroke-width="1.5" />
<text x="292.7" y="581.38" font-size="8.6" fill="#5CAEC0" textLength="175.3" lengthAdjust="spacingAndGlyphs">The divorce statistics cannot be compared</text>
<text x="296" y="592.28" font-size="8.6" fill="#5CAEC0" textLength="172" lengthAdjust="spacingAndGlyphs">with the current year marriage statistics.</text>
<text x="296" y="603.28" font-size="8.6" fill="#5CAEC0" textLength="169.9" lengthAdjust="spacingAndGlyphs">The divorce statistics refer to the date of</text>
<text x="324.5" y="614.48" font-size="8.6" fill="#5CAEC0" textLength="111.1" lengthAdjust="spacingAndGlyphs">order issued by Civil Court.</text>
<text x="265.2" y="629.79" font-size="5" fill="#111" font-weight="bold" textLength="13.8" lengthAdjust="spacingAndGlyphs">Note:</text>
<text x="265.2" y="636.88" font-size="4.7" fill="#222" textLength="233.8" lengthAdjust="spacingAndGlyphs">Marriage and divorce data for 2016-2020 have been updated taken into account late registration in</text>
<text x="265.2" y="643.08" font-size="4.7" fill="#222" textLength="187.4" lengthAdjust="spacingAndGlyphs">National Registration Department (NRD) and Native Customs &amp; Traditions (MAIS)</text>
<g transform="rotate(-9 245.2 291.8)"><path d="M245.2,289 C245.2,285.16 237.7,284.52 237.7,289.64 C237.7,293.48 242.95,296.04 245.2,298.6 C247.45,296.04 252.7,293.48 252.7,289.64 C252.7,284.52 245.2,285.16 245.2,289z" fill="#EE1414" stroke="#F9A0A0" stroke-width="0.6"/><path d="M241.6,289.2 c1.2,-1.6 3.2,-1.4 3.6,0" fill="none" stroke="#FF6A6A" stroke-width="0.9" opacity="0.8"/></g><path d="M244.39999999999998,298 c-1.5,4 5,5.5 7.2,9.5 c0.8,1.5 0.6,2.8 0.4,3.6" fill="none" stroke="#CFA890" stroke-width="0.7"/><g transform="rotate(-9 245.2 394.8)"><path d="M245.2,392 C245.2,388.16 237.7,387.52 237.7,392.64 C237.7,396.48 242.95,399.04 245.2,401.6 C247.45,399.04 252.7,396.48 252.7,392.64 C252.7,387.52 245.2,388.16 245.2,392z" fill="#EE1414" stroke="#F9A0A0" stroke-width="0.6"/><path d="M241.6,392.2 c1.2,-1.6 3.2,-1.4 3.6,0" fill="none" stroke="#FF6A6A" stroke-width="0.9" opacity="0.8"/></g><path d="M244.39999999999998,401 c-1.5,4 5,5.5 7.2,9.5 c0.8,1.5 0.6,2.8 0.4,3.6" fill="none" stroke="#CFA890" stroke-width="0.7"/><g transform="rotate(-9 245.2 482)"><path d="M245.2,479.2 C245.2,475.36 237.7,474.72 237.7,479.84 C237.7,483.68 242.95,486.24 245.2,488.8 C247.45,486.24 252.7,483.68 252.7,479.84 C252.7,474.72 245.2,475.36 245.2,479.2z" fill="#EE1414" stroke="#F9A0A0" stroke-width="0.6"/><path d="M241.6,479.4 c1.2,-1.6 3.2,-1.4 3.6,0" fill="none" stroke="#FF6A6A" stroke-width="0.9" opacity="0.8"/></g><path d="M244.39999999999998,488.2 c-1.5,4 5,5.5 7.2,9.5 c0.8,1.5 0.6,2.8 0.4,3.6" fill="none" stroke="#CFA890" stroke-width="0.7"/><g transform="rotate(-9 245.2 560.6)"><path d="M245.2,557.8 C245.2,553.96 237.7,553.32 237.7,558.44 C237.7,562.28 242.95,564.84 245.2,567.4 C247.45,564.84 252.7,562.28 252.7,558.44 C252.7,553.32 245.2,553.96 245.2,557.8z" fill="#EE1414" stroke="#F9A0A0" stroke-width="0.6"/><path d="M241.6,558 c1.2,-1.6 3.2,-1.4 3.6,0" fill="none" stroke="#FF6A6A" stroke-width="0.9" opacity="0.8"/></g><path d="M244.39999999999998,566.8000000000001 c-1.5,4 5,5.5 7.2,9.5 c0.8,1.5 0.6,2.8 0.4,3.6" fill="none" stroke="#CFA890" stroke-width="0.7"/><g transform="rotate(22 264.2 293.6)"><path d="M264.2,290.45 C264.2,287.03 257.4,286.46 257.4,291.02 C257.4,294.44 262.16,296.72 264.2,299 C266.24,296.72 271,294.44 271,291.02 C271,286.46 264.2,287.03 264.2,290.45z" fill="#EE1C1C" stroke="#F9A0A0" stroke-width="0.6"/><path d="M264.4,290 l-1.7,3.4 l2.4,1.2 l-1.9,4.2" fill="none" stroke="#fff" stroke-width="1"/></g><g transform="rotate(22 264.2 396.2)"><path d="M264.2,393.05 C264.2,389.63 257.4,389.06 257.4,393.62 C257.4,397.04 262.16,399.32 264.2,401.6 C266.24,399.32 271,397.04 271,393.62 C271,389.06 264.2,389.63 264.2,393.05z" fill="#EE1C1C" stroke="#F9A0A0" stroke-width="0.6"/><path d="M264.4,392.59999999999997 l-1.7,3.4 l2.4,1.2 l-1.9,4.2" fill="none" stroke="#fff" stroke-width="1"/></g><g transform="rotate(22 264.2 483.2)"><path d="M264.2,480.05 C264.2,476.63 257.4,476.06 257.4,480.62 C257.4,484.04 262.16,486.32 264.2,488.6 C266.24,486.32 271,484.04 271,480.62 C271,476.06 264.2,476.63 264.2,480.05z" fill="#EE1C1C" stroke="#F9A0A0" stroke-width="0.6"/><path d="M264.4,479.59999999999997 l-1.7,3.4 l2.4,1.2 l-1.9,4.2" fill="none" stroke="#fff" stroke-width="1"/></g><text x="685" y="98.89" font-size="9.2" fill="#111" font-weight="bold" textLength="159.4" lengthAdjust="spacingAndGlyphs" stroke="#111" stroke-width="0.3">General Marriage Rate (GMR), Malaysia</text>
<rect x="581.5" y="193.64" width="10.1" height="46.56" fill="#2C84C8" />
<text x="589.82" y="198.54" font-size="8.8" fill="#17406E" text-anchor="end" textLength="16.4" lengthAdjust="spacingAndGlyphs" transform="rotate(-90 589.82 198.54)">36.4</text>
<rect x="591.85" y="181.24" width="10.1" height="58.96" fill="#B3D4EE" />
<text x="600.17" y="186.14" font-size="8.8" fill="#1F3B57" text-anchor="end" textLength="16.4" lengthAdjust="spacingAndGlyphs" transform="rotate(-90 600.17 186.14)">46.1</text>
<text x="591.85" y="246.8" font-size="4.1" fill="#6a6a6a" text-anchor="middle">Johor</text>
<rect x="606.12" y="170.49" width="10.1" height="69.71" fill="#2C84C8" />
<text x="614.45" y="175.39" font-size="8.8" fill="#17406E" text-anchor="end" textLength="16.4" lengthAdjust="spacingAndGlyphs" transform="rotate(-90 614.45 175.39)">54.5</text>
<rect x="616.48" y="162.44" width="10.1" height="77.76" fill="#B3D4EE" />
<text x="624.8" y="167.34" font-size="8.8" fill="#1F3B57" text-anchor="end" textLength="16.4" lengthAdjust="spacingAndGlyphs" transform="rotate(-90 624.8 167.34)">60.8</text>
<text x="616.48" y="246.8" font-size="4.1" fill="#6a6a6a" text-anchor="middle">Kedah</text>
<rect x="630.75" y="122.02" width="10.1" height="118.18" fill="#2C84C8" />
<text x="639.07" y="126.92" font-size="8.8" fill="#17406E" text-anchor="end" textLength="16.4" lengthAdjust="spacingAndGlyphs" transform="rotate(-90 639.07 126.92)">92.4</text>
<rect x="641.1" y="151.31" width="10.1" height="88.89" fill="#B3D4EE" />
<text x="649.42" y="156.21" font-size="8.8" fill="#1F3B57" text-anchor="end" textLength="16.4" lengthAdjust="spacingAndGlyphs" transform="rotate(-90 649.42 156.21)">69.5</text>
<text x="641.1" y="246.8" font-size="4.1" fill="#6a6a6a" text-anchor="middle">Kelantan</text>
<rect x="655.38" y="174.2" width="10.1" height="66" fill="#2C84C8" />
<text x="663.7" y="179.1" font-size="8.8" fill="#17406E" text-anchor="end" textLength="16.4" lengthAdjust="spacingAndGlyphs" transform="rotate(-90 663.7 179.1)">51.6</text>
<rect x="665.73" y="175.87" width="10.1" height="64.33" fill="#B3D4EE" />
<text x="674.05" y="180.77" font-size="8.8" fill="#1F3B57" text-anchor="end" textLength="16.4" lengthAdjust="spacingAndGlyphs" transform="rotate(-90 674.05 180.77)">50.3</text>
<text x="665.73" y="246.8" font-size="4.1" fill="#6a6a6a" text-anchor="middle">Melaka</text>
<rect x="680" y="168.7" width="10.1" height="71.5" fill="#2C84C8" />
<text x="688.32" y="173.6" font-size="8.8" fill="#17406E" text-anchor="end" textLength="16.4" lengthAdjust="spacingAndGlyphs" transform="rotate(-90 688.32 173.6)">55.9</text>
<rect x="690.35" y="168.32" width="10.1" height="71.88" fill="#B3D4EE" />
<text x="698.67" y="173.22" font-size="8.8" fill="#1F3B57" text-anchor="end" textLength="16.4" lengthAdjust="spacingAndGlyphs" transform="rotate(-90 698.67 173.22)">56.2</text>
<text x="690.35" y="246.8" font-size="4.1" fill="#6a6a6a" text-anchor="middle">Negeri</text>
<text x="690.35" y="251.2" font-size="4.1" fill="#6a6a6a" text-anchor="middle">Sembilan</text>
<rect x="704.62" y="177.91" width="10.1" height="62.29" fill="#2C84C8" />
<text x="712.95" y="182.81" font-size="8.8" fill="#17406E" text-anchor="end" textLength="16.4" lengthAdjust="spacingAndGlyphs" transform="rotate(-90 712.95 182.81)">48.7</text>
<rect x="714.98" y="171.77" width="10.1" height="68.43" fill="#B3D4EE" />
<text x="723.3" y="176.67" font-size="8.8" fill="#1F3B57" text-anchor="end" textLength="16.4" lengthAdjust="spacingAndGlyphs" transform="rotate(-90 723.3 176.67)">53.5</text>
<text x="714.98" y="246.8" font-size="4.1" fill="#6a6a6a" text-anchor="middle">Pahang</text>
<rect x="729.25" y="176.89" width="10.1" height="63.31" fill="#2C84C8" />
<text x="737.57" y="181.79" font-size="8.8" fill="#17406E" text-anchor="end" textLength="16.4" lengthAdjust="spacingAndGlyphs" transform="rotate(-90 737.57 181.79)">49.5</text>
<rect x="739.6" y="177.53" width="10.1" height="62.67" fill="#B3D4EE" />
<text x="747.92" y="182.43" font-size="8.8" fill="#1F3B57" text-anchor="end" textLength="16.4" lengthAdjust="spacingAndGlyphs" transform="rotate(-90 747.92 182.43)">49.0</text>
<text x="739.6" y="246.8" font-size="4.1" fill="#6a6a6a" text-anchor="middle">Perak</text>
<rect x="753.88" y="174.33" width="10.1" height="65.87" fill="#2C84C8" />
<text x="762.2" y="179.23" font-size="8.8" fill="#17406E" text-anchor="end" textLength="16.4" lengthAdjust="spacingAndGlyphs" transform="rotate(-90 762.2 179.23)">51.5</text>
<rect x="764.23" y="178.55" width="10.1" height="61.65" fill="#B3D4EE" />
<text x="772.55" y="183.45" font-size="8.8" fill="#1F3B57" text-anchor="end" textLength="16.4" lengthAdjust="spacingAndGlyphs" transform="rotate(-90 772.55 183.45)">48.2</text>
<text x="764.23" y="246.8" font-size="4.1" fill="#6a6a6a" text-anchor="middle">Perlis</text>
<rect x="778.5" y="193" width="10.1" height="47.2" fill="#2C84C8" />
<text x="786.82" y="197.9" font-size="8.8" fill="#17406E" text-anchor="end" textLength="16.4" lengthAdjust="spacingAndGlyphs" transform="rotate(-90 786.82 197.9)">36.9</text>
<rect x="788.85" y="195.44" width="10.1" height="44.76" fill="#B3D4EE" />
<text x="797.17" y="200.34" font-size="8.8" fill="#1F3B57" text-anchor="end" textLength="16.4" lengthAdjust="spacingAndGlyphs" transform="rotate(-90 797.17 200.34)">35.0</text>
<text x="788.85" y="246.8" font-size="4.1" fill="#6a6a6a" text-anchor="middle">Pulau Pinang</text>
<rect x="803.12" y="200.55" width="10.1" height="39.65" fill="#2C84C8" />
<text x="811.45" y="205.45" font-size="8.8" fill="#17406E" text-anchor="end" textLength="16.4" lengthAdjust="spacingAndGlyphs" transform="rotate(-90 811.45 205.45)">31.0</text>
<rect x="813.48" y="194.8" width="10.1" height="45.4" fill="#B3D4EE" />
<text x="821.8" y="199.7" font-size="8.8" fill="#1F3B57" text-anchor="end" textLength="16.4" lengthAdjust="spacingAndGlyphs" transform="rotate(-90 821.8 199.7)">35.5</text>
<text x="813.48" y="246.8" font-size="4.1" fill="#6a6a6a" text-anchor="middle">Sabah</text>
<rect x="827.75" y="190.83" width="10.1" height="49.37" fill="#2C84C8" />
<text x="836.07" y="195.73" font-size="8.8" fill="#17406E" text-anchor="end" textLength="16.4" lengthAdjust="spacingAndGlyphs" transform="rotate(-90 836.07 195.73)">38.6</text>
<rect x="838.1" y="191.73" width="10.1" height="48.47" fill="#B3D4EE" />
<text x="846.42" y="196.63" font-size="8.8" fill="#1F3B57" text-anchor="end" textLength="16.4" lengthAdjust="spacingAndGlyphs" transform="rotate(-90 846.42 196.63)">37.9</text>
<text x="838.1" y="246.8" font-size="4.1" fill="#6a6a6a" text-anchor="middle">Sarawak</text>
<rect x="852.38" y="187.25" width="10.1" height="52.95" fill="#2C84C8" />
<text x="860.7" y="192.15" font-size="8.8" fill="#17406E" text-anchor="end" textLength="16.4" lengthAdjust="spacingAndGlyphs" transform="rotate(-90 860.7 192.15)">41.4</text>
<rect x="862.73" y="183.8" width="10.1" height="56.4" fill="#B3D4EE" />
<text x="871.05" y="188.7" font-size="8.8" fill="#1F3B57" text-anchor="end" textLength="16.4" lengthAdjust="spacingAndGlyphs" transform="rotate(-90 871.05 188.7)">44.1</text>
<text x="862.73" y="246.8" font-size="4.1" fill="#6a6a6a" text-anchor="middle">Selangor</text>
<rect x="877" y="154" width="10.1" height="86.2" fill="#2C84C8" />
<text x="885.32" y="158.9" font-size="8.8" fill="#17406E" text-anchor="end" textLength="16.4" lengthAdjust="spacingAndGlyphs" transform="rotate(-90 885.32 158.9)">67.4</text>
<rect x="887.35" y="144.91" width="10.1" height="95.29" fill="#B3D4EE" />
<text x="895.67" y="149.81" font-size="8.8" fill="#1F3B57" text-anchor="end" textLength="16.4" lengthAdjust="spacingAndGlyphs" transform="rotate(-90 895.67 149.81)">74.5</text>
<text x="887.35" y="246.8" font-size="4.1" fill="#6a6a6a" text-anchor="middle">Terengganu</text>
<rect x="901.62" y="178.17" width="10.1" height="62.03" fill="#2C84C8" />
<text x="909.95" y="183.07" font-size="8.8" fill="#17406E" text-anchor="end" textLength="16.4" lengthAdjust="spacingAndGlyphs" transform="rotate(-90 909.95 183.07)">48.5</text>
<rect x="911.98" y="193" width="10.1" height="47.2" fill="#B3D4EE" />
<text x="920.3" y="197.9" font-size="8.8" fill="#1F3B57" text-anchor="end" textLength="16.4" lengthAdjust="spacingAndGlyphs" transform="rotate(-90 920.3 197.9)">36.9</text>
<text x="911.98" y="246.8" font-size="4.1" fill="#6a6a6a" text-anchor="middle">W.P. Kuala</text>
<text x="911.98" y="251.2" font-size="4.1" fill="#6a6a6a" text-anchor="middle">Lumpur</text>
<rect x="926.25" y="161.16" width="10.1" height="79.04" fill="#2C84C8" />
<text x="934.57" y="166.06" font-size="8.8" fill="#17406E" text-anchor="end" textLength="16.4" lengthAdjust="spacingAndGlyphs" transform="rotate(-90 934.57 166.06)">61.8</text>
<rect x="936.6" y="181.37" width="10.1" height="58.83" fill="#B3D4EE" />
<text x="944.92" y="186.27" font-size="8.8" fill="#1F3B57" text-anchor="end" textLength="16.4" lengthAdjust="spacingAndGlyphs" transform="rotate(-90 944.92 186.27)">46.0</text>
<text x="936.6" y="246.8" font-size="4.1" fill="#6a6a6a" text-anchor="middle">W.P. Labuan</text>
<rect x="950.88" y="126.5" width="10.1" height="113.7" fill="#2C84C8" />
<text x="959.2" y="131.4" font-size="8.8" fill="#17406E" text-anchor="end" textLength="16.4" lengthAdjust="spacingAndGlyphs" transform="rotate(-90 959.2 131.4)">88.9</text>
<rect x="961.23" y="173.95" width="10.1" height="66.25" fill="#B3D4EE" />
<text x="969.55" y="178.85" font-size="8.8" fill="#1F3B57" text-anchor="end" textLength="16.4" lengthAdjust="spacingAndGlyphs" transform="rotate(-90 969.55 178.85)">51.8</text>
<text x="961.23" y="246.8" font-size="4.1" fill="#6a6a6a" text-anchor="middle">W.P.</text>
<text x="961.23" y="251.2" font-size="4.1" fill="#6a6a6a" text-anchor="middle">Putrajaya</text>
<rect x="975.5" y="181.62" width="10.1" height="58.58" fill="#2C84C8" />
<text x="983.82" y="186.52" font-size="8.8" fill="#0c1a2e" font-weight="bold" text-anchor="end" textLength="16.4" lengthAdjust="spacingAndGlyphs" transform="rotate(-90 983.82 186.52)">45.8</text>
<rect x="985.85" y="179.58" width="10.1" height="60.62" fill="#B3D4EE" />
<text x="994.17" y="184.48" font-size="8.8" fill="#0c1a2e" font-weight="bold" text-anchor="end" textLength="16.4" lengthAdjust="spacingAndGlyphs" transform="rotate(-90 994.17 184.48)">47.4</text>
<text x="977.4" y="250.35" font-size="4.6" fill="#111" font-weight="bold" textLength="20.6" lengthAdjust="spacingAndGlyphs">Malaysia</text>
<line x1="579.4" y1="111.3" x2="579.4" y2="240.2" stroke="#555" stroke-width="0.6" />
<line x1="579.4" y1="240.2" x2="998.5" y2="240.2" stroke="#555" stroke-width="0.7" />
<line x1="577.8" y1="240.2" x2="579.4" y2="240.2" stroke="#555" stroke-width="0.5" />
<text x="573.5" y="242.5" font-size="6.5" fill="#444" text-anchor="end">0.0</text>
<line x1="577.8" y1="214.62" x2="579.4" y2="214.62" stroke="#555" stroke-width="0.5" />
<text x="573.5" y="216.92" font-size="6.5" fill="#444" text-anchor="end">20.0</text>
<line x1="577.8" y1="189.04" x2="579.4" y2="189.04" stroke="#555" stroke-width="0.5" />
<text x="573.5" y="191.34" font-size="6.5" fill="#444" text-anchor="end">40.0</text>
<line x1="577.8" y1="163.46" x2="579.4" y2="163.46" stroke="#555" stroke-width="0.5" />
<text x="573.5" y="165.76" font-size="6.5" fill="#444" text-anchor="end">60.0</text>
<line x1="577.8" y1="137.88" x2="579.4" y2="137.88" stroke="#555" stroke-width="0.5" />
<text x="573.5" y="140.18" font-size="6.5" fill="#444" text-anchor="end">80.0</text>
<line x1="577.8" y1="112.3" x2="579.4" y2="112.3" stroke="#555" stroke-width="0.5" />
<text x="573.5" y="114.6" font-size="6.5" fill="#444" text-anchor="end">100.0</text>
<text x="536.1" y="245.5" font-size="4.9" fill="#222" font-weight="bold" textLength="127" lengthAdjust="spacingAndGlyphs" transform="rotate(-90 536.1 245.5)">Rate (per 1,000 population of unmarried males</text>
<text x="544" y="228" font-size="4.9" fill="#222" font-weight="bold" textLength="92" lengthAdjust="spacingAndGlyphs" transform="rotate(-90 544 228)">aged 18 years and over or females</text>
<text x="551.4" y="214" font-size="4.9" fill="#222" font-weight="bold" textLength="64" lengthAdjust="spacingAndGlyphs" transform="rotate(-90 551.4 214)">aged 16 years and over)</text>
<text x="782.2" y="259.72" font-size="4.8" fill="#111" font-weight="bold" textLength="13.3" lengthAdjust="spacingAndGlyphs">State</text>
<rect x="948.5" y="100.5" width="3" height="3" fill="#2C84C8" />
<text x="952.5" y="103.85" font-size="4.9" fill="#111" font-weight="bold" textLength="13.8" lengthAdjust="spacingAndGlyphs">Male</text>
<rect x="976.9" y="100.5" width="3" height="3" fill="#B3D4EE" />
<text x="980.8" y="103.85" font-size="4.9" fill="#111" font-weight="bold" textLength="19.9" lengthAdjust="spacingAndGlyphs">Female</text>
<text x="689.7" y="281.09" font-size="9.2" fill="#111" font-weight="bold" textLength="150.9" lengthAdjust="spacingAndGlyphs" stroke="#111" stroke-width="0.3">Muslim General Marriage Rate (GMR)</text>
<rect x="581.6" y="368.36" width="10.05" height="53.64" fill="#2C84C8" />
<text x="589.9" y="373.26" font-size="8.8" fill="#17406E" text-anchor="end" textLength="16.4" lengthAdjust="spacingAndGlyphs" transform="rotate(-90 589.9 373.26)">50.6</text>
<rect x="591.9" y="356.39" width="10.05" height="65.61" fill="#B3D4EE" />
<text x="600.2" y="361.29" font-size="8.8" fill="#1F3B57" text-anchor="end" textLength="16.4" lengthAdjust="spacingAndGlyphs" transform="rotate(-90 600.2 361.29)">61.9</text>
<text x="591.9" y="428.8" font-size="4.1" fill="#6a6a6a" text-anchor="middle">Johor</text>
<rect x="606.23" y="356.81" width="10.05" height="65.19" fill="#2C84C8" />
<text x="614.52" y="361.71" font-size="8.8" fill="#17406E" text-anchor="end" textLength="16.4" lengthAdjust="spacingAndGlyphs" transform="rotate(-90 614.52 361.71)">61.5</text>
<rect x="616.52" y="348.44" width="10.05" height="73.56" fill="#B3D4EE" />
<text x="624.82" y="353.34" font-size="8.8" fill="#1F3B57" text-anchor="end" textLength="16.4" lengthAdjust="spacingAndGlyphs" transform="rotate(-90 624.82 353.34)">69.4</text>
<text x="616.52" y="428.8" font-size="4.1" fill="#6a6a6a" text-anchor="middle">Kedah</text>
<rect x="630.85" y="320.03" width="10.05" height="101.97" fill="#2C84C8" />
<text x="639.15" y="324.93" font-size="8.8" fill="#17406E" text-anchor="end" textLength="16.4" lengthAdjust="spacingAndGlyphs" transform="rotate(-90 639.15 324.93)">96.2</text>
<rect x="641.15" y="346.32" width="10.05" height="75.68" fill="#B3D4EE" />
<text x="649.45" y="351.22" font-size="8.8" fill="#1F3B57" text-anchor="end" textLength="16.4" lengthAdjust="spacingAndGlyphs" transform="rotate(-90 649.45 351.22)">71.4</text>
<text x="641.15" y="428.8" font-size="4.1" fill="#6a6a6a" text-anchor="middle">Kelantan</text>
<rect x="655.48" y="354.16" width="10.05" height="67.84" fill="#2C84C8" />
<text x="663.77" y="359.06" font-size="8.8" fill="#17406E" text-anchor="end" textLength="16.4" lengthAdjust="spacingAndGlyphs" transform="rotate(-90 663.77 359.06)">64.0</text>
<rect x="665.77" y="356.28" width="10.05" height="65.72" fill="#B3D4EE" />
<text x="674.07" y="361.18" font-size="8.8" fill="#1F3B57" text-anchor="end" textLength="16.4" lengthAdjust="spacingAndGlyphs" transform="rotate(-90 674.07 361.18)">62.0</text>
<text x="665.77" y="428.8" font-size="4.1" fill="#6a6a6a" text-anchor="middle">Melaka</text>
<rect x="680.1" y="343.56" width="10.05" height="78.44" fill="#2C84C8" />
<text x="688.4" y="348.46" font-size="8.8" fill="#17406E" text-anchor="end" textLength="16.4" lengthAdjust="spacingAndGlyphs" transform="rotate(-90 688.4 348.46)">74.0</text>
<rect x="690.4" y="345.89" width="10.05" height="76.11" fill="#B3D4EE" />
<text x="698.7" y="350.79" font-size="8.8" fill="#1F3B57" text-anchor="end" textLength="16.4" lengthAdjust="spacingAndGlyphs" transform="rotate(-90 698.7 350.79)">71.8</text>
<text x="690.4" y="428.8" font-size="4.1" fill="#6a6a6a" text-anchor="middle">Negeri</text>
<text x="690.4" y="433.2" font-size="4.1" fill="#6a6a6a" text-anchor="middle">Sembilan</text>
<rect x="704.73" y="359.14" width="10.05" height="62.86" fill="#2C84C8" />
<text x="713.02" y="364.04" font-size="8.8" fill="#17406E" text-anchor="end" textLength="16.4" lengthAdjust="spacingAndGlyphs" transform="rotate(-90 713.02 364.04)">59.3</text>
<rect x="715.02" y="355.11" width="10.05" height="66.89" fill="#B3D4EE" />
<text x="723.32" y="360.01" font-size="8.8" fill="#1F3B57" text-anchor="end" textLength="16.4" lengthAdjust="spacingAndGlyphs" transform="rotate(-90 723.32 360.01)">63.1</text>
<text x="715.02" y="428.8" font-size="4.1" fill="#6a6a6a" text-anchor="middle">Pahang</text>
<rect x="729.35" y="348.75" width="10.05" height="73.25" fill="#2C84C8" />
<text x="737.65" y="353.65" font-size="8.8" fill="#17406E" text-anchor="end" textLength="16.4" lengthAdjust="spacingAndGlyphs" transform="rotate(-90 737.65 353.65)">69.1</text>
<rect x="739.65" y="348.12" width="10.05" height="73.88" fill="#B3D4EE" />
<text x="747.95" y="353.02" font-size="8.8" fill="#1F3B57" text-anchor="end" textLength="16.4" lengthAdjust="spacingAndGlyphs" transform="rotate(-90 747.95 353.02)">69.7</text>
<text x="739.65" y="428.8" font-size="4.1" fill="#6a6a6a" text-anchor="middle">Perak</text>
<rect x="753.98" y="361.37" width="10.05" height="60.63" fill="#2C84C8" />
<text x="762.27" y="366.27" font-size="8.8" fill="#17406E" text-anchor="end" textLength="16.4" lengthAdjust="spacingAndGlyphs" transform="rotate(-90 762.27 366.27)">57.2</text>
<rect x="764.27" y="366.67" width="10.05" height="55.33" fill="#B3D4EE" />
<text x="772.57" y="371.57" font-size="8.8" fill="#1F3B57" text-anchor="end" textLength="16.4" lengthAdjust="spacingAndGlyphs" transform="rotate(-90 772.57 371.57)">52.2</text>
<text x="764.27" y="428.8" font-size="4.1" fill="#6a6a6a" text-anchor="middle">Perlis</text>
<rect x="778.6" y="361.69" width="10.05" height="60.31" fill="#2C84C8" />
<text x="786.9" y="366.59" font-size="8.8" fill="#17406E" text-anchor="end" textLength="16.4" lengthAdjust="spacingAndGlyphs" transform="rotate(-90 786.9 366.59)">56.9</text>
<rect x="788.9" y="364.44" width="10.05" height="57.56" fill="#B3D4EE" />
<text x="797.2" y="369.34" font-size="8.8" fill="#1F3B57" text-anchor="end" textLength="16.4" lengthAdjust="spacingAndGlyphs" transform="rotate(-90 797.2 369.34)">54.3</text>
<text x="788.9" y="428.8" font-size="4.1" fill="#6a6a6a" text-anchor="middle">Pulau Pinang</text>
<rect x="803.23" y="381.83" width="10.05" height="40.17" fill="#2C84C8" />
<text x="811.52" y="386.73" font-size="8.8" fill="#17406E" text-anchor="end" textLength="16.4" lengthAdjust="spacingAndGlyphs" transform="rotate(-90 811.52 386.73)">37.9</text>
<rect x="813.52" y="374.09" width="10.05" height="47.91" fill="#B3D4EE" />
<text x="821.82" y="378.99" font-size="8.8" fill="#1F3B57" text-anchor="end" textLength="16.4" lengthAdjust="spacingAndGlyphs" transform="rotate(-90 821.82 378.99)">45.2</text>
<text x="813.52" y="428.8" font-size="4.1" fill="#6a6a6a" text-anchor="middle">Sabah</text>
<rect x="827.85" y="364.87" width="10.05" height="57.13" fill="#2C84C8" />
<text x="836.15" y="369.77" font-size="8.8" fill="#17406E" text-anchor="end" textLength="16.4" lengthAdjust="spacingAndGlyphs" transform="rotate(-90 836.15 369.77)">53.9</text>
<rect x="838.15" y="365.08" width="10.05" height="56.92" fill="#B3D4EE" />
<text x="846.45" y="369.98" font-size="8.8" fill="#1F3B57" text-anchor="end" textLength="16.4" lengthAdjust="spacingAndGlyphs" transform="rotate(-90 846.45 369.98)">53.7</text>
<text x="838.15" y="428.8" font-size="4.1" fill="#6a6a6a" text-anchor="middle">Sarawak</text>
<rect x="852.48" y="362.64" width="10.05" height="59.36" fill="#2C84C8" />
<text x="860.77" y="367.54" font-size="8.8" fill="#17406E" text-anchor="end" textLength="16.4" lengthAdjust="spacingAndGlyphs" transform="rotate(-90 860.77 367.54)">56.0</text>
<rect x="862.77" y="359.14" width="10.05" height="62.86" fill="#B3D4EE" />
<text x="871.07" y="364.04" font-size="8.8" fill="#1F3B57" text-anchor="end" textLength="16.4" lengthAdjust="spacingAndGlyphs" transform="rotate(-90 871.07 364.04)">59.3</text>
<text x="862.77" y="428.8" font-size="4.1" fill="#6a6a6a" text-anchor="middle">Selangor</text>
<rect x="877.1" y="348.01" width="10.05" height="73.99" fill="#2C84C8" />
<text x="885.4" y="352.91" font-size="8.8" fill="#17406E" text-anchor="end" textLength="16.4" lengthAdjust="spacingAndGlyphs" transform="rotate(-90 885.4 352.91)">69.8</text>
<rect x="887.4" y="341.33" width="10.05" height="80.67" fill="#B3D4EE" />
<text x="895.7" y="346.23" font-size="8.8" fill="#1F3B57" text-anchor="end" textLength="16.4" lengthAdjust="spacingAndGlyphs" transform="rotate(-90 895.7 346.23)">76.1</text>
<text x="887.4" y="428.8" font-size="4.1" fill="#6a6a6a" text-anchor="middle">Terengganu</text>
<rect x="901.73" y="336.88" width="10.05" height="85.12" fill="#2C84C8" />
<text x="910.02" y="341.78" font-size="8.8" fill="#17406E" text-anchor="end" textLength="16.4" lengthAdjust="spacingAndGlyphs" transform="rotate(-90 910.02 341.78)">80.3</text>
<rect x="912.02" y="359.35" width="10.05" height="62.65" fill="#B3D4EE" />
<text x="920.32" y="364.25" font-size="8.8" fill="#1F3B57" text-anchor="end" textLength="16.4" lengthAdjust="spacingAndGlyphs" transform="rotate(-90 920.32 364.25)">59.1</text>
<text x="912.02" y="428.8" font-size="4.1" fill="#6a6a6a" text-anchor="middle">W.P. Kuala</text>
<text x="912.02" y="433.2" font-size="4.1" fill="#6a6a6a" text-anchor="middle">Lumpur</text>
<rect x="926.35" y="344.3" width="10.05" height="77.7" fill="#2C84C8" />
<text x="934.65" y="349.2" font-size="8.8" fill="#17406E" text-anchor="end" textLength="16.4" lengthAdjust="spacingAndGlyphs" transform="rotate(-90 934.65 349.2)">73.3</text>
<rect x="936.65" y="360.41" width="10.05" height="61.59" fill="#B3D4EE" />
<text x="944.95" y="365.31" font-size="8.8" fill="#1F3B57" text-anchor="end" textLength="16.4" lengthAdjust="spacingAndGlyphs" transform="rotate(-90 944.95 365.31)">58.1</text>
<text x="936.65" y="428.8" font-size="4.1" fill="#6a6a6a" text-anchor="middle">W.P. Labuan</text>
<rect x="950.98" y="318.01" width="10.05" height="103.99" fill="#2C84C8" />
<text x="959.27" y="322.91" font-size="8.8" fill="#17406E" text-anchor="end" textLength="16.4" lengthAdjust="spacingAndGlyphs" transform="rotate(-90 959.27 322.91)">98.1</text>
<rect x="961.27" y="365.5" width="10.05" height="56.5" fill="#B3D4EE" />
<text x="969.57" y="370.4" font-size="8.8" fill="#1F3B57" text-anchor="end" textLength="16.4" lengthAdjust="spacingAndGlyphs" transform="rotate(-90 969.57 370.4)">53.3</text>
<text x="961.27" y="428.8" font-size="4.1" fill="#6a6a6a" text-anchor="middle">W.P.</text>
<text x="961.27" y="433.2" font-size="4.1" fill="#6a6a6a" text-anchor="middle">Putrajaya</text>
<rect x="975.6" y="357.98" width="10.05" height="64.02" fill="#2C84C8" />
<text x="983.9" y="362.88" font-size="8.8" fill="#0c1a2e" font-weight="bold" text-anchor="end" textLength="16.4" lengthAdjust="spacingAndGlyphs" transform="rotate(-90 983.9 362.88)">60.4</text>
<rect x="985.9" y="356.28" width="10.05" height="65.72" fill="#B3D4EE" />
<text x="994.2" y="361.18" font-size="8.8" fill="#0c1a2e" font-weight="bold" text-anchor="end" textLength="16.4" lengthAdjust="spacingAndGlyphs" transform="rotate(-90 994.2 361.18)">62.0</text>
<text x="978" y="431.65" font-size="4.6" fill="#111" font-weight="bold" textLength="20" lengthAdjust="spacingAndGlyphs">Malaysia</text>
<line x1="578.5" y1="293.8" x2="578.5" y2="422" stroke="#555" stroke-width="0.6" />
<line x1="578.5" y1="422" x2="998.5" y2="422" stroke="#555" stroke-width="0.7" />
<line x1="576.9" y1="422" x2="578.5" y2="422" stroke="#555" stroke-width="0.5" />
<text x="573.5" y="424.3" font-size="6.5" fill="#444" text-anchor="end">0.0</text>
<line x1="576.9" y1="400.8" x2="578.5" y2="400.8" stroke="#555" stroke-width="0.5" />
<text x="573.5" y="403.1" font-size="6.5" fill="#444" text-anchor="end">20.0</text>
<line x1="576.9" y1="379.6" x2="578.5" y2="379.6" stroke="#555" stroke-width="0.5" />
<text x="573.5" y="381.9" font-size="6.5" fill="#444" text-anchor="end">40.0</text>
<line x1="576.9" y1="358.4" x2="578.5" y2="358.4" stroke="#555" stroke-width="0.5" />
<text x="573.5" y="360.7" font-size="6.5" fill="#444" text-anchor="end">60.0</text>
<line x1="576.9" y1="337.2" x2="578.5" y2="337.2" stroke="#555" stroke-width="0.5" />
<text x="573.5" y="339.5" font-size="6.5" fill="#444" text-anchor="end">80.0</text>
<line x1="576.9" y1="316" x2="578.5" y2="316" stroke="#555" stroke-width="0.5" />
<text x="573.5" y="318.3" font-size="6.5" fill="#444" text-anchor="end">100.0</text>
<line x1="576.9" y1="294.8" x2="578.5" y2="294.8" stroke="#555" stroke-width="0.5" />
<text x="573.5" y="297.1" font-size="6.5" fill="#444" text-anchor="end">120.0</text>
<text x="534.7" y="430" font-size="4.9" fill="#222" font-weight="bold" textLength="148" lengthAdjust="spacingAndGlyphs" transform="rotate(-90 534.7 430)">Rate (per 1,000 population of unmarried Muslim males</text>
<text x="541.7" y="402" font-size="4.9" fill="#222" font-weight="bold" textLength="92" lengthAdjust="spacingAndGlyphs" transform="rotate(-90 541.7 402)">aged 18 years and over or females</text>
<text x="548.7" y="388" font-size="4.9" fill="#222" font-weight="bold" textLength="64" lengthAdjust="spacingAndGlyphs" transform="rotate(-90 548.7 388)">aged 16 years and over)</text>
<text x="782.6" y="442.52" font-size="4.8" fill="#111" font-weight="bold" textLength="12.4" lengthAdjust="spacingAndGlyphs">State</text>
<rect x="946" y="280.6" width="3" height="3" fill="#2C84C8" />
<text x="950" y="283.95" font-size="4.9" fill="#111" font-weight="bold" textLength="14" lengthAdjust="spacingAndGlyphs">Male</text>
<rect x="972.5" y="280.6" width="3" height="3" fill="#B3D4EE" />
<text x="976.5" y="283.95" font-size="4.9" fill="#111" font-weight="bold" textLength="20" lengthAdjust="spacingAndGlyphs">Female</text>
<text x="680.3" y="462.69" font-size="9.2" fill="#111" font-weight="bold" textLength="170.2" lengthAdjust="spacingAndGlyphs" stroke="#111" stroke-width="0.3">Non-Muslim General Marriage Rate (GMR)</text>
<rect x="577.4" y="545.99" width="10.45" height="58.61" fill="#2C84C8" />
<text x="585.9" y="550.89" font-size="8.8" fill="#17406E" text-anchor="end" textLength="16.4" lengthAdjust="spacingAndGlyphs" transform="rotate(-90 585.9 550.89)">16.0</text>
<rect x="588.1" y="527.31" width="10.45" height="77.29" fill="#B3D4EE" />
<text x="596.6" y="532.21" font-size="8.8" fill="#1F3B57" text-anchor="end" textLength="16.4" lengthAdjust="spacingAndGlyphs" transform="rotate(-90 596.6 532.21)">21.1</text>
<text x="588.1" y="611.3" font-size="4.1" fill="#6a6a6a" text-anchor="middle">Johor</text>
<rect x="602.28" y="502.77" width="10.45" height="101.83" fill="#2C84C8" />
<text x="610.78" y="507.67" font-size="8.8" fill="#17406E" text-anchor="end" textLength="16.4" lengthAdjust="spacingAndGlyphs" transform="rotate(-90 610.78 507.67)">27.8</text>
<rect x="612.98" y="505.7" width="10.45" height="98.9" fill="#B3D4EE" />
<text x="621.48" y="510.6" font-size="8.8" fill="#1F3B57" text-anchor="end" textLength="16.4" lengthAdjust="spacingAndGlyphs" transform="rotate(-90 621.48 510.6)">27.0</text>
<text x="612.98" y="611.3" font-size="4.1" fill="#6a6a6a" text-anchor="middle">Kedah</text>
<rect x="627.16" y="527.68" width="10.45" height="76.92" fill="#2C84C8" />
<text x="635.66" y="532.58" font-size="8.8" fill="#17406E" text-anchor="end" textLength="16.4" lengthAdjust="spacingAndGlyphs" transform="rotate(-90 635.66 532.58)">21.0</text>
<rect x="637.86" y="515.96" width="10.45" height="88.64" fill="#B3D4EE" />
<text x="646.36" y="520.86" font-size="8.8" fill="#1F3B57" text-anchor="end" textLength="16.4" lengthAdjust="spacingAndGlyphs" transform="rotate(-90 646.36 520.86)">24.2</text>
<text x="637.86" y="611.3" font-size="4.1" fill="#6a6a6a" text-anchor="middle">Kelantan</text>
<rect x="652.04" y="515.23" width="10.45" height="89.37" fill="#2C84C8" />
<text x="660.54" y="520.13" font-size="8.8" fill="#17406E" text-anchor="end" textLength="16.4" lengthAdjust="spacingAndGlyphs" transform="rotate(-90 660.54 520.13)">24.4</text>
<rect x="662.74" y="519.99" width="10.45" height="84.61" fill="#B3D4EE" />
<text x="671.24" y="524.89" font-size="8.8" fill="#1F3B57" text-anchor="end" textLength="16.4" lengthAdjust="spacingAndGlyphs" transform="rotate(-90 671.24 524.89)">23.1</text>
<text x="662.74" y="611.3" font-size="4.1" fill="#6a6a6a" text-anchor="middle">Melaka</text>
<rect x="676.92" y="503.14" width="10.45" height="101.46" fill="#2C84C8" />
<text x="685.42" y="508.04" font-size="8.8" fill="#17406E" text-anchor="end" textLength="16.4" lengthAdjust="spacingAndGlyphs" transform="rotate(-90 685.42 508.04)">27.7</text>
<rect x="687.62" y="494.35" width="10.45" height="110.25" fill="#B3D4EE" />
<text x="696.12" y="499.25" font-size="8.8" fill="#1F3B57" text-anchor="end" textLength="16.4" lengthAdjust="spacingAndGlyphs" transform="rotate(-90 696.12 499.25)">30.1</text>
<text x="687.62" y="611.3" font-size="4.1" fill="#6a6a6a" text-anchor="middle">Negeri</text>
<text x="687.62" y="615.7" font-size="4.1" fill="#6a6a6a" text-anchor="middle">Sembilan</text>
<rect x="701.8" y="534.27" width="10.45" height="70.33" fill="#2C84C8" />
<text x="710.3" y="539.17" font-size="8.8" fill="#17406E" text-anchor="end" textLength="16.4" lengthAdjust="spacingAndGlyphs" transform="rotate(-90 710.3 539.17)">19.2</text>
<rect x="712.5" y="522.19" width="10.45" height="82.41" fill="#B3D4EE" />
<text x="721" y="527.09" font-size="8.8" fill="#1F3B57" text-anchor="end" textLength="16.4" lengthAdjust="spacingAndGlyphs" transform="rotate(-90 721 527.09)">22.5</text>
<text x="712.5" y="611.3" font-size="4.1" fill="#6a6a6a" text-anchor="middle">Pahang</text>
<rect x="726.68" y="517.06" width="10.45" height="87.54" fill="#2C84C8" />
<text x="735.18" y="521.96" font-size="8.8" fill="#17406E" text-anchor="end" textLength="16.4" lengthAdjust="spacingAndGlyphs" transform="rotate(-90 735.18 521.96)">23.9</text>
<rect x="737.38" y="524.02" width="10.45" height="80.58" fill="#B3D4EE" />
<text x="745.88" y="528.92" font-size="8.8" fill="#1F3B57" text-anchor="end" textLength="16.4" lengthAdjust="spacingAndGlyphs" transform="rotate(-90 745.88 528.92)">22.0</text>
<text x="737.38" y="611.3" font-size="4.1" fill="#6a6a6a" text-anchor="middle">Perak</text>
<rect x="751.56" y="539.03" width="10.45" height="65.57" fill="#2C84C8" />
<text x="760.06" y="543.93" font-size="8.8" fill="#17406E" text-anchor="end" textLength="16.4" lengthAdjust="spacingAndGlyphs" transform="rotate(-90 760.06 543.93)">17.9</text>
<rect x="762.26" y="535.01" width="10.45" height="69.59" fill="#B3D4EE" />
<text x="770.76" y="539.91" font-size="8.8" fill="#1F3B57" text-anchor="end" textLength="16.4" lengthAdjust="spacingAndGlyphs" transform="rotate(-90 770.76 539.91)">19.0</text>
<text x="762.26" y="611.3" font-size="4.1" fill="#6a6a6a" text-anchor="middle">Perlis</text>
<rect x="776.44" y="528.05" width="10.45" height="76.55" fill="#2C84C8" />
<text x="784.94" y="532.95" font-size="8.8" fill="#17406E" text-anchor="end" textLength="16.4" lengthAdjust="spacingAndGlyphs" transform="rotate(-90 784.94 532.95)">20.9</text>
<rect x="787.14" y="532.44" width="10.45" height="72.16" fill="#B3D4EE" />
<text x="795.64" y="537.34" font-size="8.8" fill="#1F3B57" text-anchor="end" textLength="16.4" lengthAdjust="spacingAndGlyphs" transform="rotate(-90 795.64 537.34)">19.7</text>
<text x="787.14" y="611.3" font-size="4.1" fill="#6a6a6a" text-anchor="middle">Pulau Pinang</text>
<rect x="801.32" y="544.16" width="10.45" height="60.44" fill="#2C84C8" />
<text x="809.82" y="549.06" font-size="8.8" fill="#17406E" text-anchor="end" textLength="16.4" lengthAdjust="spacingAndGlyphs" transform="rotate(-90 809.82 549.06)">16.5</text>
<rect x="812.02" y="541.23" width="10.45" height="63.37" fill="#B3D4EE" />
<text x="820.52" y="546.13" font-size="8.8" fill="#1F3B57" text-anchor="end" textLength="16.4" lengthAdjust="spacingAndGlyphs" transform="rotate(-90 820.52 546.13)">17.3</text>
<text x="812.02" y="611.3" font-size="4.1" fill="#6a6a6a" text-anchor="middle">Sabah</text>
<rect x="826.2" y="495.08" width="10.45" height="109.52" fill="#2C84C8" />
<text x="834.7" y="499.98" font-size="8.8" fill="#17406E" text-anchor="end" textLength="16.4" lengthAdjust="spacingAndGlyphs" transform="rotate(-90 834.7 499.98)">29.9</text>
<rect x="836.9" y="495.81" width="10.45" height="108.79" fill="#B3D4EE" />
<text x="845.4" y="500.71" font-size="8.8" fill="#1F3B57" text-anchor="end" textLength="16.4" lengthAdjust="spacingAndGlyphs" transform="rotate(-90 845.4 500.71)">29.7</text>
<text x="836.9" y="611.3" font-size="4.1" fill="#6a6a6a" text-anchor="middle">Sarawak</text>
<rect x="851.08" y="527.68" width="10.45" height="76.92" fill="#2C84C8" />
<text x="859.58" y="532.58" font-size="8.8" fill="#17406E" text-anchor="end" textLength="16.4" lengthAdjust="spacingAndGlyphs" transform="rotate(-90 859.58 532.58)">21.0</text>
<rect x="861.78" y="518.16" width="10.45" height="86.44" fill="#B3D4EE" />
<text x="870.28" y="523.06" font-size="8.8" fill="#1F3B57" text-anchor="end" textLength="16.4" lengthAdjust="spacingAndGlyphs" transform="rotate(-90 870.28 523.06)">23.6</text>
<text x="861.78" y="611.3" font-size="4.1" fill="#6a6a6a" text-anchor="middle">Selangor</text>
<rect x="875.96" y="555.15" width="10.45" height="49.45" fill="#2C84C8" />
<text x="884.46" y="560.05" font-size="8.8" fill="#17406E" text-anchor="end" textLength="16.4" lengthAdjust="spacingAndGlyphs" transform="rotate(-90 884.46 560.05)">13.5</text>
<rect x="886.66" y="538.3" width="10.45" height="66.3" fill="#B3D4EE" />
<text x="895.16" y="543.2" font-size="8.8" fill="#1F3B57" text-anchor="end" textLength="16.4" lengthAdjust="spacingAndGlyphs" transform="rotate(-90 895.16 543.2)">18.1</text>
<text x="886.66" y="611.3" font-size="4.1" fill="#6a6a6a" text-anchor="middle">Terengganu</text>
<rect x="900.84" y="519.99" width="10.45" height="84.61" fill="#2C84C8" />
<text x="909.34" y="524.89" font-size="8.8" fill="#17406E" text-anchor="end" textLength="16.4" lengthAdjust="spacingAndGlyphs" transform="rotate(-90 909.34 524.89)">23.1</text>
<rect x="911.54" y="534.64" width="10.45" height="69.96" fill="#B3D4EE" />
<text x="920.04" y="539.54" font-size="8.8" fill="#1F3B57" text-anchor="end" textLength="16.4" lengthAdjust="spacingAndGlyphs" transform="rotate(-90 920.04 539.54)">19.1</text>
<text x="911.54" y="611.3" font-size="4.1" fill="#6a6a6a" text-anchor="middle">W.P. Kuala</text>
<text x="911.54" y="615.7" font-size="4.1" fill="#6a6a6a" text-anchor="middle">Lumpur</text>
<rect x="925.72" y="502.77" width="10.45" height="101.83" fill="#2C84C8" />
<text x="934.22" y="507.67" font-size="8.8" fill="#17406E" text-anchor="end" textLength="16.4" lengthAdjust="spacingAndGlyphs" transform="rotate(-90 934.22 507.67)">27.8</text>
<rect x="936.42" y="528.78" width="10.45" height="75.82" fill="#B3D4EE" />
<text x="944.92" y="533.68" font-size="8.8" fill="#1F3B57" text-anchor="end" textLength="16.4" lengthAdjust="spacingAndGlyphs" transform="rotate(-90 944.92 533.68)">20.7</text>
<text x="936.42" y="611.3" font-size="4.1" fill="#6a6a6a" text-anchor="middle">W.P. Labuan</text>
<rect x="950.6" y="548.19" width="10.45" height="56.41" fill="#2C84C8" />
<text x="959.1" y="553.09" font-size="8.8" fill="#17406E" text-anchor="end" textLength="16.4" lengthAdjust="spacingAndGlyphs" transform="rotate(-90 959.1 553.09)">15.4</text>
<rect x="961.3" y="518.16" width="10.45" height="86.44" fill="#B3D4EE" />
<text x="969.8" y="523.06" font-size="8.8" fill="#1F3B57" text-anchor="end" textLength="16.4" lengthAdjust="spacingAndGlyphs" transform="rotate(-90 969.8 523.06)">23.6</text>
<text x="961.3" y="611.3" font-size="4.1" fill="#6a6a6a" text-anchor="middle">W.P.</text>
<text x="961.3" y="615.7" font-size="4.1" fill="#6a6a6a" text-anchor="middle">Putrajaya</text>
<rect x="975.48" y="524.38" width="10.45" height="80.22" fill="#2C84C8" />
<text x="983.98" y="529.28" font-size="8.8" fill="#0c1a2e" font-weight="bold" text-anchor="end" textLength="16.4" lengthAdjust="spacingAndGlyphs" transform="rotate(-90 983.98 529.28)">21.9</text>
<rect x="986.18" y="520.35" width="10.45" height="84.25" fill="#B3D4EE" />
<text x="994.68" y="525.25" font-size="8.8" fill="#0c1a2e" font-weight="bold" text-anchor="end" textLength="16.4" lengthAdjust="spacingAndGlyphs" transform="rotate(-90 994.68 525.25)">23.0</text>
<text x="978.7" y="614.65" font-size="4.6" fill="#111" font-weight="bold" textLength="19.3" lengthAdjust="spacingAndGlyphs">Malaysia</text>
<line x1="575.5" y1="475.4" x2="575.5" y2="604.6" stroke="#555" stroke-width="0.6" />
<line x1="575.5" y1="604.6" x2="998.5" y2="604.6" stroke="#555" stroke-width="0.7" />
<line x1="573.9" y1="604.6" x2="575.5" y2="604.6" stroke="#555" stroke-width="0.5" />
<text x="570.5" y="606.9" font-size="6.5" fill="#444" text-anchor="end">0.0</text>
<line x1="573.9" y1="586.29" x2="575.5" y2="586.29" stroke="#555" stroke-width="0.5" />
<text x="570.5" y="588.59" font-size="6.5" fill="#444" text-anchor="end">5.0</text>
<line x1="573.9" y1="567.97" x2="575.5" y2="567.97" stroke="#555" stroke-width="0.5" />
<text x="570.5" y="570.27" font-size="6.5" fill="#444" text-anchor="end">10.0</text>
<line x1="573.9" y1="549.66" x2="575.5" y2="549.66" stroke="#555" stroke-width="0.5" />
<text x="570.5" y="551.96" font-size="6.5" fill="#444" text-anchor="end">15.0</text>
<line x1="573.9" y1="531.34" x2="575.5" y2="531.34" stroke="#555" stroke-width="0.5" />
<text x="570.5" y="533.64" font-size="6.5" fill="#444" text-anchor="end">20.0</text>
<line x1="573.9" y1="513.03" x2="575.5" y2="513.03" stroke="#555" stroke-width="0.5" />
<text x="570.5" y="515.33" font-size="6.5" fill="#444" text-anchor="end">25.0</text>
<line x1="573.9" y1="494.71" x2="575.5" y2="494.71" stroke="#555" stroke-width="0.5" />
<text x="570.5" y="497.01" font-size="6.5" fill="#444" text-anchor="end">30.0</text>
<line x1="573.9" y1="476.4" x2="575.5" y2="476.4" stroke="#555" stroke-width="0.5" />
<text x="570.5" y="478.7" font-size="6.5" fill="#444" text-anchor="end">35.0</text>
<text x="532.2" y="602" font-size="4.9" fill="#222" font-weight="bold" textLength="110" lengthAdjust="spacingAndGlyphs" transform="rotate(-90 532.2 602)">Rate (per 1,000 population of unmarried</text>
<text x="539.2" y="605" font-size="4.9" fill="#222" font-weight="bold" textLength="116" lengthAdjust="spacingAndGlyphs" transform="rotate(-90 539.2 605)">Non-Muslim males aged 18 years and over</text>
<text x="546" y="596" font-size="4.9" fill="#222" font-weight="bold" textLength="98" lengthAdjust="spacingAndGlyphs" transform="rotate(-90 546 596)">or females aged 16 years and over)</text>
<text x="781" y="624.72" font-size="4.8" fill="#111" font-weight="bold" textLength="12.3" lengthAdjust="spacingAndGlyphs">State</text>
<rect x="946.2" y="462.8" width="3" height="3" fill="#2C84C8" />
<text x="950.4" y="466.15" font-size="4.9" fill="#111" font-weight="bold" textLength="13.5" lengthAdjust="spacingAndGlyphs">Male</text>
<rect x="972.7" y="462.8" width="3" height="3" fill="#B3D4EE" />
<text x="976.2" y="466.15" font-size="4.9" fill="#111" font-weight="bold" textLength="20.2" lengthAdjust="spacingAndGlyphs">Female</text>
<g transform="translate(853.6,-308.4)"><path d="M112.4,452 h7.4 l-0.4,18.6 h-2.6 l-0.7,-14 l-0.7,14 h-2.6z" fill="#E2DACE"/><path d="M112,470.5 h3.4 v1.3 h-3.8z M116.7,470.5 h3.4 l0.4,1.3 h-3.8z" fill="#222"/><path d="M110.6,441.5 c1.2,-1.5 3,-2 5.5,-2 c2.5,0 4.3,0.5 5.5,2 l0.8,9 c0,1.2 -1.2,1.5 -1.8,0.8 l-0.5,2 h-8 l-0.5,-2 c-0.6,0.7 -1.8,0.4 -1.8,-0.8z" fill="#DDD2C2"/><path d="M114.8,439.8 l1.3,5 l1.3,-5z" fill="#F4EEE4"/><ellipse cx="116" cy="433.8" rx="5" ry="5.2" fill="#F5D5B8"/><path d="M110.4,433.5 c-0.8,-4.5 2,-6.7 5.6,-6.7 c3.6,0 6.4,2.2 5.6,6.7 c-0.8,-2.2 -2.5,-3.2 -5.6,-3.2 c-3.1,0 -4.8,1 -5.6,3.2z" fill="#8A5A32"/><path d="M127,445 c1.5,-0.8 4,-0.8 5.5,0 l1.2,5.5 c3,5 7.5,13 9.8,20.5 c-6,1.2 -16,1.2 -21.8,0.2 c1,-7 2.5,-14.5 4.3,-20.5z" fill="#F1EBE3" stroke="#E6DED4" stroke-width="0.4"/><path d="M128,452 c-1.5,6 -2.6,12 -3,18.5" fill="none" stroke="#D5D8D2" stroke-width="0.9"/><path d="M124,438.5 c0,-4.6 2.7,-6.7 5.7,-6.7 c3,0 5.7,2.1 5.7,6.7 c0,2.5 0.5,6.5 0.2,9 c-0.8,0.4 -1.6,0.2 -2,-0.4 l-0.6,-4 h-6.6 l-0.6,4 c-0.4,0.6 -1.2,0.8 -2,0.4 c-0.3,-2.5 0.2,-6.5 0.2,-9z" fill="#9A6A42"/><ellipse cx="129.7" cy="438.8" rx="3.9" ry="4.2" fill="#F5D5B8"/><path d="M125.6,437.5 c0.3,-3 2,-4.4 4.1,-4.4 c2.1,0 3.8,1.4 4.1,4.4 c-1.3,-1.6 -2.5,-2.2 -4.1,-2.2 c-1.6,0 -2.8,0.6 -4.1,2.2z" fill="#9A6A42"/><circle cx="129.7" cy="448.5" r="2" fill="#F6F0DC"/><ellipse cx="114.2" cy="435" rx="0.55" ry="0.9" fill="#3a2a22"/><ellipse cx="117.9" cy="435" rx="0.55" ry="0.9" fill="#3a2a22"/><ellipse cx="128.3" cy="439.6" rx="0.5" ry="0.85" fill="#3a2a22"/><ellipse cx="131.3" cy="439.6" rx="0.5" ry="0.85" fill="#3a2a22"/></g><g><path d="M975.7,326 h7.6 l-0.5,16 h-2.4 l-0.9,-12 l-0.9,12 h-2.4z" fill="#C9C9C9"/><path d="M977.5,342 h3 l2.8,0 v2.7 h-6z" fill="#1a1a1a"/><path d="M974.6,314.5 c1.2,-1.6 3,-2.3 5.2,-2.3 c2.2,0 4,0.7 5.2,2.3 l0.6,9.5 l-1,2.8 h-9.6 l-1,-2.8z" fill="#F1F1EF" stroke="#DADAD8" stroke-width="0.4"/><ellipse cx="979.7" cy="306.2" rx="5.9" ry="5.9" fill="#F5D5B8"/><path d="M973.2,306 c-1,-5 2.4,-7.4 6.5,-7.4 c4.1,0 7.5,2.4 6.5,7.4 c-0.9,-2.6 -2.8,-3.8 -6.5,-3.8 c-3.7,0 -5.6,1.2 -6.5,3.8z" fill="#5A3A22"/><path d="M988.5,316 c2,-0.8 5.5,-0.8 7.5,0 l2.2,7 c1,6.5 1.6,14 1.8,21.3 c-4.5,0.8 -10.5,0.8 -14.8,0 c0.1,-7.3 0.6,-14.8 1.5,-21.3z" fill="#9FBBDA"/><circle cx="992.3" cy="324.5" r="2.3" fill="#E8E8C8"/><path d="M992.3,326.5 v4" stroke="#6A9A5A" stroke-width="0.9"/><path d="M986.2,309.5 c0,-5.2 2.8,-7.8 6.1,-7.8 c3.3,0 6.1,2.6 6.1,7.8 c0,3.2 -1,6.2 -2,8 h-8.2 c-1,-1.8 -2,-4.8 -2,-8z" fill="#AEC4DC"/><ellipse cx="992.3" cy="310.2" rx="3.7" ry="3.9" fill="#F5D5B8"/><path d="M988.2,304.8 c2.5,-2 5.7,-2 8.2,0" fill="none" stroke="#C8D6E6" stroke-width="1.2"/><ellipse cx="977.6" cy="307.6" rx="0.6" ry="1" fill="#3a2a22"/><ellipse cx="982" cy="307.6" rx="0.6" ry="1" fill="#3a2a22"/><ellipse cx="990.8" cy="310.6" rx="0.55" ry="0.9" fill="#3a2a22"/><ellipse cx="994" cy="310.6" rx="0.55" ry="0.9" fill="#3a2a22"/></g><g transform="translate(855.6,160.4)"><path d="M113.2,335 h8.6 l-0.6,20 h-3 l-0.6,-15 l-0.8,15 h-3z" fill="#1F2550"/><path d="M112.6,355 h4 v1.3 h-4.6z M117.6,355 h4 l0.6,1.3 h-4.6z" fill="#15151f"/><path d="M110.2,323.5 c1.5,-1.8 4,-2.4 7,-2.4 c3,0 5.8,0.6 7.3,2.4 l1.3,9.5 c0,1.5 -1.5,2 -2.3,1 l-0.9,2.5 h-10.4 l-0.9,-2.5 c-0.8,1 -2.3,0.5 -2.3,-1z" fill="#1F2550"/><path d="M116.1,321.2 l1.3,4.5 l1.3,-4.5z" fill="#fff"/><rect x="117" y="322" width="0.8" height="3.6" fill="#2a3a6a"/><ellipse cx="117.1" cy="316.6" rx="4.3" ry="4.5" fill="#F5D5B8"/><path d="M112.5,316 c-0.6,-3.6 1.8,-5.2 4.8,-5.2 c3,0 5.2,1.6 4.5,5.2 c-0.8,-1.8 -2,-2.6 -3.8,-2.6 c-2.2,0 -4.3,0.6 -5.5,2.6z" fill="#6E4526"/><path d="M128.2,326.5 c1.8,-0.8 4.6,-0.8 6.4,0 l1.4,6 c2.5,7 4,15 4.6,22.8 c-5,1.2 -13,1.2 -17.2,0 c0.5,-8 1.6,-16 3.6,-22.8z" fill="#F8F6F2" stroke="#E9E6DF" stroke-width="0.4"/><circle cx="131.3" cy="333" r="1.9" fill="#DCE6D2"/><path d="M126.3,320.5 c0,-4.2 2.4,-6.2 5.1,-6.2 c2.8,0 5.1,2 5.1,6.2 c0,2 0.3,3.8 0.2,4.9 h-10.6 c-0.1,-1.1 0.2,-2.9 0.2,-4.9z" fill="#4B2E20"/><ellipse cx="131.4" cy="320.6" rx="3.5" ry="3.9" fill="#F5D5B8"/><path d="M127.6,319.6 c0.4,-2.8 2,-4 3.8,-4 c1.8,0 3.4,1.2 3.8,4 c-1.2,-1.5 -2.4,-2 -3.8,-2 c-1.4,0 -2.6,0.5 -3.8,2z" fill="#4B2E20"/><path d="M127.5,317.2 c2,-1.4 5.8,-1.4 7.8,0" fill="none" stroke="#E8C8C8" stroke-width="0.7"/></g><text x="530" y="627.19" font-size="5" fill="#111" font-weight="bold" textLength="16.4" lengthAdjust="spacingAndGlyphs">Notes:</text>
<text x="530" y="636.05" font-size="4.9" fill="#222" textLength="63" lengthAdjust="spacingAndGlyphs">W.P.: Wilayah Persekutuan</text>
<text x="530" y="643.75" font-size="4.9" fill="#222" textLength="132.6" lengthAdjust="spacingAndGlyphs">Statistics on marriages refer to registered records in 2021</text>
<defs><linearGradient id="ft0" x1="0" y1="0" x2="0" y2="1"><stop offset="0" stop-color="#C4DAEE"/><stop offset="0.035" stop-color="#8DB8DA"/><stop offset="0.09" stop-color="#4E91C2"/><stop offset="0.15" stop-color="#7FAAD6"/><stop offset="0.22" stop-color="#BFCCE8"/><stop offset="0.33" stop-color="#EFE8E0"/><stop offset="0.5" stop-color="#FCEFD0"/><stop offset="0.68" stop-color="#FBE3A4"/><stop offset="0.8" stop-color="#F8D27A"/><stop offset="0.855" stop-color="#F0B844"/><stop offset="0.89" stop-color="#F3C75E"/><stop offset="0.93" stop-color="#F6DC84"/><stop offset="1" stop-color="#F4E298"/></linearGradient></defs><rect x="1.6" y="648" width="507" height="32" fill="url(#ft0)"/><line x1="3" y1="653" x2="3" y2="680" stroke="#7F93AE" stroke-width="0.7" opacity="0.7"/><line x1="507.20000000000005" y1="653" x2="507.20000000000005" y2="680" stroke="#7F93AE" stroke-width="0.7" opacity="0.5"/><text x="255" y="668" font-size="10.5" fill="#858585" text-anchor="middle">5</text>
<text x="310" y="662.67" font-size="9.4" fill="#1a1a1a" textLength="190.4" lengthAdjust="spacingAndGlyphs">Source: Marriage and Divorce Statistics, Malaysia, 2022</text>
<text x="355.3" y="672.97" font-size="9.4" fill="#1a1a1a" textLength="145.1" lengthAdjust="spacingAndGlyphs">Department of Statistics Malaysia (DOSM)</text>
<defs><linearGradient id="ft510" x1="0" y1="0" x2="0" y2="1"><stop offset="0" stop-color="#C4DAEE"/><stop offset="0.035" stop-color="#8DB8DA"/><stop offset="0.09" stop-color="#4E91C2"/><stop offset="0.15" stop-color="#7FAAD6"/><stop offset="0.22" stop-color="#BFCCE8"/><stop offset="0.33" stop-color="#EFE8E0"/><stop offset="0.5" stop-color="#FCEFD0"/><stop offset="0.68" stop-color="#FBE3A4"/><stop offset="0.8" stop-color="#F8D27A"/><stop offset="0.855" stop-color="#F0B844"/><stop offset="0.89" stop-color="#F3C75E"/><stop offset="0.93" stop-color="#F6DC84"/><stop offset="1" stop-color="#F4E298"/></linearGradient></defs><rect x="512.6" y="648" width="505" height="32" fill="url(#ft510)"/><line x1="514" y1="653" x2="514" y2="680" stroke="#7F93AE" stroke-width="0.7" opacity="0.7"/><line x1="1016.2" y1="653" x2="1016.2" y2="680" stroke="#7F93AE" stroke-width="0.7" opacity="0.5"/><text x="765" y="668" font-size="10.5" fill="#858585" text-anchor="middle">7</text>
<text x="819.8" y="662.67" font-size="9.4" fill="#1a1a1a" textLength="190" lengthAdjust="spacingAndGlyphs">Source: Marriage and Divorce Statistics, Malaysia, 2022</text>
<text x="865" y="672.97" font-size="9.4" fill="#1a1a1a" textLength="144.8" lengthAdjust="spacingAndGlyphs">Department of Statistics Malaysia (DOSM)</text>

</svg>
</body>
</html>
